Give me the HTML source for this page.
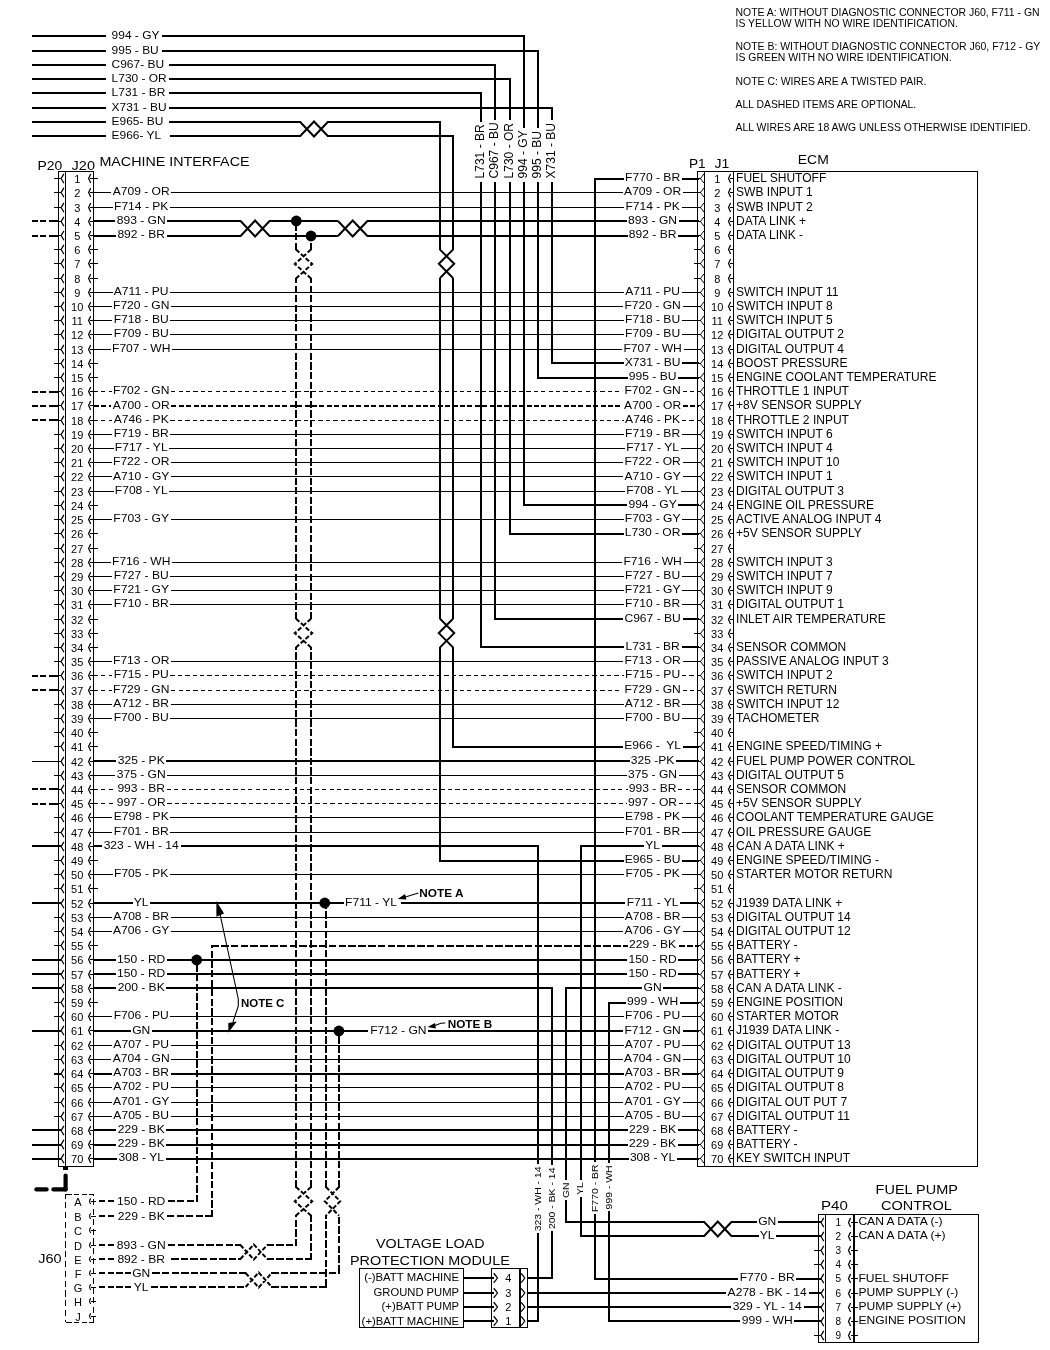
<!DOCTYPE html>
<html><head><meta charset="utf-8"><title>ECM wiring</title>
<style>
html,body{margin:0;padding:0;background:#fff;}
body{width:1050px;height:1350px;overflow:hidden;font-family:"Liberation Sans",sans-serif;}
svg{display:block;}
svg text{font-family:"Liberation Sans",sans-serif;fill:#000;}
</style></head><body>
<svg width="1050" height="1350" viewBox="0 0 1050 1350">
<rect x="0" y="0" width="1050" height="1350" fill="#fff"/>
<g fill="#000" shape-rendering="crispEdges">
<rect x="58" y="171" width="36" height="1"/>
<rect x="58" y="1166" width="36" height="1"/>
<rect x="58" y="171" width="1" height="996"/>
<rect x="93" y="171" width="1" height="996"/>
<rect x="65" y="172" width="1" height="994"/>
<rect x="54" y="178" width="7" height="1"/>
<rect x="90" y="178" width="8" height="1"/>
<rect x="54" y="192" width="7" height="1"/>
<rect x="90" y="192" width="4" height="1"/>
<rect x="54" y="207" width="7" height="1"/>
<rect x="90" y="207" width="4" height="1"/>
<rect x="32" y="220" width="6" height="2"/>
<rect x="40" y="220" width="6" height="2"/>
<rect x="49" y="220" width="9" height="2"/>
<rect x="54" y="221" width="7" height="1"/>
<rect x="90" y="221" width="4" height="1"/>
<rect x="32" y="235" width="6" height="2"/>
<rect x="40" y="235" width="6" height="2"/>
<rect x="49" y="235" width="9" height="2"/>
<rect x="54" y="235" width="7" height="1"/>
<rect x="90" y="235" width="4" height="1"/>
<rect x="54" y="249" width="7" height="1"/>
<rect x="90" y="249" width="8" height="1"/>
<rect x="54" y="263" width="7" height="1"/>
<rect x="90" y="263" width="8" height="1"/>
<rect x="54" y="278" width="7" height="1"/>
<rect x="90" y="278" width="8" height="1"/>
<rect x="54" y="292" width="7" height="1"/>
<rect x="90" y="292" width="4" height="1"/>
<rect x="54" y="306" width="7" height="1"/>
<rect x="90" y="306" width="4" height="1"/>
<rect x="54" y="320" width="7" height="1"/>
<rect x="90" y="320" width="4" height="1"/>
<rect x="54" y="334" width="7" height="1"/>
<rect x="90" y="334" width="4" height="1"/>
<rect x="54" y="349" width="7" height="1"/>
<rect x="90" y="349" width="4" height="1"/>
<rect x="54" y="363" width="7" height="1"/>
<rect x="90" y="363" width="8" height="1"/>
<rect x="54" y="377" width="7" height="1"/>
<rect x="90" y="377" width="8" height="1"/>
<rect x="32" y="391" width="6" height="2"/>
<rect x="40" y="391" width="6" height="2"/>
<rect x="49" y="391" width="9" height="2"/>
<rect x="54" y="391" width="7" height="1"/>
<rect x="90" y="391" width="4" height="1"/>
<rect x="32" y="405" width="6" height="2"/>
<rect x="40" y="405" width="6" height="2"/>
<rect x="49" y="405" width="9" height="2"/>
<rect x="54" y="405" width="7" height="1"/>
<rect x="90" y="405" width="4" height="1"/>
<rect x="32" y="419" width="6" height="2"/>
<rect x="40" y="419" width="6" height="2"/>
<rect x="49" y="419" width="9" height="2"/>
<rect x="54" y="420" width="7" height="1"/>
<rect x="90" y="420" width="4" height="1"/>
<rect x="54" y="434" width="7" height="1"/>
<rect x="90" y="434" width="4" height="1"/>
<rect x="54" y="448" width="7" height="1"/>
<rect x="90" y="448" width="4" height="1"/>
<rect x="54" y="462" width="7" height="1"/>
<rect x="90" y="462" width="4" height="1"/>
<rect x="54" y="476" width="7" height="1"/>
<rect x="90" y="476" width="4" height="1"/>
<rect x="54" y="491" width="7" height="1"/>
<rect x="90" y="491" width="4" height="1"/>
<rect x="54" y="505" width="7" height="1"/>
<rect x="90" y="505" width="8" height="1"/>
<rect x="54" y="519" width="7" height="1"/>
<rect x="90" y="519" width="4" height="1"/>
<rect x="54" y="533" width="7" height="1"/>
<rect x="90" y="533" width="8" height="1"/>
<rect x="54" y="548" width="7" height="1"/>
<rect x="90" y="548" width="8" height="1"/>
<rect x="54" y="562" width="7" height="1"/>
<rect x="90" y="562" width="4" height="1"/>
<rect x="54" y="576" width="7" height="1"/>
<rect x="90" y="576" width="4" height="1"/>
<rect x="54" y="590" width="7" height="1"/>
<rect x="90" y="590" width="4" height="1"/>
<rect x="54" y="604" width="7" height="1"/>
<rect x="90" y="604" width="4" height="1"/>
<rect x="54" y="619" width="7" height="1"/>
<rect x="90" y="619" width="8" height="1"/>
<rect x="54" y="633" width="7" height="1"/>
<rect x="90" y="633" width="8" height="1"/>
<rect x="54" y="647" width="7" height="1"/>
<rect x="90" y="647" width="8" height="1"/>
<rect x="54" y="661" width="7" height="1"/>
<rect x="90" y="661" width="4" height="1"/>
<rect x="32" y="675" width="6" height="2"/>
<rect x="40" y="675" width="6" height="2"/>
<rect x="49" y="675" width="9" height="2"/>
<rect x="54" y="675" width="7" height="1"/>
<rect x="90" y="675" width="4" height="1"/>
<rect x="32" y="689" width="6" height="2"/>
<rect x="40" y="689" width="6" height="2"/>
<rect x="49" y="689" width="9" height="2"/>
<rect x="54" y="690" width="7" height="1"/>
<rect x="90" y="690" width="4" height="1"/>
<rect x="54" y="704" width="7" height="1"/>
<rect x="90" y="704" width="4" height="1"/>
<rect x="54" y="718" width="7" height="1"/>
<rect x="90" y="718" width="4" height="1"/>
<rect x="54" y="732" width="7" height="1"/>
<rect x="90" y="732" width="8" height="1"/>
<rect x="54" y="746" width="7" height="1"/>
<rect x="90" y="746" width="8" height="1"/>
<rect x="32" y="761" width="29" height="1"/>
<rect x="54" y="761" width="7" height="1"/>
<rect x="90" y="761" width="4" height="1"/>
<rect x="54" y="775" width="7" height="1"/>
<rect x="90" y="775" width="4" height="1"/>
<rect x="32" y="788" width="6" height="2"/>
<rect x="40" y="788" width="6" height="2"/>
<rect x="49" y="788" width="9" height="2"/>
<rect x="54" y="789" width="7" height="1"/>
<rect x="90" y="789" width="4" height="1"/>
<rect x="32" y="803" width="6" height="2"/>
<rect x="40" y="803" width="6" height="2"/>
<rect x="49" y="803" width="9" height="2"/>
<rect x="54" y="803" width="7" height="1"/>
<rect x="90" y="803" width="4" height="1"/>
<rect x="54" y="817" width="7" height="1"/>
<rect x="90" y="817" width="4" height="1"/>
<rect x="54" y="832" width="7" height="1"/>
<rect x="90" y="832" width="4" height="1"/>
<rect x="32" y="845" width="29" height="2"/>
<rect x="54" y="846" width="7" height="1"/>
<rect x="90" y="846" width="4" height="1"/>
<rect x="54" y="860" width="7" height="1"/>
<rect x="90" y="860" width="8" height="1"/>
<rect x="54" y="874" width="7" height="1"/>
<rect x="90" y="874" width="4" height="1"/>
<rect x="54" y="888" width="7" height="1"/>
<rect x="90" y="888" width="8" height="1"/>
<rect x="32" y="902" width="29" height="2"/>
<rect x="54" y="903" width="7" height="1"/>
<rect x="90" y="903" width="4" height="1"/>
<rect x="54" y="917" width="7" height="1"/>
<rect x="90" y="917" width="4" height="1"/>
<rect x="54" y="931" width="7" height="1"/>
<rect x="90" y="931" width="4" height="1"/>
<rect x="54" y="945" width="7" height="1"/>
<rect x="90" y="945" width="8" height="1"/>
<rect x="32" y="959" width="29" height="2"/>
<rect x="54" y="959" width="7" height="1"/>
<rect x="90" y="959" width="4" height="1"/>
<rect x="32" y="973" width="29" height="2"/>
<rect x="54" y="974" width="7" height="1"/>
<rect x="90" y="974" width="4" height="1"/>
<rect x="32" y="987" width="29" height="2"/>
<rect x="54" y="988" width="7" height="1"/>
<rect x="90" y="988" width="4" height="1"/>
<rect x="54" y="1002" width="7" height="1"/>
<rect x="90" y="1002" width="8" height="1"/>
<rect x="54" y="1016" width="7" height="1"/>
<rect x="90" y="1016" width="4" height="1"/>
<rect x="32" y="1030" width="29" height="2"/>
<rect x="54" y="1030" width="7" height="1"/>
<rect x="90" y="1030" width="4" height="1"/>
<rect x="54" y="1045" width="7" height="1"/>
<rect x="90" y="1045" width="4" height="1"/>
<rect x="54" y="1059" width="7" height="1"/>
<rect x="90" y="1059" width="4" height="1"/>
<rect x="54" y="1073" width="7" height="2"/>
<rect x="54" y="1073" width="7" height="1"/>
<rect x="90" y="1073" width="4" height="1"/>
<rect x="54" y="1087" width="7" height="1"/>
<rect x="90" y="1087" width="4" height="1"/>
<rect x="54" y="1102" width="7" height="1"/>
<rect x="90" y="1102" width="4" height="1"/>
<rect x="54" y="1116" width="7" height="1"/>
<rect x="90" y="1116" width="4" height="1"/>
<rect x="32" y="1129" width="29" height="2"/>
<rect x="54" y="1130" width="7" height="1"/>
<rect x="90" y="1130" width="4" height="1"/>
<rect x="32" y="1144" width="29" height="2"/>
<rect x="54" y="1144" width="7" height="1"/>
<rect x="90" y="1144" width="4" height="1"/>
<rect x="32" y="1158" width="29" height="2"/>
<rect x="54" y="1158" width="7" height="1"/>
<rect x="90" y="1158" width="4" height="1"/>
<rect x="697" y="171" width="281" height="1"/>
<rect x="697" y="1166" width="281" height="1"/>
<rect x="697" y="171" width="1" height="996"/>
<rect x="977" y="171" width="1" height="996"/>
<rect x="704" y="172" width="1" height="994"/>
<rect x="733" y="172" width="1" height="994"/>
<rect x="698" y="178" width="3" height="1"/>
<rect x="730" y="178" width="4" height="1"/>
<rect x="698" y="192" width="3" height="1"/>
<rect x="730" y="192" width="4" height="1"/>
<rect x="698" y="207" width="3" height="1"/>
<rect x="730" y="207" width="4" height="1"/>
<rect x="698" y="221" width="3" height="1"/>
<rect x="730" y="221" width="4" height="1"/>
<rect x="698" y="235" width="3" height="1"/>
<rect x="730" y="235" width="4" height="1"/>
<rect x="694" y="249" width="7" height="1"/>
<rect x="730" y="249" width="4" height="1"/>
<rect x="694" y="263" width="7" height="1"/>
<rect x="730" y="263" width="4" height="1"/>
<rect x="694" y="278" width="7" height="1"/>
<rect x="730" y="278" width="4" height="1"/>
<rect x="698" y="292" width="3" height="1"/>
<rect x="730" y="292" width="4" height="1"/>
<rect x="698" y="306" width="3" height="1"/>
<rect x="730" y="306" width="4" height="1"/>
<rect x="698" y="320" width="3" height="1"/>
<rect x="730" y="320" width="4" height="1"/>
<rect x="698" y="334" width="3" height="1"/>
<rect x="730" y="334" width="4" height="1"/>
<rect x="698" y="349" width="3" height="1"/>
<rect x="730" y="349" width="4" height="1"/>
<rect x="698" y="363" width="3" height="1"/>
<rect x="730" y="363" width="4" height="1"/>
<rect x="698" y="377" width="3" height="1"/>
<rect x="730" y="377" width="4" height="1"/>
<rect x="698" y="391" width="3" height="1"/>
<rect x="730" y="391" width="4" height="1"/>
<rect x="698" y="405" width="3" height="1"/>
<rect x="730" y="405" width="4" height="1"/>
<rect x="698" y="420" width="3" height="1"/>
<rect x="730" y="420" width="4" height="1"/>
<rect x="698" y="434" width="3" height="1"/>
<rect x="730" y="434" width="4" height="1"/>
<rect x="698" y="448" width="3" height="1"/>
<rect x="730" y="448" width="4" height="1"/>
<rect x="698" y="462" width="3" height="1"/>
<rect x="730" y="462" width="4" height="1"/>
<rect x="698" y="476" width="3" height="1"/>
<rect x="730" y="476" width="4" height="1"/>
<rect x="698" y="491" width="3" height="1"/>
<rect x="730" y="491" width="4" height="1"/>
<rect x="698" y="505" width="3" height="1"/>
<rect x="730" y="505" width="4" height="1"/>
<rect x="698" y="519" width="3" height="1"/>
<rect x="730" y="519" width="4" height="1"/>
<rect x="698" y="533" width="3" height="1"/>
<rect x="730" y="533" width="4" height="1"/>
<rect x="694" y="548" width="7" height="1"/>
<rect x="730" y="548" width="4" height="1"/>
<rect x="698" y="562" width="3" height="1"/>
<rect x="730" y="562" width="4" height="1"/>
<rect x="698" y="576" width="3" height="1"/>
<rect x="730" y="576" width="4" height="1"/>
<rect x="698" y="590" width="3" height="1"/>
<rect x="730" y="590" width="4" height="1"/>
<rect x="698" y="604" width="3" height="1"/>
<rect x="730" y="604" width="4" height="1"/>
<rect x="698" y="619" width="3" height="1"/>
<rect x="730" y="619" width="4" height="1"/>
<rect x="694" y="633" width="7" height="1"/>
<rect x="730" y="633" width="4" height="1"/>
<rect x="698" y="647" width="3" height="1"/>
<rect x="730" y="647" width="4" height="1"/>
<rect x="698" y="661" width="3" height="1"/>
<rect x="730" y="661" width="4" height="1"/>
<rect x="698" y="675" width="3" height="1"/>
<rect x="730" y="675" width="4" height="1"/>
<rect x="698" y="690" width="3" height="1"/>
<rect x="730" y="690" width="4" height="1"/>
<rect x="698" y="704" width="3" height="1"/>
<rect x="730" y="704" width="4" height="1"/>
<rect x="698" y="718" width="3" height="1"/>
<rect x="730" y="718" width="4" height="1"/>
<rect x="694" y="732" width="7" height="1"/>
<rect x="730" y="732" width="4" height="1"/>
<rect x="698" y="746" width="3" height="1"/>
<rect x="730" y="746" width="4" height="1"/>
<rect x="698" y="761" width="3" height="1"/>
<rect x="730" y="761" width="4" height="1"/>
<rect x="698" y="775" width="3" height="1"/>
<rect x="730" y="775" width="4" height="1"/>
<rect x="698" y="789" width="3" height="1"/>
<rect x="730" y="789" width="4" height="1"/>
<rect x="698" y="803" width="3" height="1"/>
<rect x="730" y="803" width="4" height="1"/>
<rect x="698" y="817" width="3" height="1"/>
<rect x="730" y="817" width="4" height="1"/>
<rect x="698" y="832" width="3" height="1"/>
<rect x="730" y="832" width="4" height="1"/>
<rect x="698" y="846" width="3" height="1"/>
<rect x="730" y="846" width="4" height="1"/>
<rect x="698" y="860" width="3" height="1"/>
<rect x="730" y="860" width="4" height="1"/>
<rect x="698" y="874" width="3" height="1"/>
<rect x="730" y="874" width="4" height="1"/>
<rect x="694" y="888" width="7" height="1"/>
<rect x="730" y="888" width="4" height="1"/>
<rect x="698" y="903" width="3" height="1"/>
<rect x="730" y="903" width="4" height="1"/>
<rect x="698" y="917" width="3" height="1"/>
<rect x="730" y="917" width="4" height="1"/>
<rect x="698" y="931" width="3" height="1"/>
<rect x="730" y="931" width="4" height="1"/>
<rect x="698" y="945" width="3" height="1"/>
<rect x="730" y="945" width="4" height="1"/>
<rect x="698" y="959" width="3" height="1"/>
<rect x="730" y="959" width="4" height="1"/>
<rect x="698" y="974" width="3" height="1"/>
<rect x="730" y="974" width="4" height="1"/>
<rect x="698" y="988" width="3" height="1"/>
<rect x="730" y="988" width="4" height="1"/>
<rect x="698" y="1002" width="3" height="1"/>
<rect x="730" y="1002" width="4" height="1"/>
<rect x="698" y="1016" width="3" height="1"/>
<rect x="730" y="1016" width="4" height="1"/>
<rect x="698" y="1030" width="3" height="1"/>
<rect x="730" y="1030" width="4" height="1"/>
<rect x="698" y="1045" width="3" height="1"/>
<rect x="730" y="1045" width="4" height="1"/>
<rect x="698" y="1059" width="3" height="1"/>
<rect x="730" y="1059" width="4" height="1"/>
<rect x="698" y="1073" width="3" height="1"/>
<rect x="730" y="1073" width="4" height="1"/>
<rect x="698" y="1087" width="3" height="1"/>
<rect x="730" y="1087" width="4" height="1"/>
<rect x="698" y="1102" width="3" height="1"/>
<rect x="730" y="1102" width="4" height="1"/>
<rect x="698" y="1116" width="3" height="1"/>
<rect x="730" y="1116" width="4" height="1"/>
<rect x="698" y="1130" width="3" height="1"/>
<rect x="730" y="1130" width="4" height="1"/>
<rect x="698" y="1144" width="3" height="1"/>
<rect x="730" y="1144" width="4" height="1"/>
<rect x="698" y="1158" width="3" height="1"/>
<rect x="730" y="1158" width="4" height="1"/>
<rect x="594" y="178" width="30" height="2"/>
<rect x="682" y="178" width="17" height="2"/>
<rect x="551" y="362" width="73" height="2"/>
<rect x="682" y="362" width="17" height="2"/>
<rect x="537" y="377" width="91" height="2"/>
<rect x="678" y="377" width="21" height="2"/>
<rect x="523" y="504" width="104" height="2"/>
<rect x="678" y="504" width="21" height="2"/>
<rect x="509" y="533" width="115" height="2"/>
<rect x="682" y="533" width="17" height="2"/>
<rect x="494" y="618" width="129" height="2"/>
<rect x="683" y="618" width="16" height="2"/>
<rect x="480" y="646" width="144" height="2"/>
<rect x="682" y="646" width="17" height="2"/>
<rect x="452" y="746" width="171" height="2"/>
<rect x="683" y="746" width="16" height="2"/>
<rect x="94" y="845" width="8" height="2"/>
<rect x="181" y="845" width="358" height="2"/>
<rect x="580" y="845" width="64" height="2"/>
<rect x="662" y="845" width="37" height="2"/>
<rect x="439" y="860" width="185" height="2"/>
<rect x="682" y="860" width="17" height="2"/>
<rect x="94" y="987" width="22" height="2"/>
<rect x="166" y="987" width="387" height="2"/>
<rect x="565" y="987" width="77" height="2"/>
<rect x="663" y="987" width="36" height="2"/>
<rect x="608" y="1002" width="18" height="2"/>
<rect x="680" y="1002" width="19" height="2"/>
<rect x="94" y="192" width="17" height="1"/>
<rect x="171" y="192" width="452" height="1"/>
<rect x="683" y="192" width="16" height="1"/>
<rect x="94" y="207" width="19" height="1"/>
<rect x="170" y="207" width="454" height="1"/>
<rect x="682" y="207" width="17" height="1"/>
<rect x="94" y="292" width="19" height="1"/>
<rect x="170" y="292" width="454" height="1"/>
<rect x="682" y="292" width="17" height="1"/>
<rect x="94" y="306" width="18" height="1"/>
<rect x="171" y="306" width="452" height="1"/>
<rect x="683" y="306" width="16" height="1"/>
<rect x="94" y="320" width="18" height="1"/>
<rect x="170" y="320" width="454" height="1"/>
<rect x="682" y="320" width="17" height="1"/>
<rect x="94" y="334" width="18" height="1"/>
<rect x="170" y="334" width="454" height="1"/>
<rect x="682" y="334" width="17" height="1"/>
<rect x="94" y="349" width="17" height="1"/>
<rect x="172" y="349" width="450" height="1"/>
<rect x="684" y="349" width="15" height="1"/>
<rect x="94" y="391" width="4" height="1"/>
<rect x="101" y="391" width="4" height="1"/>
<rect x="109" y="391" width="3" height="1"/>
<rect x="171" y="391" width="4" height="1"/>
<rect x="179" y="391" width="4" height="1"/>
<rect x="186" y="391" width="4" height="1"/>
<rect x="193" y="391" width="5" height="1"/>
<rect x="201" y="391" width="4" height="1"/>
<rect x="208" y="391" width="4" height="1"/>
<rect x="216" y="391" width="4" height="1"/>
<rect x="223" y="391" width="4" height="1"/>
<rect x="230" y="391" width="5" height="1"/>
<rect x="238" y="391" width="4" height="1"/>
<rect x="245" y="391" width="4" height="1"/>
<rect x="253" y="391" width="4" height="1"/>
<rect x="260" y="391" width="4" height="1"/>
<rect x="267" y="391" width="5" height="1"/>
<rect x="275" y="391" width="4" height="1"/>
<rect x="282" y="391" width="4" height="1"/>
<rect x="290" y="391" width="4" height="1"/>
<rect x="297" y="391" width="4" height="1"/>
<rect x="304" y="391" width="5" height="1"/>
<rect x="312" y="391" width="4" height="1"/>
<rect x="319" y="391" width="4" height="1"/>
<rect x="327" y="391" width="4" height="1"/>
<rect x="334" y="391" width="4" height="1"/>
<rect x="341" y="391" width="5" height="1"/>
<rect x="349" y="391" width="4" height="1"/>
<rect x="356" y="391" width="4" height="1"/>
<rect x="364" y="391" width="4" height="1"/>
<rect x="371" y="391" width="4" height="1"/>
<rect x="378" y="391" width="5" height="1"/>
<rect x="386" y="391" width="4" height="1"/>
<rect x="393" y="391" width="4" height="1"/>
<rect x="401" y="391" width="4" height="1"/>
<rect x="408" y="391" width="4" height="1"/>
<rect x="415" y="391" width="5" height="1"/>
<rect x="423" y="391" width="4" height="1"/>
<rect x="430" y="391" width="4" height="1"/>
<rect x="438" y="391" width="4" height="1"/>
<rect x="445" y="391" width="4" height="1"/>
<rect x="452" y="391" width="5" height="1"/>
<rect x="460" y="391" width="4" height="1"/>
<rect x="467" y="391" width="4" height="1"/>
<rect x="475" y="391" width="4" height="1"/>
<rect x="482" y="391" width="4" height="1"/>
<rect x="489" y="391" width="5" height="1"/>
<rect x="497" y="391" width="4" height="1"/>
<rect x="504" y="391" width="4" height="1"/>
<rect x="512" y="391" width="4" height="1"/>
<rect x="519" y="391" width="4" height="1"/>
<rect x="526" y="391" width="5" height="1"/>
<rect x="534" y="391" width="4" height="1"/>
<rect x="541" y="391" width="4" height="1"/>
<rect x="549" y="391" width="4" height="1"/>
<rect x="556" y="391" width="4" height="1"/>
<rect x="563" y="391" width="5" height="1"/>
<rect x="571" y="391" width="4" height="1"/>
<rect x="578" y="391" width="4" height="1"/>
<rect x="586" y="391" width="4" height="1"/>
<rect x="593" y="391" width="4" height="1"/>
<rect x="600" y="391" width="5" height="1"/>
<rect x="608" y="391" width="4" height="1"/>
<rect x="615" y="391" width="4" height="1"/>
<rect x="623" y="391" width="0" height="1"/>
<rect x="683" y="391" width="4" height="1"/>
<rect x="690" y="391" width="4" height="1"/>
<rect x="697" y="391" width="2" height="1"/>
<rect x="94" y="405" width="5" height="2"/>
<rect x="101" y="405" width="5" height="2"/>
<rect x="109" y="405" width="2" height="2"/>
<rect x="171" y="405" width="5" height="2"/>
<rect x="179" y="405" width="5" height="2"/>
<rect x="186" y="405" width="5" height="2"/>
<rect x="194" y="405" width="5" height="2"/>
<rect x="201" y="405" width="5" height="2"/>
<rect x="208" y="405" width="5" height="2"/>
<rect x="216" y="405" width="5" height="2"/>
<rect x="223" y="405" width="5" height="2"/>
<rect x="231" y="405" width="5" height="2"/>
<rect x="238" y="405" width="5" height="2"/>
<rect x="245" y="405" width="5" height="2"/>
<rect x="253" y="405" width="5" height="2"/>
<rect x="260" y="405" width="5" height="2"/>
<rect x="268" y="405" width="5" height="2"/>
<rect x="275" y="405" width="5" height="2"/>
<rect x="282" y="405" width="5" height="2"/>
<rect x="290" y="405" width="5" height="2"/>
<rect x="297" y="405" width="5" height="2"/>
<rect x="305" y="405" width="5" height="2"/>
<rect x="312" y="405" width="5" height="2"/>
<rect x="319" y="405" width="5" height="2"/>
<rect x="327" y="405" width="5" height="2"/>
<rect x="334" y="405" width="5" height="2"/>
<rect x="342" y="405" width="5" height="2"/>
<rect x="349" y="405" width="5" height="2"/>
<rect x="356" y="405" width="5" height="2"/>
<rect x="364" y="405" width="5" height="2"/>
<rect x="371" y="405" width="5" height="2"/>
<rect x="379" y="405" width="5" height="2"/>
<rect x="386" y="405" width="5" height="2"/>
<rect x="393" y="405" width="5" height="2"/>
<rect x="401" y="405" width="5" height="2"/>
<rect x="408" y="405" width="5" height="2"/>
<rect x="416" y="405" width="5" height="2"/>
<rect x="423" y="405" width="5" height="2"/>
<rect x="430" y="405" width="5" height="2"/>
<rect x="438" y="405" width="5" height="2"/>
<rect x="445" y="405" width="5" height="2"/>
<rect x="453" y="405" width="5" height="2"/>
<rect x="460" y="405" width="5" height="2"/>
<rect x="467" y="405" width="5" height="2"/>
<rect x="475" y="405" width="5" height="2"/>
<rect x="482" y="405" width="5" height="2"/>
<rect x="490" y="405" width="5" height="2"/>
<rect x="497" y="405" width="5" height="2"/>
<rect x="504" y="405" width="5" height="2"/>
<rect x="512" y="405" width="5" height="2"/>
<rect x="519" y="405" width="5" height="2"/>
<rect x="527" y="405" width="5" height="2"/>
<rect x="534" y="405" width="5" height="2"/>
<rect x="541" y="405" width="5" height="2"/>
<rect x="549" y="405" width="5" height="2"/>
<rect x="556" y="405" width="5" height="2"/>
<rect x="564" y="405" width="5" height="2"/>
<rect x="571" y="405" width="5" height="2"/>
<rect x="578" y="405" width="5" height="2"/>
<rect x="586" y="405" width="5" height="2"/>
<rect x="593" y="405" width="5" height="2"/>
<rect x="601" y="405" width="5" height="2"/>
<rect x="608" y="405" width="5" height="2"/>
<rect x="615" y="405" width="5" height="2"/>
<rect x="683" y="405" width="5" height="2"/>
<rect x="690" y="405" width="5" height="2"/>
<rect x="698" y="405" width="1" height="2"/>
<rect x="94" y="420" width="4" height="1"/>
<rect x="101" y="420" width="4" height="1"/>
<rect x="109" y="420" width="3" height="1"/>
<rect x="170" y="420" width="5" height="1"/>
<rect x="178" y="420" width="4" height="1"/>
<rect x="185" y="420" width="5" height="1"/>
<rect x="193" y="420" width="4" height="1"/>
<rect x="200" y="420" width="4" height="1"/>
<rect x="207" y="420" width="5" height="1"/>
<rect x="215" y="420" width="4" height="1"/>
<rect x="222" y="420" width="5" height="1"/>
<rect x="230" y="420" width="4" height="1"/>
<rect x="237" y="420" width="4" height="1"/>
<rect x="244" y="420" width="5" height="1"/>
<rect x="252" y="420" width="4" height="1"/>
<rect x="259" y="420" width="5" height="1"/>
<rect x="267" y="420" width="4" height="1"/>
<rect x="274" y="420" width="4" height="1"/>
<rect x="281" y="420" width="5" height="1"/>
<rect x="289" y="420" width="4" height="1"/>
<rect x="296" y="420" width="5" height="1"/>
<rect x="304" y="420" width="4" height="1"/>
<rect x="311" y="420" width="4" height="1"/>
<rect x="318" y="420" width="5" height="1"/>
<rect x="326" y="420" width="4" height="1"/>
<rect x="333" y="420" width="5" height="1"/>
<rect x="341" y="420" width="4" height="1"/>
<rect x="348" y="420" width="4" height="1"/>
<rect x="355" y="420" width="5" height="1"/>
<rect x="363" y="420" width="4" height="1"/>
<rect x="370" y="420" width="5" height="1"/>
<rect x="378" y="420" width="4" height="1"/>
<rect x="385" y="420" width="4" height="1"/>
<rect x="392" y="420" width="5" height="1"/>
<rect x="400" y="420" width="4" height="1"/>
<rect x="407" y="420" width="5" height="1"/>
<rect x="415" y="420" width="4" height="1"/>
<rect x="422" y="420" width="4" height="1"/>
<rect x="429" y="420" width="5" height="1"/>
<rect x="437" y="420" width="4" height="1"/>
<rect x="444" y="420" width="5" height="1"/>
<rect x="452" y="420" width="4" height="1"/>
<rect x="459" y="420" width="4" height="1"/>
<rect x="466" y="420" width="5" height="1"/>
<rect x="474" y="420" width="4" height="1"/>
<rect x="481" y="420" width="5" height="1"/>
<rect x="489" y="420" width="4" height="1"/>
<rect x="496" y="420" width="4" height="1"/>
<rect x="503" y="420" width="5" height="1"/>
<rect x="511" y="420" width="4" height="1"/>
<rect x="518" y="420" width="5" height="1"/>
<rect x="526" y="420" width="4" height="1"/>
<rect x="533" y="420" width="4" height="1"/>
<rect x="540" y="420" width="5" height="1"/>
<rect x="548" y="420" width="4" height="1"/>
<rect x="555" y="420" width="5" height="1"/>
<rect x="563" y="420" width="4" height="1"/>
<rect x="570" y="420" width="4" height="1"/>
<rect x="577" y="420" width="5" height="1"/>
<rect x="585" y="420" width="4" height="1"/>
<rect x="592" y="420" width="5" height="1"/>
<rect x="600" y="420" width="4" height="1"/>
<rect x="607" y="420" width="4" height="1"/>
<rect x="614" y="420" width="5" height="1"/>
<rect x="622" y="420" width="2" height="1"/>
<rect x="682" y="420" width="4" height="1"/>
<rect x="689" y="420" width="5" height="1"/>
<rect x="697" y="420" width="2" height="1"/>
<rect x="94" y="434" width="18" height="1"/>
<rect x="170" y="434" width="454" height="1"/>
<rect x="682" y="434" width="17" height="1"/>
<rect x="94" y="448" width="20" height="1"/>
<rect x="169" y="448" width="456" height="1"/>
<rect x="681" y="448" width="18" height="1"/>
<rect x="94" y="462" width="18" height="1"/>
<rect x="171" y="462" width="452" height="1"/>
<rect x="683" y="462" width="16" height="1"/>
<rect x="94" y="476" width="18" height="1"/>
<rect x="171" y="476" width="452" height="1"/>
<rect x="683" y="476" width="16" height="1"/>
<rect x="94" y="491" width="20" height="1"/>
<rect x="169" y="491" width="456" height="1"/>
<rect x="681" y="491" width="18" height="1"/>
<rect x="94" y="519" width="18" height="1"/>
<rect x="171" y="519" width="453" height="1"/>
<rect x="682" y="519" width="17" height="1"/>
<rect x="94" y="562" width="17" height="1"/>
<rect x="172" y="562" width="450" height="1"/>
<rect x="684" y="562" width="15" height="1"/>
<rect x="94" y="576" width="18" height="1"/>
<rect x="170" y="576" width="454" height="1"/>
<rect x="682" y="576" width="17" height="1"/>
<rect x="94" y="590" width="18" height="1"/>
<rect x="171" y="590" width="453" height="1"/>
<rect x="682" y="590" width="17" height="1"/>
<rect x="94" y="604" width="18" height="1"/>
<rect x="170" y="604" width="454" height="1"/>
<rect x="682" y="604" width="17" height="1"/>
<rect x="94" y="661" width="18" height="1"/>
<rect x="171" y="661" width="452" height="1"/>
<rect x="683" y="661" width="16" height="1"/>
<rect x="94" y="675" width="4" height="1"/>
<rect x="101" y="675" width="4" height="1"/>
<rect x="109" y="675" width="3" height="1"/>
<rect x="170" y="675" width="5" height="1"/>
<rect x="178" y="675" width="4" height="1"/>
<rect x="185" y="675" width="5" height="1"/>
<rect x="193" y="675" width="4" height="1"/>
<rect x="200" y="675" width="4" height="1"/>
<rect x="207" y="675" width="5" height="1"/>
<rect x="215" y="675" width="4" height="1"/>
<rect x="222" y="675" width="5" height="1"/>
<rect x="230" y="675" width="4" height="1"/>
<rect x="237" y="675" width="4" height="1"/>
<rect x="244" y="675" width="5" height="1"/>
<rect x="252" y="675" width="4" height="1"/>
<rect x="259" y="675" width="5" height="1"/>
<rect x="267" y="675" width="4" height="1"/>
<rect x="274" y="675" width="4" height="1"/>
<rect x="281" y="675" width="5" height="1"/>
<rect x="289" y="675" width="4" height="1"/>
<rect x="296" y="675" width="5" height="1"/>
<rect x="304" y="675" width="4" height="1"/>
<rect x="311" y="675" width="4" height="1"/>
<rect x="318" y="675" width="5" height="1"/>
<rect x="326" y="675" width="4" height="1"/>
<rect x="333" y="675" width="5" height="1"/>
<rect x="341" y="675" width="4" height="1"/>
<rect x="348" y="675" width="4" height="1"/>
<rect x="355" y="675" width="5" height="1"/>
<rect x="363" y="675" width="4" height="1"/>
<rect x="370" y="675" width="5" height="1"/>
<rect x="378" y="675" width="4" height="1"/>
<rect x="385" y="675" width="4" height="1"/>
<rect x="392" y="675" width="5" height="1"/>
<rect x="400" y="675" width="4" height="1"/>
<rect x="407" y="675" width="5" height="1"/>
<rect x="415" y="675" width="4" height="1"/>
<rect x="422" y="675" width="4" height="1"/>
<rect x="429" y="675" width="5" height="1"/>
<rect x="437" y="675" width="4" height="1"/>
<rect x="444" y="675" width="5" height="1"/>
<rect x="452" y="675" width="4" height="1"/>
<rect x="459" y="675" width="4" height="1"/>
<rect x="466" y="675" width="5" height="1"/>
<rect x="474" y="675" width="4" height="1"/>
<rect x="481" y="675" width="5" height="1"/>
<rect x="489" y="675" width="4" height="1"/>
<rect x="496" y="675" width="4" height="1"/>
<rect x="503" y="675" width="5" height="1"/>
<rect x="511" y="675" width="4" height="1"/>
<rect x="518" y="675" width="5" height="1"/>
<rect x="526" y="675" width="4" height="1"/>
<rect x="533" y="675" width="4" height="1"/>
<rect x="540" y="675" width="5" height="1"/>
<rect x="548" y="675" width="4" height="1"/>
<rect x="555" y="675" width="5" height="1"/>
<rect x="563" y="675" width="4" height="1"/>
<rect x="570" y="675" width="4" height="1"/>
<rect x="577" y="675" width="5" height="1"/>
<rect x="585" y="675" width="4" height="1"/>
<rect x="592" y="675" width="5" height="1"/>
<rect x="600" y="675" width="4" height="1"/>
<rect x="607" y="675" width="4" height="1"/>
<rect x="614" y="675" width="5" height="1"/>
<rect x="622" y="675" width="2" height="1"/>
<rect x="682" y="675" width="4" height="1"/>
<rect x="689" y="675" width="5" height="1"/>
<rect x="697" y="675" width="2" height="1"/>
<rect x="94" y="690" width="4" height="1"/>
<rect x="101" y="690" width="4" height="1"/>
<rect x="109" y="690" width="3" height="1"/>
<rect x="171" y="690" width="4" height="1"/>
<rect x="179" y="690" width="4" height="1"/>
<rect x="186" y="690" width="4" height="1"/>
<rect x="193" y="690" width="5" height="1"/>
<rect x="201" y="690" width="4" height="1"/>
<rect x="208" y="690" width="4" height="1"/>
<rect x="216" y="690" width="4" height="1"/>
<rect x="223" y="690" width="4" height="1"/>
<rect x="230" y="690" width="5" height="1"/>
<rect x="238" y="690" width="4" height="1"/>
<rect x="245" y="690" width="4" height="1"/>
<rect x="253" y="690" width="4" height="1"/>
<rect x="260" y="690" width="4" height="1"/>
<rect x="267" y="690" width="5" height="1"/>
<rect x="275" y="690" width="4" height="1"/>
<rect x="282" y="690" width="4" height="1"/>
<rect x="290" y="690" width="4" height="1"/>
<rect x="297" y="690" width="4" height="1"/>
<rect x="304" y="690" width="5" height="1"/>
<rect x="312" y="690" width="4" height="1"/>
<rect x="319" y="690" width="4" height="1"/>
<rect x="327" y="690" width="4" height="1"/>
<rect x="334" y="690" width="4" height="1"/>
<rect x="341" y="690" width="5" height="1"/>
<rect x="349" y="690" width="4" height="1"/>
<rect x="356" y="690" width="4" height="1"/>
<rect x="364" y="690" width="4" height="1"/>
<rect x="371" y="690" width="4" height="1"/>
<rect x="378" y="690" width="5" height="1"/>
<rect x="386" y="690" width="4" height="1"/>
<rect x="393" y="690" width="4" height="1"/>
<rect x="401" y="690" width="4" height="1"/>
<rect x="408" y="690" width="4" height="1"/>
<rect x="415" y="690" width="5" height="1"/>
<rect x="423" y="690" width="4" height="1"/>
<rect x="430" y="690" width="4" height="1"/>
<rect x="438" y="690" width="4" height="1"/>
<rect x="445" y="690" width="4" height="1"/>
<rect x="452" y="690" width="5" height="1"/>
<rect x="460" y="690" width="4" height="1"/>
<rect x="467" y="690" width="4" height="1"/>
<rect x="475" y="690" width="4" height="1"/>
<rect x="482" y="690" width="4" height="1"/>
<rect x="489" y="690" width="5" height="1"/>
<rect x="497" y="690" width="4" height="1"/>
<rect x="504" y="690" width="4" height="1"/>
<rect x="512" y="690" width="4" height="1"/>
<rect x="519" y="690" width="4" height="1"/>
<rect x="526" y="690" width="5" height="1"/>
<rect x="534" y="690" width="4" height="1"/>
<rect x="541" y="690" width="4" height="1"/>
<rect x="549" y="690" width="4" height="1"/>
<rect x="556" y="690" width="4" height="1"/>
<rect x="563" y="690" width="5" height="1"/>
<rect x="571" y="690" width="4" height="1"/>
<rect x="578" y="690" width="4" height="1"/>
<rect x="586" y="690" width="4" height="1"/>
<rect x="593" y="690" width="4" height="1"/>
<rect x="600" y="690" width="5" height="1"/>
<rect x="608" y="690" width="4" height="1"/>
<rect x="615" y="690" width="4" height="1"/>
<rect x="623" y="690" width="0" height="1"/>
<rect x="683" y="690" width="4" height="1"/>
<rect x="690" y="690" width="4" height="1"/>
<rect x="697" y="690" width="2" height="1"/>
<rect x="94" y="704" width="18" height="1"/>
<rect x="171" y="704" width="453" height="1"/>
<rect x="682" y="704" width="17" height="1"/>
<rect x="94" y="718" width="18" height="1"/>
<rect x="170" y="718" width="454" height="1"/>
<rect x="682" y="718" width="17" height="1"/>
<rect x="94" y="760" width="22" height="2"/>
<rect x="166" y="760" width="464" height="2"/>
<rect x="676" y="760" width="23" height="2"/>
<rect x="94" y="775" width="21" height="1"/>
<rect x="167" y="775" width="460" height="1"/>
<rect x="679" y="775" width="20" height="1"/>
<rect x="94" y="789" width="4" height="1"/>
<rect x="101" y="789" width="4" height="1"/>
<rect x="109" y="789" width="4" height="1"/>
<rect x="116" y="789" width="0" height="1"/>
<rect x="167" y="789" width="4" height="1"/>
<rect x="174" y="789" width="4" height="1"/>
<rect x="182" y="789" width="4" height="1"/>
<rect x="189" y="789" width="4" height="1"/>
<rect x="196" y="789" width="5" height="1"/>
<rect x="204" y="789" width="4" height="1"/>
<rect x="211" y="789" width="4" height="1"/>
<rect x="219" y="789" width="4" height="1"/>
<rect x="226" y="789" width="4" height="1"/>
<rect x="233" y="789" width="5" height="1"/>
<rect x="241" y="789" width="4" height="1"/>
<rect x="248" y="789" width="4" height="1"/>
<rect x="256" y="789" width="4" height="1"/>
<rect x="263" y="789" width="4" height="1"/>
<rect x="270" y="789" width="5" height="1"/>
<rect x="278" y="789" width="4" height="1"/>
<rect x="285" y="789" width="4" height="1"/>
<rect x="293" y="789" width="4" height="1"/>
<rect x="300" y="789" width="4" height="1"/>
<rect x="307" y="789" width="5" height="1"/>
<rect x="315" y="789" width="4" height="1"/>
<rect x="322" y="789" width="4" height="1"/>
<rect x="330" y="789" width="4" height="1"/>
<rect x="337" y="789" width="4" height="1"/>
<rect x="344" y="789" width="5" height="1"/>
<rect x="352" y="789" width="4" height="1"/>
<rect x="359" y="789" width="4" height="1"/>
<rect x="367" y="789" width="4" height="1"/>
<rect x="374" y="789" width="4" height="1"/>
<rect x="381" y="789" width="5" height="1"/>
<rect x="389" y="789" width="4" height="1"/>
<rect x="396" y="789" width="4" height="1"/>
<rect x="404" y="789" width="4" height="1"/>
<rect x="411" y="789" width="4" height="1"/>
<rect x="418" y="789" width="5" height="1"/>
<rect x="426" y="789" width="4" height="1"/>
<rect x="433" y="789" width="4" height="1"/>
<rect x="441" y="789" width="4" height="1"/>
<rect x="448" y="789" width="4" height="1"/>
<rect x="455" y="789" width="5" height="1"/>
<rect x="463" y="789" width="4" height="1"/>
<rect x="470" y="789" width="4" height="1"/>
<rect x="478" y="789" width="4" height="1"/>
<rect x="485" y="789" width="4" height="1"/>
<rect x="492" y="789" width="5" height="1"/>
<rect x="500" y="789" width="4" height="1"/>
<rect x="507" y="789" width="4" height="1"/>
<rect x="515" y="789" width="4" height="1"/>
<rect x="522" y="789" width="4" height="1"/>
<rect x="529" y="789" width="5" height="1"/>
<rect x="537" y="789" width="4" height="1"/>
<rect x="544" y="789" width="4" height="1"/>
<rect x="552" y="789" width="4" height="1"/>
<rect x="559" y="789" width="4" height="1"/>
<rect x="566" y="789" width="5" height="1"/>
<rect x="574" y="789" width="4" height="1"/>
<rect x="581" y="789" width="4" height="1"/>
<rect x="589" y="789" width="4" height="1"/>
<rect x="596" y="789" width="4" height="1"/>
<rect x="603" y="789" width="5" height="1"/>
<rect x="611" y="789" width="4" height="1"/>
<rect x="618" y="789" width="4" height="1"/>
<rect x="626" y="789" width="2" height="1"/>
<rect x="678" y="789" width="4" height="1"/>
<rect x="686" y="789" width="4" height="1"/>
<rect x="693" y="789" width="4" height="1"/>
<rect x="94" y="803" width="4" height="1"/>
<rect x="101" y="803" width="4" height="1"/>
<rect x="109" y="803" width="4" height="1"/>
<rect x="167" y="803" width="5" height="1"/>
<rect x="175" y="803" width="4" height="1"/>
<rect x="182" y="803" width="5" height="1"/>
<rect x="190" y="803" width="4" height="1"/>
<rect x="197" y="803" width="4" height="1"/>
<rect x="204" y="803" width="5" height="1"/>
<rect x="212" y="803" width="4" height="1"/>
<rect x="219" y="803" width="5" height="1"/>
<rect x="227" y="803" width="4" height="1"/>
<rect x="234" y="803" width="4" height="1"/>
<rect x="241" y="803" width="5" height="1"/>
<rect x="249" y="803" width="4" height="1"/>
<rect x="256" y="803" width="5" height="1"/>
<rect x="264" y="803" width="4" height="1"/>
<rect x="271" y="803" width="4" height="1"/>
<rect x="278" y="803" width="5" height="1"/>
<rect x="286" y="803" width="4" height="1"/>
<rect x="293" y="803" width="5" height="1"/>
<rect x="301" y="803" width="4" height="1"/>
<rect x="308" y="803" width="4" height="1"/>
<rect x="315" y="803" width="5" height="1"/>
<rect x="323" y="803" width="4" height="1"/>
<rect x="330" y="803" width="5" height="1"/>
<rect x="338" y="803" width="4" height="1"/>
<rect x="345" y="803" width="4" height="1"/>
<rect x="352" y="803" width="5" height="1"/>
<rect x="360" y="803" width="4" height="1"/>
<rect x="367" y="803" width="5" height="1"/>
<rect x="375" y="803" width="4" height="1"/>
<rect x="382" y="803" width="4" height="1"/>
<rect x="389" y="803" width="5" height="1"/>
<rect x="397" y="803" width="4" height="1"/>
<rect x="404" y="803" width="5" height="1"/>
<rect x="412" y="803" width="4" height="1"/>
<rect x="419" y="803" width="4" height="1"/>
<rect x="426" y="803" width="5" height="1"/>
<rect x="434" y="803" width="4" height="1"/>
<rect x="441" y="803" width="5" height="1"/>
<rect x="449" y="803" width="4" height="1"/>
<rect x="456" y="803" width="4" height="1"/>
<rect x="463" y="803" width="5" height="1"/>
<rect x="471" y="803" width="4" height="1"/>
<rect x="478" y="803" width="5" height="1"/>
<rect x="486" y="803" width="4" height="1"/>
<rect x="493" y="803" width="4" height="1"/>
<rect x="500" y="803" width="5" height="1"/>
<rect x="508" y="803" width="4" height="1"/>
<rect x="515" y="803" width="5" height="1"/>
<rect x="523" y="803" width="4" height="1"/>
<rect x="530" y="803" width="4" height="1"/>
<rect x="537" y="803" width="5" height="1"/>
<rect x="545" y="803" width="4" height="1"/>
<rect x="552" y="803" width="5" height="1"/>
<rect x="560" y="803" width="4" height="1"/>
<rect x="567" y="803" width="4" height="1"/>
<rect x="574" y="803" width="5" height="1"/>
<rect x="582" y="803" width="4" height="1"/>
<rect x="589" y="803" width="5" height="1"/>
<rect x="597" y="803" width="4" height="1"/>
<rect x="604" y="803" width="4" height="1"/>
<rect x="611" y="803" width="5" height="1"/>
<rect x="619" y="803" width="4" height="1"/>
<rect x="626" y="803" width="1" height="1"/>
<rect x="679" y="803" width="4" height="1"/>
<rect x="686" y="803" width="5" height="1"/>
<rect x="694" y="803" width="4" height="1"/>
<rect x="94" y="817" width="18" height="1"/>
<rect x="170" y="817" width="454" height="1"/>
<rect x="682" y="817" width="17" height="1"/>
<rect x="94" y="832" width="18" height="1"/>
<rect x="170" y="832" width="454" height="1"/>
<rect x="682" y="832" width="17" height="1"/>
<rect x="94" y="874" width="19" height="1"/>
<rect x="170" y="874" width="454" height="1"/>
<rect x="682" y="874" width="17" height="1"/>
<rect x="94" y="917" width="18" height="1"/>
<rect x="171" y="917" width="453" height="1"/>
<rect x="682" y="917" width="17" height="1"/>
<rect x="94" y="931" width="18" height="1"/>
<rect x="171" y="931" width="452" height="1"/>
<rect x="683" y="931" width="16" height="1"/>
<rect x="94" y="959" width="22" height="2"/>
<rect x="167" y="959" width="460" height="2"/>
<rect x="678" y="959" width="21" height="2"/>
<rect x="94" y="973" width="22" height="2"/>
<rect x="167" y="973" width="460" height="2"/>
<rect x="678" y="973" width="21" height="2"/>
<rect x="94" y="1016" width="18" height="1"/>
<rect x="170" y="1016" width="454" height="1"/>
<rect x="682" y="1016" width="17" height="1"/>
<rect x="94" y="1045" width="18" height="1"/>
<rect x="171" y="1045" width="453" height="1"/>
<rect x="682" y="1045" width="17" height="1"/>
<rect x="94" y="1059" width="17" height="1"/>
<rect x="171" y="1059" width="452" height="1"/>
<rect x="683" y="1059" width="16" height="1"/>
<rect x="94" y="1073" width="18" height="2"/>
<rect x="171" y="1073" width="453" height="2"/>
<rect x="682" y="1073" width="17" height="2"/>
<rect x="94" y="1087" width="18" height="1"/>
<rect x="171" y="1087" width="453" height="1"/>
<rect x="682" y="1087" width="17" height="1"/>
<rect x="94" y="1102" width="18" height="1"/>
<rect x="171" y="1102" width="452" height="1"/>
<rect x="683" y="1102" width="16" height="1"/>
<rect x="94" y="1116" width="18" height="1"/>
<rect x="171" y="1116" width="453" height="1"/>
<rect x="682" y="1116" width="17" height="1"/>
<rect x="94" y="1129" width="22" height="2"/>
<rect x="166" y="1129" width="462" height="2"/>
<rect x="678" y="1129" width="21" height="2"/>
<rect x="94" y="1144" width="22" height="2"/>
<rect x="166" y="1144" width="462" height="2"/>
<rect x="678" y="1144" width="21" height="2"/>
<rect x="94" y="1158" width="23" height="2"/>
<rect x="166" y="1158" width="463" height="2"/>
<rect x="677" y="1158" width="22" height="2"/>
<rect x="94" y="220" width="21" height="2"/>
<rect x="167" y="220" width="74" height="2"/>
<rect x="269" y="220" width="69" height="2"/>
<rect x="367" y="220" width="260" height="2"/>
<rect x="679" y="220" width="20" height="2"/>
<rect x="94" y="235" width="22" height="2"/>
<rect x="167" y="235" width="74" height="2"/>
<rect x="269" y="235" width="69" height="2"/>
<rect x="367" y="235" width="261" height="2"/>
<rect x="678" y="235" width="21" height="2"/>
<rect x="94" y="902" width="39" height="2"/>
<rect x="150" y="902" width="194" height="2"/>
<rect x="401" y="902" width="224" height="2"/>
<rect x="680" y="902" width="19" height="2"/>
<rect x="94" y="1030" width="37" height="2"/>
<rect x="152" y="1030" width="216" height="2"/>
<rect x="428" y="1030" width="195" height="2"/>
<rect x="683" y="1030" width="16" height="2"/>
<rect x="32" y="35" width="74" height="2"/>
<rect x="162" y="35" width="363" height="2"/>
<rect x="32" y="50" width="74" height="2"/>
<rect x="162" y="50" width="377" height="2"/>
<rect x="32" y="64" width="74" height="2"/>
<rect x="169" y="64" width="327" height="2"/>
<rect x="32" y="78" width="74" height="2"/>
<rect x="169" y="78" width="342" height="2"/>
<rect x="32" y="92" width="74" height="2"/>
<rect x="169" y="92" width="313" height="2"/>
<rect x="32" y="107" width="74" height="2"/>
<rect x="169" y="107" width="384" height="2"/>
<rect x="32" y="121" width="74" height="2"/>
<rect x="169" y="121" width="132" height="2"/>
<rect x="327" y="121" width="114" height="2"/>
<rect x="32" y="135" width="74" height="2"/>
<rect x="170" y="135" width="131" height="2"/>
<rect x="327" y="135" width="127" height="2"/>
<rect x="480" y="92" width="2" height="30"/>
<rect x="480" y="182" width="2" height="466"/>
<rect x="494" y="64" width="2" height="56"/>
<rect x="494" y="182" width="2" height="438"/>
<rect x="509" y="78" width="2" height="42"/>
<rect x="509" y="182" width="2" height="353"/>
<rect x="523" y="35" width="2" height="93"/>
<rect x="523" y="182" width="2" height="324"/>
<rect x="537" y="50" width="2" height="78"/>
<rect x="537" y="182" width="2" height="197"/>
<rect x="551" y="107" width="2" height="13"/>
<rect x="551" y="182" width="2" height="182"/>
<rect x="439" y="121" width="2" height="129"/>
<rect x="452" y="135" width="2" height="115"/>
<rect x="439" y="278" width="2" height="341"/>
<rect x="452" y="278" width="2" height="341"/>
<rect x="439" y="647" width="2" height="215"/>
<rect x="452" y="647" width="2" height="101"/>
<rect x="537" y="845" width="2" height="319"/>
<rect x="537" y="1233" width="2" height="89"/>
<rect x="551" y="987" width="2" height="178"/>
<rect x="551" y="1231" width="2" height="48"/>
<rect x="565" y="987" width="2" height="193"/>
<rect x="565" y="1200" width="2" height="23"/>
<rect x="580" y="845" width="2" height="335"/>
<rect x="580" y="1197" width="2" height="40"/>
<rect x="594" y="178" width="2" height="984"/>
<rect x="594" y="1214" width="2" height="66"/>
<rect x="608" y="1002" width="2" height="161"/>
<rect x="608" y="1211" width="2" height="111"/>
<rect x="818" y="1214" width="161" height="1"/>
<rect x="818" y="1342" width="161" height="1"/>
<rect x="818" y="1214" width="1" height="129"/>
<rect x="978" y="1214" width="1" height="129"/>
<rect x="825" y="1214" width="1" height="128"/>
<rect x="853" y="1214" width="2" height="128"/>
<rect x="814" y="1222" width="7" height="1"/>
<rect x="851" y="1222" width="7" height="1"/>
<rect x="731" y="1221" width="26" height="2"/>
<rect x="778" y="1221" width="43" height="2"/>
<rect x="814" y="1236" width="7" height="1"/>
<rect x="851" y="1236" width="7" height="1"/>
<rect x="731" y="1235" width="28" height="2"/>
<rect x="776" y="1235" width="45" height="2"/>
<rect x="814" y="1250" width="7" height="1"/>
<rect x="851" y="1250" width="7" height="1"/>
<rect x="814" y="1264" width="7" height="1"/>
<rect x="851" y="1264" width="7" height="1"/>
<rect x="814" y="1278" width="7" height="1"/>
<rect x="851" y="1278" width="7" height="1"/>
<rect x="594" y="1278" width="144" height="2"/>
<rect x="796" y="1278" width="25" height="2"/>
<rect x="814" y="1293" width="7" height="1"/>
<rect x="851" y="1293" width="7" height="1"/>
<rect x="528" y="1292" width="198" height="2"/>
<rect x="809" y="1292" width="12" height="2"/>
<rect x="814" y="1307" width="7" height="1"/>
<rect x="851" y="1307" width="7" height="1"/>
<rect x="528" y="1306" width="203" height="2"/>
<rect x="804" y="1306" width="17" height="2"/>
<rect x="814" y="1321" width="7" height="1"/>
<rect x="851" y="1321" width="7" height="1"/>
<rect x="608" y="1320" width="132" height="2"/>
<rect x="794" y="1320" width="27" height="2"/>
<rect x="814" y="1335" width="7" height="1"/>
<rect x="851" y="1335" width="7" height="1"/>
<rect x="565" y="1221" width="140" height="2"/>
<rect x="580" y="1235" width="125" height="2"/>
<rect x="359" y="1268" width="105" height="1"/>
<rect x="359" y="1327" width="105" height="1"/>
<rect x="359" y="1268" width="1" height="60"/>
<rect x="463" y="1268" width="1" height="60"/>
<rect x="491" y="1268" width="37" height="1"/>
<rect x="491" y="1327" width="37" height="1"/>
<rect x="491" y="1268" width="1" height="60"/>
<rect x="527" y="1268" width="1" height="60"/>
<rect x="519" y="1269" width="2" height="58"/>
<rect x="464" y="1277" width="30" height="2"/>
<rect x="464" y="1292" width="30" height="2"/>
<rect x="464" y="1306" width="30" height="2"/>
<rect x="464" y="1320" width="30" height="2"/>
<rect x="527" y="1277" width="26" height="2"/>
<rect x="527" y="1320" width="12" height="2"/>
<rect x="65" y="1194" width="1" height="5"/>
<rect x="65" y="1202" width="1" height="6"/>
<rect x="65" y="1212" width="1" height="6"/>
<rect x="65" y="1222" width="1" height="6"/>
<rect x="65" y="1232" width="1" height="6"/>
<rect x="65" y="1241" width="1" height="7"/>
<rect x="65" y="1251" width="1" height="6"/>
<rect x="65" y="1261" width="1" height="6"/>
<rect x="65" y="1271" width="1" height="6"/>
<rect x="65" y="1281" width="1" height="6"/>
<rect x="65" y="1290" width="1" height="7"/>
<rect x="65" y="1300" width="1" height="6"/>
<rect x="65" y="1310" width="1" height="6"/>
<rect x="65" y="1320" width="1" height="2"/>
<rect x="93" y="1194" width="1" height="2"/>
<rect x="93" y="1199" width="1" height="6"/>
<rect x="93" y="1209" width="1" height="6"/>
<rect x="93" y="1219" width="1" height="6"/>
<rect x="93" y="1229" width="1" height="6"/>
<rect x="93" y="1238" width="1" height="7"/>
<rect x="93" y="1248" width="1" height="6"/>
<rect x="93" y="1258" width="1" height="6"/>
<rect x="93" y="1268" width="1" height="6"/>
<rect x="93" y="1278" width="1" height="6"/>
<rect x="93" y="1287" width="1" height="7"/>
<rect x="93" y="1297" width="1" height="6"/>
<rect x="93" y="1307" width="1" height="6"/>
<rect x="93" y="1317" width="1" height="5"/>
<rect x="66" y="1194" width="6" height="1"/>
<rect x="74" y="1194" width="5" height="1"/>
<rect x="82" y="1194" width="5" height="1"/>
<rect x="89" y="1194" width="5" height="1"/>
<rect x="66" y="1322" width="6" height="1"/>
<rect x="74" y="1322" width="5" height="1"/>
<rect x="82" y="1322" width="5" height="1"/>
<rect x="89" y="1322" width="5" height="1"/>
<rect x="91" y="1201" width="5" height="1"/>
<rect x="91" y="1216" width="5" height="1"/>
<rect x="91" y="1230" width="5" height="1"/>
<rect x="91" y="1245" width="5" height="1"/>
<rect x="91" y="1259" width="5" height="1"/>
<rect x="91" y="1273" width="5" height="1"/>
<rect x="91" y="1287" width="5" height="1"/>
<rect x="91" y="1301" width="5" height="1"/>
<rect x="91" y="1316" width="5" height="1"/>
<rect x="99" y="1200" width="6" height="2"/>
<rect x="108" y="1200" width="6" height="2"/>
<rect x="99" y="1215" width="6" height="2"/>
<rect x="108" y="1215" width="6" height="2"/>
<rect x="116" y="1215" width="0" height="2"/>
<rect x="99" y="1244" width="6" height="2"/>
<rect x="108" y="1244" width="6" height="2"/>
<rect x="99" y="1258" width="6" height="2"/>
<rect x="108" y="1258" width="6" height="2"/>
<rect x="99" y="1272" width="6" height="2"/>
<rect x="108" y="1272" width="6" height="2"/>
<rect x="116" y="1272" width="7" height="2"/>
<rect x="125" y="1272" width="6" height="2"/>
<rect x="99" y="1286" width="6" height="2"/>
<rect x="108" y="1286" width="6" height="2"/>
<rect x="116" y="1286" width="7" height="2"/>
<rect x="125" y="1286" width="6" height="2"/>
<rect x="168" y="1200" width="7" height="2"/>
<rect x="177" y="1200" width="7" height="2"/>
<rect x="187" y="1200" width="7" height="2"/>
<rect x="196" y="1200" width="2" height="2"/>
<rect x="196" y="1195" width="2" height="7"/>
<rect x="196" y="1185" width="2" height="8"/>
<rect x="196" y="1176" width="2" height="7"/>
<rect x="196" y="1166" width="2" height="7"/>
<rect x="196" y="1156" width="2" height="8"/>
<rect x="196" y="1147" width="2" height="7"/>
<rect x="196" y="1137" width="2" height="8"/>
<rect x="196" y="1128" width="2" height="7"/>
<rect x="196" y="1118" width="2" height="7"/>
<rect x="196" y="1108" width="2" height="8"/>
<rect x="196" y="1099" width="2" height="7"/>
<rect x="196" y="1089" width="2" height="8"/>
<rect x="196" y="1080" width="2" height="7"/>
<rect x="196" y="1070" width="2" height="7"/>
<rect x="196" y="1060" width="2" height="8"/>
<rect x="196" y="1051" width="2" height="7"/>
<rect x="196" y="1041" width="2" height="8"/>
<rect x="196" y="1032" width="2" height="7"/>
<rect x="196" y="1022" width="2" height="7"/>
<rect x="196" y="1012" width="2" height="8"/>
<rect x="196" y="1003" width="2" height="7"/>
<rect x="196" y="993" width="2" height="8"/>
<rect x="196" y="984" width="2" height="7"/>
<rect x="196" y="974" width="2" height="7"/>
<rect x="196" y="964" width="2" height="8"/>
<rect x="196" y="960" width="2" height="2"/>
<rect x="167" y="1215" width="7" height="2"/>
<rect x="177" y="1215" width="7" height="2"/>
<rect x="186" y="1215" width="7" height="2"/>
<rect x="196" y="1215" width="7" height="2"/>
<rect x="205" y="1215" width="8" height="2"/>
<rect x="211" y="1210" width="2" height="7"/>
<rect x="211" y="1200" width="2" height="8"/>
<rect x="211" y="1191" width="2" height="7"/>
<rect x="211" y="1181" width="2" height="7"/>
<rect x="211" y="1172" width="2" height="7"/>
<rect x="211" y="1162" width="2" height="7"/>
<rect x="211" y="1152" width="2" height="8"/>
<rect x="211" y="1143" width="2" height="7"/>
<rect x="211" y="1133" width="2" height="7"/>
<rect x="211" y="1124" width="2" height="7"/>
<rect x="211" y="1114" width="2" height="7"/>
<rect x="211" y="1104" width="2" height="8"/>
<rect x="211" y="1095" width="2" height="7"/>
<rect x="211" y="1085" width="2" height="7"/>
<rect x="211" y="1076" width="2" height="7"/>
<rect x="211" y="1066" width="2" height="7"/>
<rect x="211" y="1056" width="2" height="8"/>
<rect x="211" y="1047" width="2" height="7"/>
<rect x="211" y="1037" width="2" height="7"/>
<rect x="211" y="1028" width="2" height="7"/>
<rect x="211" y="1018" width="2" height="7"/>
<rect x="211" y="1008" width="2" height="8"/>
<rect x="211" y="999" width="2" height="7"/>
<rect x="211" y="989" width="2" height="7"/>
<rect x="211" y="980" width="2" height="7"/>
<rect x="211" y="970" width="2" height="7"/>
<rect x="211" y="960" width="2" height="8"/>
<rect x="211" y="951" width="2" height="7"/>
<rect x="211" y="945" width="2" height="3"/>
<rect x="211" y="945" width="8" height="2"/>
<rect x="221" y="945" width="8" height="2"/>
<rect x="231" y="945" width="7" height="2"/>
<rect x="241" y="945" width="7" height="2"/>
<rect x="250" y="945" width="8" height="2"/>
<rect x="260" y="945" width="8" height="2"/>
<rect x="270" y="945" width="8" height="2"/>
<rect x="280" y="945" width="7" height="2"/>
<rect x="290" y="945" width="7" height="2"/>
<rect x="299" y="945" width="8" height="2"/>
<rect x="309" y="945" width="8" height="2"/>
<rect x="319" y="945" width="8" height="2"/>
<rect x="329" y="945" width="7" height="2"/>
<rect x="339" y="945" width="7" height="2"/>
<rect x="348" y="945" width="8" height="2"/>
<rect x="358" y="945" width="8" height="2"/>
<rect x="368" y="945" width="8" height="2"/>
<rect x="378" y="945" width="7" height="2"/>
<rect x="388" y="945" width="7" height="2"/>
<rect x="397" y="945" width="8" height="2"/>
<rect x="407" y="945" width="8" height="2"/>
<rect x="417" y="945" width="8" height="2"/>
<rect x="427" y="945" width="7" height="2"/>
<rect x="437" y="945" width="7" height="2"/>
<rect x="446" y="945" width="8" height="2"/>
<rect x="456" y="945" width="8" height="2"/>
<rect x="466" y="945" width="8" height="2"/>
<rect x="476" y="945" width="7" height="2"/>
<rect x="486" y="945" width="7" height="2"/>
<rect x="495" y="945" width="8" height="2"/>
<rect x="505" y="945" width="8" height="2"/>
<rect x="515" y="945" width="8" height="2"/>
<rect x="525" y="945" width="7" height="2"/>
<rect x="535" y="945" width="7" height="2"/>
<rect x="544" y="945" width="8" height="2"/>
<rect x="554" y="945" width="8" height="2"/>
<rect x="564" y="945" width="8" height="2"/>
<rect x="574" y="945" width="7" height="2"/>
<rect x="584" y="945" width="7" height="2"/>
<rect x="593" y="945" width="8" height="2"/>
<rect x="603" y="945" width="8" height="2"/>
<rect x="613" y="945" width="8" height="2"/>
<rect x="623" y="945" width="5" height="2"/>
<rect x="679" y="945" width="6" height="2"/>
<rect x="687" y="945" width="6" height="2"/>
<rect x="695" y="945" width="4" height="2"/>
<rect x="168" y="1244" width="7" height="2"/>
<rect x="178" y="1244" width="7" height="2"/>
<rect x="187" y="1244" width="7" height="2"/>
<rect x="197" y="1244" width="7" height="2"/>
<rect x="206" y="1244" width="8" height="2"/>
<rect x="216" y="1244" width="7" height="2"/>
<rect x="226" y="1244" width="7" height="2"/>
<rect x="235" y="1244" width="6" height="2"/>
<rect x="171" y="1258" width="8" height="2"/>
<rect x="181" y="1258" width="7" height="2"/>
<rect x="190" y="1258" width="8" height="2"/>
<rect x="200" y="1258" width="7" height="2"/>
<rect x="210" y="1258" width="7" height="2"/>
<rect x="219" y="1258" width="8" height="2"/>
<rect x="229" y="1258" width="7" height="2"/>
<rect x="238" y="1258" width="3" height="2"/>
<rect x="267" y="1244" width="7" height="2"/>
<rect x="276" y="1244" width="8" height="2"/>
<rect x="286" y="1244" width="7" height="2"/>
<rect x="296" y="1244" width="1" height="2"/>
<rect x="295" y="1239" width="2" height="7"/>
<rect x="295" y="1229" width="2" height="8"/>
<rect x="295" y="1220" width="2" height="7"/>
<rect x="295" y="1215" width="2" height="2"/>
<rect x="267" y="1258" width="7" height="2"/>
<rect x="276" y="1258" width="8" height="2"/>
<rect x="286" y="1258" width="7" height="2"/>
<rect x="296" y="1258" width="7" height="2"/>
<rect x="305" y="1258" width="7" height="2"/>
<rect x="310" y="1253" width="2" height="7"/>
<rect x="310" y="1243" width="2" height="8"/>
<rect x="310" y="1234" width="2" height="7"/>
<rect x="310" y="1224" width="2" height="7"/>
<rect x="310" y="1215" width="2" height="7"/>
<rect x="152" y="1272" width="8" height="2"/>
<rect x="162" y="1272" width="7" height="2"/>
<rect x="172" y="1272" width="7" height="2"/>
<rect x="181" y="1272" width="8" height="2"/>
<rect x="191" y="1272" width="7" height="2"/>
<rect x="200" y="1272" width="8" height="2"/>
<rect x="210" y="1272" width="7" height="2"/>
<rect x="220" y="1272" width="7" height="2"/>
<rect x="229" y="1272" width="8" height="2"/>
<rect x="239" y="1272" width="7" height="2"/>
<rect x="151" y="1286" width="7" height="2"/>
<rect x="160" y="1286" width="8" height="2"/>
<rect x="170" y="1286" width="7" height="2"/>
<rect x="180" y="1286" width="7" height="2"/>
<rect x="189" y="1286" width="7" height="2"/>
<rect x="199" y="1286" width="7" height="2"/>
<rect x="208" y="1286" width="8" height="2"/>
<rect x="218" y="1286" width="7" height="2"/>
<rect x="228" y="1286" width="7" height="2"/>
<rect x="237" y="1286" width="7" height="2"/>
<rect x="271" y="1272" width="8" height="2"/>
<rect x="281" y="1272" width="7" height="2"/>
<rect x="290" y="1272" width="8" height="2"/>
<rect x="300" y="1272" width="7" height="2"/>
<rect x="310" y="1272" width="7" height="2"/>
<rect x="319" y="1272" width="8" height="2"/>
<rect x="329" y="1272" width="7" height="2"/>
<rect x="338" y="1272" width="2" height="2"/>
<rect x="338" y="1265" width="2" height="7"/>
<rect x="338" y="1255" width="2" height="8"/>
<rect x="338" y="1246" width="2" height="7"/>
<rect x="338" y="1236" width="2" height="7"/>
<rect x="338" y="1226" width="2" height="8"/>
<rect x="338" y="1217" width="2" height="7"/>
<rect x="271" y="1286" width="8" height="2"/>
<rect x="281" y="1286" width="7" height="2"/>
<rect x="290" y="1286" width="8" height="2"/>
<rect x="300" y="1286" width="7" height="2"/>
<rect x="310" y="1286" width="7" height="2"/>
<rect x="319" y="1286" width="8" height="2"/>
<rect x="325" y="1279" width="2" height="7"/>
<rect x="325" y="1269" width="2" height="8"/>
<rect x="325" y="1260" width="2" height="7"/>
<rect x="325" y="1250" width="2" height="7"/>
<rect x="325" y="1240" width="2" height="8"/>
<rect x="325" y="1231" width="2" height="7"/>
<rect x="325" y="1221" width="2" height="8"/>
<rect x="325" y="1215" width="2" height="4"/>
<rect x="325" y="1180" width="2" height="8"/>
<rect x="325" y="1171" width="2" height="7"/>
<rect x="325" y="1161" width="2" height="7"/>
<rect x="325" y="1151" width="2" height="8"/>
<rect x="325" y="1142" width="2" height="7"/>
<rect x="325" y="1132" width="2" height="8"/>
<rect x="325" y="1123" width="2" height="7"/>
<rect x="325" y="1113" width="2" height="7"/>
<rect x="325" y="1103" width="2" height="8"/>
<rect x="325" y="1094" width="2" height="7"/>
<rect x="325" y="1084" width="2" height="8"/>
<rect x="325" y="1075" width="2" height="7"/>
<rect x="325" y="1065" width="2" height="7"/>
<rect x="325" y="1055" width="2" height="8"/>
<rect x="325" y="1046" width="2" height="7"/>
<rect x="325" y="1036" width="2" height="8"/>
<rect x="325" y="1027" width="2" height="7"/>
<rect x="325" y="1017" width="2" height="7"/>
<rect x="325" y="1007" width="2" height="8"/>
<rect x="325" y="998" width="2" height="7"/>
<rect x="325" y="988" width="2" height="8"/>
<rect x="325" y="979" width="2" height="7"/>
<rect x="325" y="969" width="2" height="7"/>
<rect x="325" y="959" width="2" height="8"/>
<rect x="325" y="950" width="2" height="7"/>
<rect x="325" y="940" width="2" height="8"/>
<rect x="325" y="931" width="2" height="7"/>
<rect x="325" y="921" width="2" height="7"/>
<rect x="325" y="911" width="2" height="8"/>
<rect x="325" y="903" width="2" height="6"/>
<rect x="338" y="1180" width="2" height="8"/>
<rect x="338" y="1171" width="2" height="7"/>
<rect x="338" y="1161" width="2" height="7"/>
<rect x="338" y="1151" width="2" height="8"/>
<rect x="338" y="1142" width="2" height="7"/>
<rect x="338" y="1132" width="2" height="8"/>
<rect x="338" y="1123" width="2" height="7"/>
<rect x="338" y="1113" width="2" height="7"/>
<rect x="338" y="1103" width="2" height="8"/>
<rect x="338" y="1094" width="2" height="7"/>
<rect x="338" y="1084" width="2" height="8"/>
<rect x="338" y="1075" width="2" height="7"/>
<rect x="338" y="1065" width="2" height="7"/>
<rect x="338" y="1055" width="2" height="8"/>
<rect x="338" y="1046" width="2" height="7"/>
<rect x="338" y="1036" width="2" height="8"/>
<rect x="338" y="1031" width="2" height="3"/>
<rect x="295" y="1180" width="2" height="8"/>
<rect x="295" y="1171" width="2" height="7"/>
<rect x="295" y="1161" width="2" height="7"/>
<rect x="295" y="1151" width="2" height="8"/>
<rect x="295" y="1142" width="2" height="7"/>
<rect x="295" y="1132" width="2" height="8"/>
<rect x="295" y="1123" width="2" height="7"/>
<rect x="295" y="1113" width="2" height="7"/>
<rect x="295" y="1103" width="2" height="8"/>
<rect x="295" y="1094" width="2" height="7"/>
<rect x="295" y="1084" width="2" height="8"/>
<rect x="295" y="1075" width="2" height="7"/>
<rect x="295" y="1065" width="2" height="7"/>
<rect x="295" y="1055" width="2" height="8"/>
<rect x="295" y="1046" width="2" height="7"/>
<rect x="295" y="1036" width="2" height="8"/>
<rect x="295" y="1027" width="2" height="7"/>
<rect x="295" y="1017" width="2" height="7"/>
<rect x="295" y="1007" width="2" height="8"/>
<rect x="295" y="998" width="2" height="7"/>
<rect x="295" y="988" width="2" height="8"/>
<rect x="295" y="979" width="2" height="7"/>
<rect x="295" y="969" width="2" height="7"/>
<rect x="295" y="959" width="2" height="8"/>
<rect x="295" y="950" width="2" height="7"/>
<rect x="295" y="940" width="2" height="8"/>
<rect x="295" y="931" width="2" height="7"/>
<rect x="295" y="921" width="2" height="7"/>
<rect x="295" y="911" width="2" height="8"/>
<rect x="295" y="902" width="2" height="7"/>
<rect x="295" y="892" width="2" height="8"/>
<rect x="295" y="883" width="2" height="7"/>
<rect x="295" y="873" width="2" height="7"/>
<rect x="295" y="863" width="2" height="8"/>
<rect x="295" y="854" width="2" height="7"/>
<rect x="295" y="844" width="2" height="8"/>
<rect x="295" y="835" width="2" height="7"/>
<rect x="295" y="825" width="2" height="7"/>
<rect x="295" y="815" width="2" height="8"/>
<rect x="295" y="806" width="2" height="7"/>
<rect x="295" y="796" width="2" height="8"/>
<rect x="295" y="787" width="2" height="7"/>
<rect x="295" y="777" width="2" height="7"/>
<rect x="295" y="767" width="2" height="8"/>
<rect x="295" y="758" width="2" height="7"/>
<rect x="295" y="748" width="2" height="8"/>
<rect x="295" y="739" width="2" height="7"/>
<rect x="295" y="729" width="2" height="7"/>
<rect x="295" y="719" width="2" height="8"/>
<rect x="295" y="710" width="2" height="7"/>
<rect x="295" y="700" width="2" height="8"/>
<rect x="295" y="691" width="2" height="7"/>
<rect x="295" y="681" width="2" height="7"/>
<rect x="295" y="671" width="2" height="8"/>
<rect x="295" y="662" width="2" height="7"/>
<rect x="295" y="652" width="2" height="8"/>
<rect x="295" y="647" width="2" height="3"/>
<rect x="310" y="1180" width="2" height="8"/>
<rect x="310" y="1171" width="2" height="7"/>
<rect x="310" y="1161" width="2" height="7"/>
<rect x="310" y="1151" width="2" height="8"/>
<rect x="310" y="1142" width="2" height="7"/>
<rect x="310" y="1132" width="2" height="8"/>
<rect x="310" y="1123" width="2" height="7"/>
<rect x="310" y="1113" width="2" height="7"/>
<rect x="310" y="1103" width="2" height="8"/>
<rect x="310" y="1094" width="2" height="7"/>
<rect x="310" y="1084" width="2" height="8"/>
<rect x="310" y="1075" width="2" height="7"/>
<rect x="310" y="1065" width="2" height="7"/>
<rect x="310" y="1055" width="2" height="8"/>
<rect x="310" y="1046" width="2" height="7"/>
<rect x="310" y="1036" width="2" height="8"/>
<rect x="310" y="1027" width="2" height="7"/>
<rect x="310" y="1017" width="2" height="7"/>
<rect x="310" y="1007" width="2" height="8"/>
<rect x="310" y="998" width="2" height="7"/>
<rect x="310" y="988" width="2" height="8"/>
<rect x="310" y="979" width="2" height="7"/>
<rect x="310" y="969" width="2" height="7"/>
<rect x="310" y="959" width="2" height="8"/>
<rect x="310" y="950" width="2" height="7"/>
<rect x="310" y="940" width="2" height="8"/>
<rect x="310" y="931" width="2" height="7"/>
<rect x="310" y="921" width="2" height="7"/>
<rect x="310" y="911" width="2" height="8"/>
<rect x="310" y="902" width="2" height="7"/>
<rect x="310" y="892" width="2" height="8"/>
<rect x="310" y="883" width="2" height="7"/>
<rect x="310" y="873" width="2" height="7"/>
<rect x="310" y="863" width="2" height="8"/>
<rect x="310" y="854" width="2" height="7"/>
<rect x="310" y="844" width="2" height="8"/>
<rect x="310" y="835" width="2" height="7"/>
<rect x="310" y="825" width="2" height="7"/>
<rect x="310" y="815" width="2" height="8"/>
<rect x="310" y="806" width="2" height="7"/>
<rect x="310" y="796" width="2" height="8"/>
<rect x="310" y="787" width="2" height="7"/>
<rect x="310" y="777" width="2" height="7"/>
<rect x="310" y="767" width="2" height="8"/>
<rect x="310" y="758" width="2" height="7"/>
<rect x="310" y="748" width="2" height="8"/>
<rect x="310" y="739" width="2" height="7"/>
<rect x="310" y="729" width="2" height="7"/>
<rect x="310" y="719" width="2" height="8"/>
<rect x="310" y="710" width="2" height="7"/>
<rect x="310" y="700" width="2" height="8"/>
<rect x="310" y="691" width="2" height="7"/>
<rect x="310" y="681" width="2" height="7"/>
<rect x="310" y="671" width="2" height="8"/>
<rect x="310" y="662" width="2" height="7"/>
<rect x="310" y="652" width="2" height="8"/>
<rect x="310" y="647" width="2" height="3"/>
<rect x="295" y="612" width="2" height="7"/>
<rect x="295" y="602" width="2" height="8"/>
<rect x="295" y="593" width="2" height="7"/>
<rect x="295" y="583" width="2" height="7"/>
<rect x="295" y="574" width="2" height="7"/>
<rect x="295" y="564" width="2" height="7"/>
<rect x="295" y="554" width="2" height="8"/>
<rect x="295" y="545" width="2" height="7"/>
<rect x="295" y="535" width="2" height="7"/>
<rect x="295" y="526" width="2" height="7"/>
<rect x="295" y="516" width="2" height="7"/>
<rect x="295" y="506" width="2" height="8"/>
<rect x="295" y="497" width="2" height="7"/>
<rect x="295" y="487" width="2" height="7"/>
<rect x="295" y="478" width="2" height="7"/>
<rect x="295" y="468" width="2" height="7"/>
<rect x="295" y="458" width="2" height="8"/>
<rect x="295" y="449" width="2" height="7"/>
<rect x="295" y="439" width="2" height="7"/>
<rect x="295" y="430" width="2" height="7"/>
<rect x="295" y="420" width="2" height="7"/>
<rect x="295" y="410" width="2" height="8"/>
<rect x="295" y="401" width="2" height="7"/>
<rect x="295" y="391" width="2" height="7"/>
<rect x="295" y="382" width="2" height="7"/>
<rect x="295" y="372" width="2" height="7"/>
<rect x="295" y="362" width="2" height="8"/>
<rect x="295" y="353" width="2" height="7"/>
<rect x="295" y="343" width="2" height="7"/>
<rect x="295" y="334" width="2" height="7"/>
<rect x="295" y="324" width="2" height="7"/>
<rect x="295" y="314" width="2" height="8"/>
<rect x="295" y="305" width="2" height="7"/>
<rect x="295" y="295" width="2" height="7"/>
<rect x="295" y="286" width="2" height="7"/>
<rect x="295" y="278" width="2" height="5"/>
<rect x="310" y="612" width="2" height="7"/>
<rect x="310" y="602" width="2" height="8"/>
<rect x="310" y="593" width="2" height="7"/>
<rect x="310" y="583" width="2" height="7"/>
<rect x="310" y="574" width="2" height="7"/>
<rect x="310" y="564" width="2" height="7"/>
<rect x="310" y="554" width="2" height="8"/>
<rect x="310" y="545" width="2" height="7"/>
<rect x="310" y="535" width="2" height="7"/>
<rect x="310" y="526" width="2" height="7"/>
<rect x="310" y="516" width="2" height="7"/>
<rect x="310" y="506" width="2" height="8"/>
<rect x="310" y="497" width="2" height="7"/>
<rect x="310" y="487" width="2" height="7"/>
<rect x="310" y="478" width="2" height="7"/>
<rect x="310" y="468" width="2" height="7"/>
<rect x="310" y="458" width="2" height="8"/>
<rect x="310" y="449" width="2" height="7"/>
<rect x="310" y="439" width="2" height="7"/>
<rect x="310" y="430" width="2" height="7"/>
<rect x="310" y="420" width="2" height="7"/>
<rect x="310" y="410" width="2" height="8"/>
<rect x="310" y="401" width="2" height="7"/>
<rect x="310" y="391" width="2" height="7"/>
<rect x="310" y="382" width="2" height="7"/>
<rect x="310" y="372" width="2" height="7"/>
<rect x="310" y="362" width="2" height="8"/>
<rect x="310" y="353" width="2" height="7"/>
<rect x="310" y="343" width="2" height="7"/>
<rect x="310" y="334" width="2" height="7"/>
<rect x="310" y="324" width="2" height="7"/>
<rect x="310" y="314" width="2" height="8"/>
<rect x="310" y="305" width="2" height="7"/>
<rect x="310" y="295" width="2" height="7"/>
<rect x="310" y="286" width="2" height="7"/>
<rect x="310" y="278" width="2" height="5"/>
<rect x="295" y="243" width="2" height="7"/>
<rect x="295" y="233" width="2" height="7"/>
<rect x="295" y="224" width="2" height="7"/>
<rect x="295" y="221" width="2" height="0"/>
<rect x="310" y="243" width="2" height="7"/>
<rect x="310" y="236" width="2" height="4"/>
<rect x="63" y="1166" width="5" height="4"/>
</g>
<g>
<path d="M63.9,173.9 Q62.2,176.9 61.1,178.5 Q62.2,180.1 63.9,183.1" fill="none" stroke="#000" stroke-width="1.25" stroke-linecap="butt" stroke-linejoin="miter"/>
<path d="M90.7,174.0 Q89.5,176.7 88.6,178.5 Q89.5,180.3 90.7,183.0" fill="none" stroke="#000" stroke-width="1.25" stroke-linecap="butt" stroke-linejoin="miter"/>
<path d="M63.9,187.9 Q62.2,190.9 61.1,192.5 Q62.2,194.1 63.9,197.1" fill="none" stroke="#000" stroke-width="1.25" stroke-linecap="butt" stroke-linejoin="miter"/>
<path d="M90.7,188.0 Q89.5,190.7 88.6,192.5 Q89.5,194.3 90.7,197.0" fill="none" stroke="#000" stroke-width="1.25" stroke-linecap="butt" stroke-linejoin="miter"/>
<path d="M63.9,202.9 Q62.2,205.9 61.1,207.5 Q62.2,209.1 63.9,212.1" fill="none" stroke="#000" stroke-width="1.25" stroke-linecap="butt" stroke-linejoin="miter"/>
<path d="M90.7,203.0 Q89.5,205.7 88.6,207.5 Q89.5,209.3 90.7,212.0" fill="none" stroke="#000" stroke-width="1.25" stroke-linecap="butt" stroke-linejoin="miter"/>
<path d="M63.9,216.9 Q62.2,219.9 61.1,221.5 Q62.2,223.1 63.9,226.1" fill="none" stroke="#000" stroke-width="1.25" stroke-linecap="butt" stroke-linejoin="miter"/>
<path d="M90.7,217.0 Q89.5,219.7 88.6,221.5 Q89.5,223.3 90.7,226.0" fill="none" stroke="#000" stroke-width="1.25" stroke-linecap="butt" stroke-linejoin="miter"/>
<path d="M63.9,230.9 Q62.2,233.9 61.1,235.5 Q62.2,237.1 63.9,240.1" fill="none" stroke="#000" stroke-width="1.25" stroke-linecap="butt" stroke-linejoin="miter"/>
<path d="M90.7,231.0 Q89.5,233.7 88.6,235.5 Q89.5,237.3 90.7,240.0" fill="none" stroke="#000" stroke-width="1.25" stroke-linecap="butt" stroke-linejoin="miter"/>
<path d="M63.9,244.9 Q62.2,247.9 61.1,249.5 Q62.2,251.1 63.9,254.1" fill="none" stroke="#000" stroke-width="1.25" stroke-linecap="butt" stroke-linejoin="miter"/>
<path d="M90.7,245.0 Q89.5,247.7 88.6,249.5 Q89.5,251.3 90.7,254.0" fill="none" stroke="#000" stroke-width="1.25" stroke-linecap="butt" stroke-linejoin="miter"/>
<path d="M63.9,258.9 Q62.2,261.9 61.1,263.5 Q62.2,265.1 63.9,268.1" fill="none" stroke="#000" stroke-width="1.25" stroke-linecap="butt" stroke-linejoin="miter"/>
<path d="M90.7,259.0 Q89.5,261.7 88.6,263.5 Q89.5,265.3 90.7,268.0" fill="none" stroke="#000" stroke-width="1.25" stroke-linecap="butt" stroke-linejoin="miter"/>
<path d="M63.9,273.9 Q62.2,276.9 61.1,278.5 Q62.2,280.1 63.9,283.1" fill="none" stroke="#000" stroke-width="1.25" stroke-linecap="butt" stroke-linejoin="miter"/>
<path d="M90.7,274.0 Q89.5,276.7 88.6,278.5 Q89.5,280.3 90.7,283.0" fill="none" stroke="#000" stroke-width="1.25" stroke-linecap="butt" stroke-linejoin="miter"/>
<path d="M63.9,287.9 Q62.2,290.9 61.1,292.5 Q62.2,294.1 63.9,297.1" fill="none" stroke="#000" stroke-width="1.25" stroke-linecap="butt" stroke-linejoin="miter"/>
<path d="M90.7,288.0 Q89.5,290.7 88.6,292.5 Q89.5,294.3 90.7,297.0" fill="none" stroke="#000" stroke-width="1.25" stroke-linecap="butt" stroke-linejoin="miter"/>
<path d="M63.9,301.9 Q62.2,304.9 61.1,306.5 Q62.2,308.1 63.9,311.1" fill="none" stroke="#000" stroke-width="1.25" stroke-linecap="butt" stroke-linejoin="miter"/>
<path d="M90.7,302.0 Q89.5,304.7 88.6,306.5 Q89.5,308.3 90.7,311.0" fill="none" stroke="#000" stroke-width="1.25" stroke-linecap="butt" stroke-linejoin="miter"/>
<path d="M63.9,315.9 Q62.2,318.9 61.1,320.5 Q62.2,322.1 63.9,325.1" fill="none" stroke="#000" stroke-width="1.25" stroke-linecap="butt" stroke-linejoin="miter"/>
<path d="M90.7,316.0 Q89.5,318.7 88.6,320.5 Q89.5,322.3 90.7,325.0" fill="none" stroke="#000" stroke-width="1.25" stroke-linecap="butt" stroke-linejoin="miter"/>
<path d="M63.9,329.9 Q62.2,332.9 61.1,334.5 Q62.2,336.1 63.9,339.1" fill="none" stroke="#000" stroke-width="1.25" stroke-linecap="butt" stroke-linejoin="miter"/>
<path d="M90.7,330.0 Q89.5,332.7 88.6,334.5 Q89.5,336.3 90.7,339.0" fill="none" stroke="#000" stroke-width="1.25" stroke-linecap="butt" stroke-linejoin="miter"/>
<path d="M63.9,344.9 Q62.2,347.9 61.1,349.5 Q62.2,351.1 63.9,354.1" fill="none" stroke="#000" stroke-width="1.25" stroke-linecap="butt" stroke-linejoin="miter"/>
<path d="M90.7,345.0 Q89.5,347.7 88.6,349.5 Q89.5,351.3 90.7,354.0" fill="none" stroke="#000" stroke-width="1.25" stroke-linecap="butt" stroke-linejoin="miter"/>
<path d="M63.9,358.9 Q62.2,361.9 61.1,363.5 Q62.2,365.1 63.9,368.1" fill="none" stroke="#000" stroke-width="1.25" stroke-linecap="butt" stroke-linejoin="miter"/>
<path d="M90.7,359.0 Q89.5,361.7 88.6,363.5 Q89.5,365.3 90.7,368.0" fill="none" stroke="#000" stroke-width="1.25" stroke-linecap="butt" stroke-linejoin="miter"/>
<path d="M63.9,372.9 Q62.2,375.9 61.1,377.5 Q62.2,379.1 63.9,382.1" fill="none" stroke="#000" stroke-width="1.25" stroke-linecap="butt" stroke-linejoin="miter"/>
<path d="M90.7,373.0 Q89.5,375.7 88.6,377.5 Q89.5,379.3 90.7,382.0" fill="none" stroke="#000" stroke-width="1.25" stroke-linecap="butt" stroke-linejoin="miter"/>
<path d="M63.9,386.9 Q62.2,389.9 61.1,391.5 Q62.2,393.1 63.9,396.1" fill="none" stroke="#000" stroke-width="1.25" stroke-linecap="butt" stroke-linejoin="miter"/>
<path d="M90.7,387.0 Q89.5,389.7 88.6,391.5 Q89.5,393.3 90.7,396.0" fill="none" stroke="#000" stroke-width="1.25" stroke-linecap="butt" stroke-linejoin="miter"/>
<path d="M63.9,400.9 Q62.2,403.9 61.1,405.5 Q62.2,407.1 63.9,410.1" fill="none" stroke="#000" stroke-width="1.25" stroke-linecap="butt" stroke-linejoin="miter"/>
<path d="M90.7,401.0 Q89.5,403.7 88.6,405.5 Q89.5,407.3 90.7,410.0" fill="none" stroke="#000" stroke-width="1.25" stroke-linecap="butt" stroke-linejoin="miter"/>
<path d="M63.9,415.9 Q62.2,418.9 61.1,420.5 Q62.2,422.1 63.9,425.1" fill="none" stroke="#000" stroke-width="1.25" stroke-linecap="butt" stroke-linejoin="miter"/>
<path d="M90.7,416.0 Q89.5,418.7 88.6,420.5 Q89.5,422.3 90.7,425.0" fill="none" stroke="#000" stroke-width="1.25" stroke-linecap="butt" stroke-linejoin="miter"/>
<path d="M63.9,429.9 Q62.2,432.9 61.1,434.5 Q62.2,436.1 63.9,439.1" fill="none" stroke="#000" stroke-width="1.25" stroke-linecap="butt" stroke-linejoin="miter"/>
<path d="M90.7,430.0 Q89.5,432.7 88.6,434.5 Q89.5,436.3 90.7,439.0" fill="none" stroke="#000" stroke-width="1.25" stroke-linecap="butt" stroke-linejoin="miter"/>
<path d="M63.9,443.9 Q62.2,446.9 61.1,448.5 Q62.2,450.1 63.9,453.1" fill="none" stroke="#000" stroke-width="1.25" stroke-linecap="butt" stroke-linejoin="miter"/>
<path d="M90.7,444.0 Q89.5,446.7 88.6,448.5 Q89.5,450.3 90.7,453.0" fill="none" stroke="#000" stroke-width="1.25" stroke-linecap="butt" stroke-linejoin="miter"/>
<path d="M63.9,457.9 Q62.2,460.9 61.1,462.5 Q62.2,464.1 63.9,467.1" fill="none" stroke="#000" stroke-width="1.25" stroke-linecap="butt" stroke-linejoin="miter"/>
<path d="M90.7,458.0 Q89.5,460.7 88.6,462.5 Q89.5,464.3 90.7,467.0" fill="none" stroke="#000" stroke-width="1.25" stroke-linecap="butt" stroke-linejoin="miter"/>
<path d="M63.9,471.9 Q62.2,474.9 61.1,476.5 Q62.2,478.1 63.9,481.1" fill="none" stroke="#000" stroke-width="1.25" stroke-linecap="butt" stroke-linejoin="miter"/>
<path d="M90.7,472.0 Q89.5,474.7 88.6,476.5 Q89.5,478.3 90.7,481.0" fill="none" stroke="#000" stroke-width="1.25" stroke-linecap="butt" stroke-linejoin="miter"/>
<path d="M63.9,486.9 Q62.2,489.9 61.1,491.5 Q62.2,493.1 63.9,496.1" fill="none" stroke="#000" stroke-width="1.25" stroke-linecap="butt" stroke-linejoin="miter"/>
<path d="M90.7,487.0 Q89.5,489.7 88.6,491.5 Q89.5,493.3 90.7,496.0" fill="none" stroke="#000" stroke-width="1.25" stroke-linecap="butt" stroke-linejoin="miter"/>
<path d="M63.9,500.9 Q62.2,503.9 61.1,505.5 Q62.2,507.1 63.9,510.1" fill="none" stroke="#000" stroke-width="1.25" stroke-linecap="butt" stroke-linejoin="miter"/>
<path d="M90.7,501.0 Q89.5,503.7 88.6,505.5 Q89.5,507.3 90.7,510.0" fill="none" stroke="#000" stroke-width="1.25" stroke-linecap="butt" stroke-linejoin="miter"/>
<path d="M63.9,514.9 Q62.2,517.9 61.1,519.5 Q62.2,521.1 63.9,524.1" fill="none" stroke="#000" stroke-width="1.25" stroke-linecap="butt" stroke-linejoin="miter"/>
<path d="M90.7,515.0 Q89.5,517.7 88.6,519.5 Q89.5,521.3 90.7,524.0" fill="none" stroke="#000" stroke-width="1.25" stroke-linecap="butt" stroke-linejoin="miter"/>
<path d="M63.9,528.9 Q62.2,531.9 61.1,533.5 Q62.2,535.1 63.9,538.1" fill="none" stroke="#000" stroke-width="1.25" stroke-linecap="butt" stroke-linejoin="miter"/>
<path d="M90.7,529.0 Q89.5,531.7 88.6,533.5 Q89.5,535.3 90.7,538.0" fill="none" stroke="#000" stroke-width="1.25" stroke-linecap="butt" stroke-linejoin="miter"/>
<path d="M63.9,543.9 Q62.2,546.9 61.1,548.5 Q62.2,550.1 63.9,553.1" fill="none" stroke="#000" stroke-width="1.25" stroke-linecap="butt" stroke-linejoin="miter"/>
<path d="M90.7,544.0 Q89.5,546.7 88.6,548.5 Q89.5,550.3 90.7,553.0" fill="none" stroke="#000" stroke-width="1.25" stroke-linecap="butt" stroke-linejoin="miter"/>
<path d="M63.9,557.9 Q62.2,560.9 61.1,562.5 Q62.2,564.1 63.9,567.1" fill="none" stroke="#000" stroke-width="1.25" stroke-linecap="butt" stroke-linejoin="miter"/>
<path d="M90.7,558.0 Q89.5,560.7 88.6,562.5 Q89.5,564.3 90.7,567.0" fill="none" stroke="#000" stroke-width="1.25" stroke-linecap="butt" stroke-linejoin="miter"/>
<path d="M63.9,571.9 Q62.2,574.9 61.1,576.5 Q62.2,578.1 63.9,581.1" fill="none" stroke="#000" stroke-width="1.25" stroke-linecap="butt" stroke-linejoin="miter"/>
<path d="M90.7,572.0 Q89.5,574.7 88.6,576.5 Q89.5,578.3 90.7,581.0" fill="none" stroke="#000" stroke-width="1.25" stroke-linecap="butt" stroke-linejoin="miter"/>
<path d="M63.9,585.9 Q62.2,588.9 61.1,590.5 Q62.2,592.1 63.9,595.1" fill="none" stroke="#000" stroke-width="1.25" stroke-linecap="butt" stroke-linejoin="miter"/>
<path d="M90.7,586.0 Q89.5,588.7 88.6,590.5 Q89.5,592.3 90.7,595.0" fill="none" stroke="#000" stroke-width="1.25" stroke-linecap="butt" stroke-linejoin="miter"/>
<path d="M63.9,599.9 Q62.2,602.9 61.1,604.5 Q62.2,606.1 63.9,609.1" fill="none" stroke="#000" stroke-width="1.25" stroke-linecap="butt" stroke-linejoin="miter"/>
<path d="M90.7,600.0 Q89.5,602.7 88.6,604.5 Q89.5,606.3 90.7,609.0" fill="none" stroke="#000" stroke-width="1.25" stroke-linecap="butt" stroke-linejoin="miter"/>
<path d="M63.9,614.9 Q62.2,617.9 61.1,619.5 Q62.2,621.1 63.9,624.1" fill="none" stroke="#000" stroke-width="1.25" stroke-linecap="butt" stroke-linejoin="miter"/>
<path d="M90.7,615.0 Q89.5,617.7 88.6,619.5 Q89.5,621.3 90.7,624.0" fill="none" stroke="#000" stroke-width="1.25" stroke-linecap="butt" stroke-linejoin="miter"/>
<path d="M63.9,628.9 Q62.2,631.9 61.1,633.5 Q62.2,635.1 63.9,638.1" fill="none" stroke="#000" stroke-width="1.25" stroke-linecap="butt" stroke-linejoin="miter"/>
<path d="M90.7,629.0 Q89.5,631.7 88.6,633.5 Q89.5,635.3 90.7,638.0" fill="none" stroke="#000" stroke-width="1.25" stroke-linecap="butt" stroke-linejoin="miter"/>
<path d="M63.9,642.9 Q62.2,645.9 61.1,647.5 Q62.2,649.1 63.9,652.1" fill="none" stroke="#000" stroke-width="1.25" stroke-linecap="butt" stroke-linejoin="miter"/>
<path d="M90.7,643.0 Q89.5,645.7 88.6,647.5 Q89.5,649.3 90.7,652.0" fill="none" stroke="#000" stroke-width="1.25" stroke-linecap="butt" stroke-linejoin="miter"/>
<path d="M63.9,656.9 Q62.2,659.9 61.1,661.5 Q62.2,663.1 63.9,666.1" fill="none" stroke="#000" stroke-width="1.25" stroke-linecap="butt" stroke-linejoin="miter"/>
<path d="M90.7,657.0 Q89.5,659.7 88.6,661.5 Q89.5,663.3 90.7,666.0" fill="none" stroke="#000" stroke-width="1.25" stroke-linecap="butt" stroke-linejoin="miter"/>
<path d="M63.9,670.9 Q62.2,673.9 61.1,675.5 Q62.2,677.1 63.9,680.1" fill="none" stroke="#000" stroke-width="1.25" stroke-linecap="butt" stroke-linejoin="miter"/>
<path d="M90.7,671.0 Q89.5,673.7 88.6,675.5 Q89.5,677.3 90.7,680.0" fill="none" stroke="#000" stroke-width="1.25" stroke-linecap="butt" stroke-linejoin="miter"/>
<path d="M63.9,685.9 Q62.2,688.9 61.1,690.5 Q62.2,692.1 63.9,695.1" fill="none" stroke="#000" stroke-width="1.25" stroke-linecap="butt" stroke-linejoin="miter"/>
<path d="M90.7,686.0 Q89.5,688.7 88.6,690.5 Q89.5,692.3 90.7,695.0" fill="none" stroke="#000" stroke-width="1.25" stroke-linecap="butt" stroke-linejoin="miter"/>
<path d="M63.9,699.9 Q62.2,702.9 61.1,704.5 Q62.2,706.1 63.9,709.1" fill="none" stroke="#000" stroke-width="1.25" stroke-linecap="butt" stroke-linejoin="miter"/>
<path d="M90.7,700.0 Q89.5,702.7 88.6,704.5 Q89.5,706.3 90.7,709.0" fill="none" stroke="#000" stroke-width="1.25" stroke-linecap="butt" stroke-linejoin="miter"/>
<path d="M63.9,713.9 Q62.2,716.9 61.1,718.5 Q62.2,720.1 63.9,723.1" fill="none" stroke="#000" stroke-width="1.25" stroke-linecap="butt" stroke-linejoin="miter"/>
<path d="M90.7,714.0 Q89.5,716.7 88.6,718.5 Q89.5,720.3 90.7,723.0" fill="none" stroke="#000" stroke-width="1.25" stroke-linecap="butt" stroke-linejoin="miter"/>
<path d="M63.9,727.9 Q62.2,730.9 61.1,732.5 Q62.2,734.1 63.9,737.1" fill="none" stroke="#000" stroke-width="1.25" stroke-linecap="butt" stroke-linejoin="miter"/>
<path d="M90.7,728.0 Q89.5,730.7 88.6,732.5 Q89.5,734.3 90.7,737.0" fill="none" stroke="#000" stroke-width="1.25" stroke-linecap="butt" stroke-linejoin="miter"/>
<path d="M63.9,741.9 Q62.2,744.9 61.1,746.5 Q62.2,748.1 63.9,751.1" fill="none" stroke="#000" stroke-width="1.25" stroke-linecap="butt" stroke-linejoin="miter"/>
<path d="M90.7,742.0 Q89.5,744.7 88.6,746.5 Q89.5,748.3 90.7,751.0" fill="none" stroke="#000" stroke-width="1.25" stroke-linecap="butt" stroke-linejoin="miter"/>
<path d="M63.9,756.9 Q62.2,759.9 61.1,761.5 Q62.2,763.1 63.9,766.1" fill="none" stroke="#000" stroke-width="1.25" stroke-linecap="butt" stroke-linejoin="miter"/>
<path d="M90.7,757.0 Q89.5,759.7 88.6,761.5 Q89.5,763.3 90.7,766.0" fill="none" stroke="#000" stroke-width="1.25" stroke-linecap="butt" stroke-linejoin="miter"/>
<path d="M63.9,770.9 Q62.2,773.9 61.1,775.5 Q62.2,777.1 63.9,780.1" fill="none" stroke="#000" stroke-width="1.25" stroke-linecap="butt" stroke-linejoin="miter"/>
<path d="M90.7,771.0 Q89.5,773.7 88.6,775.5 Q89.5,777.3 90.7,780.0" fill="none" stroke="#000" stroke-width="1.25" stroke-linecap="butt" stroke-linejoin="miter"/>
<path d="M63.9,784.9 Q62.2,787.9 61.1,789.5 Q62.2,791.1 63.9,794.1" fill="none" stroke="#000" stroke-width="1.25" stroke-linecap="butt" stroke-linejoin="miter"/>
<path d="M90.7,785.0 Q89.5,787.7 88.6,789.5 Q89.5,791.3 90.7,794.0" fill="none" stroke="#000" stroke-width="1.25" stroke-linecap="butt" stroke-linejoin="miter"/>
<path d="M63.9,798.9 Q62.2,801.9 61.1,803.5 Q62.2,805.1 63.9,808.1" fill="none" stroke="#000" stroke-width="1.25" stroke-linecap="butt" stroke-linejoin="miter"/>
<path d="M90.7,799.0 Q89.5,801.7 88.6,803.5 Q89.5,805.3 90.7,808.0" fill="none" stroke="#000" stroke-width="1.25" stroke-linecap="butt" stroke-linejoin="miter"/>
<path d="M63.9,812.9 Q62.2,815.9 61.1,817.5 Q62.2,819.1 63.9,822.1" fill="none" stroke="#000" stroke-width="1.25" stroke-linecap="butt" stroke-linejoin="miter"/>
<path d="M90.7,813.0 Q89.5,815.7 88.6,817.5 Q89.5,819.3 90.7,822.0" fill="none" stroke="#000" stroke-width="1.25" stroke-linecap="butt" stroke-linejoin="miter"/>
<path d="M63.9,827.9 Q62.2,830.9 61.1,832.5 Q62.2,834.1 63.9,837.1" fill="none" stroke="#000" stroke-width="1.25" stroke-linecap="butt" stroke-linejoin="miter"/>
<path d="M90.7,828.0 Q89.5,830.7 88.6,832.5 Q89.5,834.3 90.7,837.0" fill="none" stroke="#000" stroke-width="1.25" stroke-linecap="butt" stroke-linejoin="miter"/>
<path d="M63.9,841.9 Q62.2,844.9 61.1,846.5 Q62.2,848.1 63.9,851.1" fill="none" stroke="#000" stroke-width="1.25" stroke-linecap="butt" stroke-linejoin="miter"/>
<path d="M90.7,842.0 Q89.5,844.7 88.6,846.5 Q89.5,848.3 90.7,851.0" fill="none" stroke="#000" stroke-width="1.25" stroke-linecap="butt" stroke-linejoin="miter"/>
<path d="M63.9,855.9 Q62.2,858.9 61.1,860.5 Q62.2,862.1 63.9,865.1" fill="none" stroke="#000" stroke-width="1.25" stroke-linecap="butt" stroke-linejoin="miter"/>
<path d="M90.7,856.0 Q89.5,858.7 88.6,860.5 Q89.5,862.3 90.7,865.0" fill="none" stroke="#000" stroke-width="1.25" stroke-linecap="butt" stroke-linejoin="miter"/>
<path d="M63.9,869.9 Q62.2,872.9 61.1,874.5 Q62.2,876.1 63.9,879.1" fill="none" stroke="#000" stroke-width="1.25" stroke-linecap="butt" stroke-linejoin="miter"/>
<path d="M90.7,870.0 Q89.5,872.7 88.6,874.5 Q89.5,876.3 90.7,879.0" fill="none" stroke="#000" stroke-width="1.25" stroke-linecap="butt" stroke-linejoin="miter"/>
<path d="M63.9,883.9 Q62.2,886.9 61.1,888.5 Q62.2,890.1 63.9,893.1" fill="none" stroke="#000" stroke-width="1.25" stroke-linecap="butt" stroke-linejoin="miter"/>
<path d="M90.7,884.0 Q89.5,886.7 88.6,888.5 Q89.5,890.3 90.7,893.0" fill="none" stroke="#000" stroke-width="1.25" stroke-linecap="butt" stroke-linejoin="miter"/>
<path d="M63.9,898.9 Q62.2,901.9 61.1,903.5 Q62.2,905.1 63.9,908.1" fill="none" stroke="#000" stroke-width="1.25" stroke-linecap="butt" stroke-linejoin="miter"/>
<path d="M90.7,899.0 Q89.5,901.7 88.6,903.5 Q89.5,905.3 90.7,908.0" fill="none" stroke="#000" stroke-width="1.25" stroke-linecap="butt" stroke-linejoin="miter"/>
<path d="M63.9,912.9 Q62.2,915.9 61.1,917.5 Q62.2,919.1 63.9,922.1" fill="none" stroke="#000" stroke-width="1.25" stroke-linecap="butt" stroke-linejoin="miter"/>
<path d="M90.7,913.0 Q89.5,915.7 88.6,917.5 Q89.5,919.3 90.7,922.0" fill="none" stroke="#000" stroke-width="1.25" stroke-linecap="butt" stroke-linejoin="miter"/>
<path d="M63.9,926.9 Q62.2,929.9 61.1,931.5 Q62.2,933.1 63.9,936.1" fill="none" stroke="#000" stroke-width="1.25" stroke-linecap="butt" stroke-linejoin="miter"/>
<path d="M90.7,927.0 Q89.5,929.7 88.6,931.5 Q89.5,933.3 90.7,936.0" fill="none" stroke="#000" stroke-width="1.25" stroke-linecap="butt" stroke-linejoin="miter"/>
<path d="M63.9,940.9 Q62.2,943.9 61.1,945.5 Q62.2,947.1 63.9,950.1" fill="none" stroke="#000" stroke-width="1.25" stroke-linecap="butt" stroke-linejoin="miter"/>
<path d="M90.7,941.0 Q89.5,943.7 88.6,945.5 Q89.5,947.3 90.7,950.0" fill="none" stroke="#000" stroke-width="1.25" stroke-linecap="butt" stroke-linejoin="miter"/>
<path d="M63.9,954.9 Q62.2,957.9 61.1,959.5 Q62.2,961.1 63.9,964.1" fill="none" stroke="#000" stroke-width="1.25" stroke-linecap="butt" stroke-linejoin="miter"/>
<path d="M90.7,955.0 Q89.5,957.7 88.6,959.5 Q89.5,961.3 90.7,964.0" fill="none" stroke="#000" stroke-width="1.25" stroke-linecap="butt" stroke-linejoin="miter"/>
<path d="M63.9,969.9 Q62.2,972.9 61.1,974.5 Q62.2,976.1 63.9,979.1" fill="none" stroke="#000" stroke-width="1.25" stroke-linecap="butt" stroke-linejoin="miter"/>
<path d="M90.7,970.0 Q89.5,972.7 88.6,974.5 Q89.5,976.3 90.7,979.0" fill="none" stroke="#000" stroke-width="1.25" stroke-linecap="butt" stroke-linejoin="miter"/>
<path d="M63.9,983.9 Q62.2,986.9 61.1,988.5 Q62.2,990.1 63.9,993.1" fill="none" stroke="#000" stroke-width="1.25" stroke-linecap="butt" stroke-linejoin="miter"/>
<path d="M90.7,984.0 Q89.5,986.7 88.6,988.5 Q89.5,990.3 90.7,993.0" fill="none" stroke="#000" stroke-width="1.25" stroke-linecap="butt" stroke-linejoin="miter"/>
<path d="M63.9,997.9 Q62.2,1000.9 61.1,1002.5 Q62.2,1004.1 63.9,1007.1" fill="none" stroke="#000" stroke-width="1.25" stroke-linecap="butt" stroke-linejoin="miter"/>
<path d="M90.7,998.0 Q89.5,1000.7 88.6,1002.5 Q89.5,1004.3 90.7,1007.0" fill="none" stroke="#000" stroke-width="1.25" stroke-linecap="butt" stroke-linejoin="miter"/>
<path d="M63.9,1011.9 Q62.2,1014.9 61.1,1016.5 Q62.2,1018.1 63.9,1021.1" fill="none" stroke="#000" stroke-width="1.25" stroke-linecap="butt" stroke-linejoin="miter"/>
<path d="M90.7,1012.0 Q89.5,1014.7 88.6,1016.5 Q89.5,1018.3 90.7,1021.0" fill="none" stroke="#000" stroke-width="1.25" stroke-linecap="butt" stroke-linejoin="miter"/>
<path d="M63.9,1025.9 Q62.2,1028.9 61.1,1030.5 Q62.2,1032.1 63.9,1035.1" fill="none" stroke="#000" stroke-width="1.25" stroke-linecap="butt" stroke-linejoin="miter"/>
<path d="M90.7,1026.0 Q89.5,1028.7 88.6,1030.5 Q89.5,1032.3 90.7,1035.0" fill="none" stroke="#000" stroke-width="1.25" stroke-linecap="butt" stroke-linejoin="miter"/>
<path d="M63.9,1040.9 Q62.2,1043.9 61.1,1045.5 Q62.2,1047.1 63.9,1050.1" fill="none" stroke="#000" stroke-width="1.25" stroke-linecap="butt" stroke-linejoin="miter"/>
<path d="M90.7,1041.0 Q89.5,1043.7 88.6,1045.5 Q89.5,1047.3 90.7,1050.0" fill="none" stroke="#000" stroke-width="1.25" stroke-linecap="butt" stroke-linejoin="miter"/>
<path d="M63.9,1054.9 Q62.2,1057.9 61.1,1059.5 Q62.2,1061.1 63.9,1064.1" fill="none" stroke="#000" stroke-width="1.25" stroke-linecap="butt" stroke-linejoin="miter"/>
<path d="M90.7,1055.0 Q89.5,1057.7 88.6,1059.5 Q89.5,1061.3 90.7,1064.0" fill="none" stroke="#000" stroke-width="1.25" stroke-linecap="butt" stroke-linejoin="miter"/>
<path d="M63.9,1068.9 Q62.2,1071.9 61.1,1073.5 Q62.2,1075.1 63.9,1078.1" fill="none" stroke="#000" stroke-width="1.25" stroke-linecap="butt" stroke-linejoin="miter"/>
<path d="M90.7,1069.0 Q89.5,1071.7 88.6,1073.5 Q89.5,1075.3 90.7,1078.0" fill="none" stroke="#000" stroke-width="1.25" stroke-linecap="butt" stroke-linejoin="miter"/>
<path d="M63.9,1082.9 Q62.2,1085.9 61.1,1087.5 Q62.2,1089.1 63.9,1092.1" fill="none" stroke="#000" stroke-width="1.25" stroke-linecap="butt" stroke-linejoin="miter"/>
<path d="M90.7,1083.0 Q89.5,1085.7 88.6,1087.5 Q89.5,1089.3 90.7,1092.0" fill="none" stroke="#000" stroke-width="1.25" stroke-linecap="butt" stroke-linejoin="miter"/>
<path d="M63.9,1097.9 Q62.2,1100.9 61.1,1102.5 Q62.2,1104.1 63.9,1107.1" fill="none" stroke="#000" stroke-width="1.25" stroke-linecap="butt" stroke-linejoin="miter"/>
<path d="M90.7,1098.0 Q89.5,1100.7 88.6,1102.5 Q89.5,1104.3 90.7,1107.0" fill="none" stroke="#000" stroke-width="1.25" stroke-linecap="butt" stroke-linejoin="miter"/>
<path d="M63.9,1111.9 Q62.2,1114.9 61.1,1116.5 Q62.2,1118.1 63.9,1121.1" fill="none" stroke="#000" stroke-width="1.25" stroke-linecap="butt" stroke-linejoin="miter"/>
<path d="M90.7,1112.0 Q89.5,1114.7 88.6,1116.5 Q89.5,1118.3 90.7,1121.0" fill="none" stroke="#000" stroke-width="1.25" stroke-linecap="butt" stroke-linejoin="miter"/>
<path d="M63.9,1125.9 Q62.2,1128.9 61.1,1130.5 Q62.2,1132.1 63.9,1135.1" fill="none" stroke="#000" stroke-width="1.25" stroke-linecap="butt" stroke-linejoin="miter"/>
<path d="M90.7,1126.0 Q89.5,1128.7 88.6,1130.5 Q89.5,1132.3 90.7,1135.0" fill="none" stroke="#000" stroke-width="1.25" stroke-linecap="butt" stroke-linejoin="miter"/>
<path d="M63.9,1139.9 Q62.2,1142.9 61.1,1144.5 Q62.2,1146.1 63.9,1149.1" fill="none" stroke="#000" stroke-width="1.25" stroke-linecap="butt" stroke-linejoin="miter"/>
<path d="M90.7,1140.0 Q89.5,1142.7 88.6,1144.5 Q89.5,1146.3 90.7,1149.0" fill="none" stroke="#000" stroke-width="1.25" stroke-linecap="butt" stroke-linejoin="miter"/>
<path d="M63.9,1153.9 Q62.2,1156.9 61.1,1158.5 Q62.2,1160.1 63.9,1163.1" fill="none" stroke="#000" stroke-width="1.25" stroke-linecap="butt" stroke-linejoin="miter"/>
<path d="M90.7,1154.0 Q89.5,1156.7 88.6,1158.5 Q89.5,1160.3 90.7,1163.0" fill="none" stroke="#000" stroke-width="1.25" stroke-linecap="butt" stroke-linejoin="miter"/>
<path d="M703.9,173.9 Q701.8,176.9 700.4,178.5 Q701.8,180.1 703.9,183.1" fill="none" stroke="#000" stroke-width="1.0" stroke-linecap="butt" stroke-linejoin="miter"/>
<path d="M730.6,174.0 Q729.4,176.7 728.5,178.5 Q729.4,180.3 730.6,183.0" fill="none" stroke="#000" stroke-width="1.25" stroke-linecap="butt" stroke-linejoin="miter"/>
<path d="M703.9,187.9 Q701.8,190.9 700.4,192.5 Q701.8,194.1 703.9,197.1" fill="none" stroke="#000" stroke-width="1.0" stroke-linecap="butt" stroke-linejoin="miter"/>
<path d="M730.6,188.0 Q729.4,190.7 728.5,192.5 Q729.4,194.3 730.6,197.0" fill="none" stroke="#000" stroke-width="1.25" stroke-linecap="butt" stroke-linejoin="miter"/>
<path d="M703.9,202.9 Q701.8,205.9 700.4,207.5 Q701.8,209.1 703.9,212.1" fill="none" stroke="#000" stroke-width="1.0" stroke-linecap="butt" stroke-linejoin="miter"/>
<path d="M730.6,203.0 Q729.4,205.7 728.5,207.5 Q729.4,209.3 730.6,212.0" fill="none" stroke="#000" stroke-width="1.25" stroke-linecap="butt" stroke-linejoin="miter"/>
<path d="M703.9,216.9 Q701.8,219.9 700.4,221.5 Q701.8,223.1 703.9,226.1" fill="none" stroke="#000" stroke-width="1.0" stroke-linecap="butt" stroke-linejoin="miter"/>
<path d="M730.6,217.0 Q729.4,219.7 728.5,221.5 Q729.4,223.3 730.6,226.0" fill="none" stroke="#000" stroke-width="1.25" stroke-linecap="butt" stroke-linejoin="miter"/>
<path d="M703.9,230.9 Q701.8,233.9 700.4,235.5 Q701.8,237.1 703.9,240.1" fill="none" stroke="#000" stroke-width="1.0" stroke-linecap="butt" stroke-linejoin="miter"/>
<path d="M730.6,231.0 Q729.4,233.7 728.5,235.5 Q729.4,237.3 730.6,240.0" fill="none" stroke="#000" stroke-width="1.25" stroke-linecap="butt" stroke-linejoin="miter"/>
<path d="M703.9,244.9 Q701.8,247.9 700.4,249.5 Q701.8,251.1 703.9,254.1" fill="none" stroke="#000" stroke-width="1.0" stroke-linecap="butt" stroke-linejoin="miter"/>
<path d="M730.6,245.0 Q729.4,247.7 728.5,249.5 Q729.4,251.3 730.6,254.0" fill="none" stroke="#000" stroke-width="1.25" stroke-linecap="butt" stroke-linejoin="miter"/>
<path d="M703.9,258.9 Q701.8,261.9 700.4,263.5 Q701.8,265.1 703.9,268.1" fill="none" stroke="#000" stroke-width="1.0" stroke-linecap="butt" stroke-linejoin="miter"/>
<path d="M730.6,259.0 Q729.4,261.7 728.5,263.5 Q729.4,265.3 730.6,268.0" fill="none" stroke="#000" stroke-width="1.25" stroke-linecap="butt" stroke-linejoin="miter"/>
<path d="M703.9,273.9 Q701.8,276.9 700.4,278.5 Q701.8,280.1 703.9,283.1" fill="none" stroke="#000" stroke-width="1.0" stroke-linecap="butt" stroke-linejoin="miter"/>
<path d="M730.6,274.0 Q729.4,276.7 728.5,278.5 Q729.4,280.3 730.6,283.0" fill="none" stroke="#000" stroke-width="1.25" stroke-linecap="butt" stroke-linejoin="miter"/>
<path d="M703.9,287.9 Q701.8,290.9 700.4,292.5 Q701.8,294.1 703.9,297.1" fill="none" stroke="#000" stroke-width="1.0" stroke-linecap="butt" stroke-linejoin="miter"/>
<path d="M730.6,288.0 Q729.4,290.7 728.5,292.5 Q729.4,294.3 730.6,297.0" fill="none" stroke="#000" stroke-width="1.25" stroke-linecap="butt" stroke-linejoin="miter"/>
<path d="M703.9,301.9 Q701.8,304.9 700.4,306.5 Q701.8,308.1 703.9,311.1" fill="none" stroke="#000" stroke-width="1.0" stroke-linecap="butt" stroke-linejoin="miter"/>
<path d="M730.6,302.0 Q729.4,304.7 728.5,306.5 Q729.4,308.3 730.6,311.0" fill="none" stroke="#000" stroke-width="1.25" stroke-linecap="butt" stroke-linejoin="miter"/>
<path d="M703.9,315.9 Q701.8,318.9 700.4,320.5 Q701.8,322.1 703.9,325.1" fill="none" stroke="#000" stroke-width="1.0" stroke-linecap="butt" stroke-linejoin="miter"/>
<path d="M730.6,316.0 Q729.4,318.7 728.5,320.5 Q729.4,322.3 730.6,325.0" fill="none" stroke="#000" stroke-width="1.25" stroke-linecap="butt" stroke-linejoin="miter"/>
<path d="M703.9,329.9 Q701.8,332.9 700.4,334.5 Q701.8,336.1 703.9,339.1" fill="none" stroke="#000" stroke-width="1.0" stroke-linecap="butt" stroke-linejoin="miter"/>
<path d="M730.6,330.0 Q729.4,332.7 728.5,334.5 Q729.4,336.3 730.6,339.0" fill="none" stroke="#000" stroke-width="1.25" stroke-linecap="butt" stroke-linejoin="miter"/>
<path d="M703.9,344.9 Q701.8,347.9 700.4,349.5 Q701.8,351.1 703.9,354.1" fill="none" stroke="#000" stroke-width="1.0" stroke-linecap="butt" stroke-linejoin="miter"/>
<path d="M730.6,345.0 Q729.4,347.7 728.5,349.5 Q729.4,351.3 730.6,354.0" fill="none" stroke="#000" stroke-width="1.25" stroke-linecap="butt" stroke-linejoin="miter"/>
<path d="M703.9,358.9 Q701.8,361.9 700.4,363.5 Q701.8,365.1 703.9,368.1" fill="none" stroke="#000" stroke-width="1.0" stroke-linecap="butt" stroke-linejoin="miter"/>
<path d="M730.6,359.0 Q729.4,361.7 728.5,363.5 Q729.4,365.3 730.6,368.0" fill="none" stroke="#000" stroke-width="1.25" stroke-linecap="butt" stroke-linejoin="miter"/>
<path d="M703.9,372.9 Q701.8,375.9 700.4,377.5 Q701.8,379.1 703.9,382.1" fill="none" stroke="#000" stroke-width="1.0" stroke-linecap="butt" stroke-linejoin="miter"/>
<path d="M730.6,373.0 Q729.4,375.7 728.5,377.5 Q729.4,379.3 730.6,382.0" fill="none" stroke="#000" stroke-width="1.25" stroke-linecap="butt" stroke-linejoin="miter"/>
<path d="M703.9,386.9 Q701.8,389.9 700.4,391.5 Q701.8,393.1 703.9,396.1" fill="none" stroke="#000" stroke-width="1.0" stroke-linecap="butt" stroke-linejoin="miter"/>
<path d="M730.6,387.0 Q729.4,389.7 728.5,391.5 Q729.4,393.3 730.6,396.0" fill="none" stroke="#000" stroke-width="1.25" stroke-linecap="butt" stroke-linejoin="miter"/>
<path d="M703.9,400.9 Q701.8,403.9 700.4,405.5 Q701.8,407.1 703.9,410.1" fill="none" stroke="#000" stroke-width="1.0" stroke-linecap="butt" stroke-linejoin="miter"/>
<path d="M730.6,401.0 Q729.4,403.7 728.5,405.5 Q729.4,407.3 730.6,410.0" fill="none" stroke="#000" stroke-width="1.25" stroke-linecap="butt" stroke-linejoin="miter"/>
<path d="M703.9,415.9 Q701.8,418.9 700.4,420.5 Q701.8,422.1 703.9,425.1" fill="none" stroke="#000" stroke-width="1.0" stroke-linecap="butt" stroke-linejoin="miter"/>
<path d="M730.6,416.0 Q729.4,418.7 728.5,420.5 Q729.4,422.3 730.6,425.0" fill="none" stroke="#000" stroke-width="1.25" stroke-linecap="butt" stroke-linejoin="miter"/>
<path d="M703.9,429.9 Q701.8,432.9 700.4,434.5 Q701.8,436.1 703.9,439.1" fill="none" stroke="#000" stroke-width="1.0" stroke-linecap="butt" stroke-linejoin="miter"/>
<path d="M730.6,430.0 Q729.4,432.7 728.5,434.5 Q729.4,436.3 730.6,439.0" fill="none" stroke="#000" stroke-width="1.25" stroke-linecap="butt" stroke-linejoin="miter"/>
<path d="M703.9,443.9 Q701.8,446.9 700.4,448.5 Q701.8,450.1 703.9,453.1" fill="none" stroke="#000" stroke-width="1.0" stroke-linecap="butt" stroke-linejoin="miter"/>
<path d="M730.6,444.0 Q729.4,446.7 728.5,448.5 Q729.4,450.3 730.6,453.0" fill="none" stroke="#000" stroke-width="1.25" stroke-linecap="butt" stroke-linejoin="miter"/>
<path d="M703.9,457.9 Q701.8,460.9 700.4,462.5 Q701.8,464.1 703.9,467.1" fill="none" stroke="#000" stroke-width="1.0" stroke-linecap="butt" stroke-linejoin="miter"/>
<path d="M730.6,458.0 Q729.4,460.7 728.5,462.5 Q729.4,464.3 730.6,467.0" fill="none" stroke="#000" stroke-width="1.25" stroke-linecap="butt" stroke-linejoin="miter"/>
<path d="M703.9,471.9 Q701.8,474.9 700.4,476.5 Q701.8,478.1 703.9,481.1" fill="none" stroke="#000" stroke-width="1.0" stroke-linecap="butt" stroke-linejoin="miter"/>
<path d="M730.6,472.0 Q729.4,474.7 728.5,476.5 Q729.4,478.3 730.6,481.0" fill="none" stroke="#000" stroke-width="1.25" stroke-linecap="butt" stroke-linejoin="miter"/>
<path d="M703.9,486.9 Q701.8,489.9 700.4,491.5 Q701.8,493.1 703.9,496.1" fill="none" stroke="#000" stroke-width="1.0" stroke-linecap="butt" stroke-linejoin="miter"/>
<path d="M730.6,487.0 Q729.4,489.7 728.5,491.5 Q729.4,493.3 730.6,496.0" fill="none" stroke="#000" stroke-width="1.25" stroke-linecap="butt" stroke-linejoin="miter"/>
<path d="M703.9,500.9 Q701.8,503.9 700.4,505.5 Q701.8,507.1 703.9,510.1" fill="none" stroke="#000" stroke-width="1.0" stroke-linecap="butt" stroke-linejoin="miter"/>
<path d="M730.6,501.0 Q729.4,503.7 728.5,505.5 Q729.4,507.3 730.6,510.0" fill="none" stroke="#000" stroke-width="1.25" stroke-linecap="butt" stroke-linejoin="miter"/>
<path d="M703.9,514.9 Q701.8,517.9 700.4,519.5 Q701.8,521.1 703.9,524.1" fill="none" stroke="#000" stroke-width="1.0" stroke-linecap="butt" stroke-linejoin="miter"/>
<path d="M730.6,515.0 Q729.4,517.7 728.5,519.5 Q729.4,521.3 730.6,524.0" fill="none" stroke="#000" stroke-width="1.25" stroke-linecap="butt" stroke-linejoin="miter"/>
<path d="M703.9,528.9 Q701.8,531.9 700.4,533.5 Q701.8,535.1 703.9,538.1" fill="none" stroke="#000" stroke-width="1.0" stroke-linecap="butt" stroke-linejoin="miter"/>
<path d="M730.6,529.0 Q729.4,531.7 728.5,533.5 Q729.4,535.3 730.6,538.0" fill="none" stroke="#000" stroke-width="1.25" stroke-linecap="butt" stroke-linejoin="miter"/>
<path d="M703.9,543.9 Q701.8,546.9 700.4,548.5 Q701.8,550.1 703.9,553.1" fill="none" stroke="#000" stroke-width="1.0" stroke-linecap="butt" stroke-linejoin="miter"/>
<path d="M730.6,544.0 Q729.4,546.7 728.5,548.5 Q729.4,550.3 730.6,553.0" fill="none" stroke="#000" stroke-width="1.25" stroke-linecap="butt" stroke-linejoin="miter"/>
<path d="M703.9,557.9 Q701.8,560.9 700.4,562.5 Q701.8,564.1 703.9,567.1" fill="none" stroke="#000" stroke-width="1.0" stroke-linecap="butt" stroke-linejoin="miter"/>
<path d="M730.6,558.0 Q729.4,560.7 728.5,562.5 Q729.4,564.3 730.6,567.0" fill="none" stroke="#000" stroke-width="1.25" stroke-linecap="butt" stroke-linejoin="miter"/>
<path d="M703.9,571.9 Q701.8,574.9 700.4,576.5 Q701.8,578.1 703.9,581.1" fill="none" stroke="#000" stroke-width="1.0" stroke-linecap="butt" stroke-linejoin="miter"/>
<path d="M730.6,572.0 Q729.4,574.7 728.5,576.5 Q729.4,578.3 730.6,581.0" fill="none" stroke="#000" stroke-width="1.25" stroke-linecap="butt" stroke-linejoin="miter"/>
<path d="M703.9,585.9 Q701.8,588.9 700.4,590.5 Q701.8,592.1 703.9,595.1" fill="none" stroke="#000" stroke-width="1.0" stroke-linecap="butt" stroke-linejoin="miter"/>
<path d="M730.6,586.0 Q729.4,588.7 728.5,590.5 Q729.4,592.3 730.6,595.0" fill="none" stroke="#000" stroke-width="1.25" stroke-linecap="butt" stroke-linejoin="miter"/>
<path d="M703.9,599.9 Q701.8,602.9 700.4,604.5 Q701.8,606.1 703.9,609.1" fill="none" stroke="#000" stroke-width="1.0" stroke-linecap="butt" stroke-linejoin="miter"/>
<path d="M730.6,600.0 Q729.4,602.7 728.5,604.5 Q729.4,606.3 730.6,609.0" fill="none" stroke="#000" stroke-width="1.25" stroke-linecap="butt" stroke-linejoin="miter"/>
<path d="M703.9,614.9 Q701.8,617.9 700.4,619.5 Q701.8,621.1 703.9,624.1" fill="none" stroke="#000" stroke-width="1.0" stroke-linecap="butt" stroke-linejoin="miter"/>
<path d="M730.6,615.0 Q729.4,617.7 728.5,619.5 Q729.4,621.3 730.6,624.0" fill="none" stroke="#000" stroke-width="1.25" stroke-linecap="butt" stroke-linejoin="miter"/>
<path d="M703.9,628.9 Q701.8,631.9 700.4,633.5 Q701.8,635.1 703.9,638.1" fill="none" stroke="#000" stroke-width="1.0" stroke-linecap="butt" stroke-linejoin="miter"/>
<path d="M730.6,629.0 Q729.4,631.7 728.5,633.5 Q729.4,635.3 730.6,638.0" fill="none" stroke="#000" stroke-width="1.25" stroke-linecap="butt" stroke-linejoin="miter"/>
<path d="M703.9,642.9 Q701.8,645.9 700.4,647.5 Q701.8,649.1 703.9,652.1" fill="none" stroke="#000" stroke-width="1.0" stroke-linecap="butt" stroke-linejoin="miter"/>
<path d="M730.6,643.0 Q729.4,645.7 728.5,647.5 Q729.4,649.3 730.6,652.0" fill="none" stroke="#000" stroke-width="1.25" stroke-linecap="butt" stroke-linejoin="miter"/>
<path d="M703.9,656.9 Q701.8,659.9 700.4,661.5 Q701.8,663.1 703.9,666.1" fill="none" stroke="#000" stroke-width="1.0" stroke-linecap="butt" stroke-linejoin="miter"/>
<path d="M730.6,657.0 Q729.4,659.7 728.5,661.5 Q729.4,663.3 730.6,666.0" fill="none" stroke="#000" stroke-width="1.25" stroke-linecap="butt" stroke-linejoin="miter"/>
<path d="M703.9,670.9 Q701.8,673.9 700.4,675.5 Q701.8,677.1 703.9,680.1" fill="none" stroke="#000" stroke-width="1.0" stroke-linecap="butt" stroke-linejoin="miter"/>
<path d="M730.6,671.0 Q729.4,673.7 728.5,675.5 Q729.4,677.3 730.6,680.0" fill="none" stroke="#000" stroke-width="1.25" stroke-linecap="butt" stroke-linejoin="miter"/>
<path d="M703.9,685.9 Q701.8,688.9 700.4,690.5 Q701.8,692.1 703.9,695.1" fill="none" stroke="#000" stroke-width="1.0" stroke-linecap="butt" stroke-linejoin="miter"/>
<path d="M730.6,686.0 Q729.4,688.7 728.5,690.5 Q729.4,692.3 730.6,695.0" fill="none" stroke="#000" stroke-width="1.25" stroke-linecap="butt" stroke-linejoin="miter"/>
<path d="M703.9,699.9 Q701.8,702.9 700.4,704.5 Q701.8,706.1 703.9,709.1" fill="none" stroke="#000" stroke-width="1.0" stroke-linecap="butt" stroke-linejoin="miter"/>
<path d="M730.6,700.0 Q729.4,702.7 728.5,704.5 Q729.4,706.3 730.6,709.0" fill="none" stroke="#000" stroke-width="1.25" stroke-linecap="butt" stroke-linejoin="miter"/>
<path d="M703.9,713.9 Q701.8,716.9 700.4,718.5 Q701.8,720.1 703.9,723.1" fill="none" stroke="#000" stroke-width="1.0" stroke-linecap="butt" stroke-linejoin="miter"/>
<path d="M730.6,714.0 Q729.4,716.7 728.5,718.5 Q729.4,720.3 730.6,723.0" fill="none" stroke="#000" stroke-width="1.25" stroke-linecap="butt" stroke-linejoin="miter"/>
<path d="M703.9,727.9 Q701.8,730.9 700.4,732.5 Q701.8,734.1 703.9,737.1" fill="none" stroke="#000" stroke-width="1.0" stroke-linecap="butt" stroke-linejoin="miter"/>
<path d="M730.6,728.0 Q729.4,730.7 728.5,732.5 Q729.4,734.3 730.6,737.0" fill="none" stroke="#000" stroke-width="1.25" stroke-linecap="butt" stroke-linejoin="miter"/>
<path d="M703.9,741.9 Q701.8,744.9 700.4,746.5 Q701.8,748.1 703.9,751.1" fill="none" stroke="#000" stroke-width="1.0" stroke-linecap="butt" stroke-linejoin="miter"/>
<path d="M730.6,742.0 Q729.4,744.7 728.5,746.5 Q729.4,748.3 730.6,751.0" fill="none" stroke="#000" stroke-width="1.25" stroke-linecap="butt" stroke-linejoin="miter"/>
<path d="M703.9,756.9 Q701.8,759.9 700.4,761.5 Q701.8,763.1 703.9,766.1" fill="none" stroke="#000" stroke-width="1.0" stroke-linecap="butt" stroke-linejoin="miter"/>
<path d="M730.6,757.0 Q729.4,759.7 728.5,761.5 Q729.4,763.3 730.6,766.0" fill="none" stroke="#000" stroke-width="1.25" stroke-linecap="butt" stroke-linejoin="miter"/>
<path d="M703.9,770.9 Q701.8,773.9 700.4,775.5 Q701.8,777.1 703.9,780.1" fill="none" stroke="#000" stroke-width="1.0" stroke-linecap="butt" stroke-linejoin="miter"/>
<path d="M730.6,771.0 Q729.4,773.7 728.5,775.5 Q729.4,777.3 730.6,780.0" fill="none" stroke="#000" stroke-width="1.25" stroke-linecap="butt" stroke-linejoin="miter"/>
<path d="M703.9,784.9 Q701.8,787.9 700.4,789.5 Q701.8,791.1 703.9,794.1" fill="none" stroke="#000" stroke-width="1.0" stroke-linecap="butt" stroke-linejoin="miter"/>
<path d="M730.6,785.0 Q729.4,787.7 728.5,789.5 Q729.4,791.3 730.6,794.0" fill="none" stroke="#000" stroke-width="1.25" stroke-linecap="butt" stroke-linejoin="miter"/>
<path d="M703.9,798.9 Q701.8,801.9 700.4,803.5 Q701.8,805.1 703.9,808.1" fill="none" stroke="#000" stroke-width="1.0" stroke-linecap="butt" stroke-linejoin="miter"/>
<path d="M730.6,799.0 Q729.4,801.7 728.5,803.5 Q729.4,805.3 730.6,808.0" fill="none" stroke="#000" stroke-width="1.25" stroke-linecap="butt" stroke-linejoin="miter"/>
<path d="M703.9,812.9 Q701.8,815.9 700.4,817.5 Q701.8,819.1 703.9,822.1" fill="none" stroke="#000" stroke-width="1.0" stroke-linecap="butt" stroke-linejoin="miter"/>
<path d="M730.6,813.0 Q729.4,815.7 728.5,817.5 Q729.4,819.3 730.6,822.0" fill="none" stroke="#000" stroke-width="1.25" stroke-linecap="butt" stroke-linejoin="miter"/>
<path d="M703.9,827.9 Q701.8,830.9 700.4,832.5 Q701.8,834.1 703.9,837.1" fill="none" stroke="#000" stroke-width="1.0" stroke-linecap="butt" stroke-linejoin="miter"/>
<path d="M730.6,828.0 Q729.4,830.7 728.5,832.5 Q729.4,834.3 730.6,837.0" fill="none" stroke="#000" stroke-width="1.25" stroke-linecap="butt" stroke-linejoin="miter"/>
<path d="M703.9,841.9 Q701.8,844.9 700.4,846.5 Q701.8,848.1 703.9,851.1" fill="none" stroke="#000" stroke-width="1.0" stroke-linecap="butt" stroke-linejoin="miter"/>
<path d="M730.6,842.0 Q729.4,844.7 728.5,846.5 Q729.4,848.3 730.6,851.0" fill="none" stroke="#000" stroke-width="1.25" stroke-linecap="butt" stroke-linejoin="miter"/>
<path d="M703.9,855.9 Q701.8,858.9 700.4,860.5 Q701.8,862.1 703.9,865.1" fill="none" stroke="#000" stroke-width="1.0" stroke-linecap="butt" stroke-linejoin="miter"/>
<path d="M730.6,856.0 Q729.4,858.7 728.5,860.5 Q729.4,862.3 730.6,865.0" fill="none" stroke="#000" stroke-width="1.25" stroke-linecap="butt" stroke-linejoin="miter"/>
<path d="M703.9,869.9 Q701.8,872.9 700.4,874.5 Q701.8,876.1 703.9,879.1" fill="none" stroke="#000" stroke-width="1.0" stroke-linecap="butt" stroke-linejoin="miter"/>
<path d="M730.6,870.0 Q729.4,872.7 728.5,874.5 Q729.4,876.3 730.6,879.0" fill="none" stroke="#000" stroke-width="1.25" stroke-linecap="butt" stroke-linejoin="miter"/>
<path d="M703.9,883.9 Q701.8,886.9 700.4,888.5 Q701.8,890.1 703.9,893.1" fill="none" stroke="#000" stroke-width="1.0" stroke-linecap="butt" stroke-linejoin="miter"/>
<path d="M730.6,884.0 Q729.4,886.7 728.5,888.5 Q729.4,890.3 730.6,893.0" fill="none" stroke="#000" stroke-width="1.25" stroke-linecap="butt" stroke-linejoin="miter"/>
<path d="M703.9,898.9 Q701.8,901.9 700.4,903.5 Q701.8,905.1 703.9,908.1" fill="none" stroke="#000" stroke-width="1.0" stroke-linecap="butt" stroke-linejoin="miter"/>
<path d="M730.6,899.0 Q729.4,901.7 728.5,903.5 Q729.4,905.3 730.6,908.0" fill="none" stroke="#000" stroke-width="1.25" stroke-linecap="butt" stroke-linejoin="miter"/>
<path d="M703.9,912.9 Q701.8,915.9 700.4,917.5 Q701.8,919.1 703.9,922.1" fill="none" stroke="#000" stroke-width="1.0" stroke-linecap="butt" stroke-linejoin="miter"/>
<path d="M730.6,913.0 Q729.4,915.7 728.5,917.5 Q729.4,919.3 730.6,922.0" fill="none" stroke="#000" stroke-width="1.25" stroke-linecap="butt" stroke-linejoin="miter"/>
<path d="M703.9,926.9 Q701.8,929.9 700.4,931.5 Q701.8,933.1 703.9,936.1" fill="none" stroke="#000" stroke-width="1.0" stroke-linecap="butt" stroke-linejoin="miter"/>
<path d="M730.6,927.0 Q729.4,929.7 728.5,931.5 Q729.4,933.3 730.6,936.0" fill="none" stroke="#000" stroke-width="1.25" stroke-linecap="butt" stroke-linejoin="miter"/>
<path d="M703.9,940.9 Q701.8,943.9 700.4,945.5 Q701.8,947.1 703.9,950.1" fill="none" stroke="#000" stroke-width="1.0" stroke-linecap="butt" stroke-linejoin="miter"/>
<path d="M730.6,941.0 Q729.4,943.7 728.5,945.5 Q729.4,947.3 730.6,950.0" fill="none" stroke="#000" stroke-width="1.25" stroke-linecap="butt" stroke-linejoin="miter"/>
<path d="M703.9,954.9 Q701.8,957.9 700.4,959.5 Q701.8,961.1 703.9,964.1" fill="none" stroke="#000" stroke-width="1.0" stroke-linecap="butt" stroke-linejoin="miter"/>
<path d="M730.6,955.0 Q729.4,957.7 728.5,959.5 Q729.4,961.3 730.6,964.0" fill="none" stroke="#000" stroke-width="1.25" stroke-linecap="butt" stroke-linejoin="miter"/>
<path d="M703.9,969.9 Q701.8,972.9 700.4,974.5 Q701.8,976.1 703.9,979.1" fill="none" stroke="#000" stroke-width="1.0" stroke-linecap="butt" stroke-linejoin="miter"/>
<path d="M730.6,970.0 Q729.4,972.7 728.5,974.5 Q729.4,976.3 730.6,979.0" fill="none" stroke="#000" stroke-width="1.25" stroke-linecap="butt" stroke-linejoin="miter"/>
<path d="M703.9,983.9 Q701.8,986.9 700.4,988.5 Q701.8,990.1 703.9,993.1" fill="none" stroke="#000" stroke-width="1.0" stroke-linecap="butt" stroke-linejoin="miter"/>
<path d="M730.6,984.0 Q729.4,986.7 728.5,988.5 Q729.4,990.3 730.6,993.0" fill="none" stroke="#000" stroke-width="1.25" stroke-linecap="butt" stroke-linejoin="miter"/>
<path d="M703.9,997.9 Q701.8,1000.9 700.4,1002.5 Q701.8,1004.1 703.9,1007.1" fill="none" stroke="#000" stroke-width="1.0" stroke-linecap="butt" stroke-linejoin="miter"/>
<path d="M730.6,998.0 Q729.4,1000.7 728.5,1002.5 Q729.4,1004.3 730.6,1007.0" fill="none" stroke="#000" stroke-width="1.25" stroke-linecap="butt" stroke-linejoin="miter"/>
<path d="M703.9,1011.9 Q701.8,1014.9 700.4,1016.5 Q701.8,1018.1 703.9,1021.1" fill="none" stroke="#000" stroke-width="1.0" stroke-linecap="butt" stroke-linejoin="miter"/>
<path d="M730.6,1012.0 Q729.4,1014.7 728.5,1016.5 Q729.4,1018.3 730.6,1021.0" fill="none" stroke="#000" stroke-width="1.25" stroke-linecap="butt" stroke-linejoin="miter"/>
<path d="M703.9,1025.9 Q701.8,1028.9 700.4,1030.5 Q701.8,1032.1 703.9,1035.1" fill="none" stroke="#000" stroke-width="1.0" stroke-linecap="butt" stroke-linejoin="miter"/>
<path d="M730.6,1026.0 Q729.4,1028.7 728.5,1030.5 Q729.4,1032.3 730.6,1035.0" fill="none" stroke="#000" stroke-width="1.25" stroke-linecap="butt" stroke-linejoin="miter"/>
<path d="M703.9,1040.9 Q701.8,1043.9 700.4,1045.5 Q701.8,1047.1 703.9,1050.1" fill="none" stroke="#000" stroke-width="1.0" stroke-linecap="butt" stroke-linejoin="miter"/>
<path d="M730.6,1041.0 Q729.4,1043.7 728.5,1045.5 Q729.4,1047.3 730.6,1050.0" fill="none" stroke="#000" stroke-width="1.25" stroke-linecap="butt" stroke-linejoin="miter"/>
<path d="M703.9,1054.9 Q701.8,1057.9 700.4,1059.5 Q701.8,1061.1 703.9,1064.1" fill="none" stroke="#000" stroke-width="1.0" stroke-linecap="butt" stroke-linejoin="miter"/>
<path d="M730.6,1055.0 Q729.4,1057.7 728.5,1059.5 Q729.4,1061.3 730.6,1064.0" fill="none" stroke="#000" stroke-width="1.25" stroke-linecap="butt" stroke-linejoin="miter"/>
<path d="M703.9,1068.9 Q701.8,1071.9 700.4,1073.5 Q701.8,1075.1 703.9,1078.1" fill="none" stroke="#000" stroke-width="1.0" stroke-linecap="butt" stroke-linejoin="miter"/>
<path d="M730.6,1069.0 Q729.4,1071.7 728.5,1073.5 Q729.4,1075.3 730.6,1078.0" fill="none" stroke="#000" stroke-width="1.25" stroke-linecap="butt" stroke-linejoin="miter"/>
<path d="M703.9,1082.9 Q701.8,1085.9 700.4,1087.5 Q701.8,1089.1 703.9,1092.1" fill="none" stroke="#000" stroke-width="1.0" stroke-linecap="butt" stroke-linejoin="miter"/>
<path d="M730.6,1083.0 Q729.4,1085.7 728.5,1087.5 Q729.4,1089.3 730.6,1092.0" fill="none" stroke="#000" stroke-width="1.25" stroke-linecap="butt" stroke-linejoin="miter"/>
<path d="M703.9,1097.9 Q701.8,1100.9 700.4,1102.5 Q701.8,1104.1 703.9,1107.1" fill="none" stroke="#000" stroke-width="1.0" stroke-linecap="butt" stroke-linejoin="miter"/>
<path d="M730.6,1098.0 Q729.4,1100.7 728.5,1102.5 Q729.4,1104.3 730.6,1107.0" fill="none" stroke="#000" stroke-width="1.25" stroke-linecap="butt" stroke-linejoin="miter"/>
<path d="M703.9,1111.9 Q701.8,1114.9 700.4,1116.5 Q701.8,1118.1 703.9,1121.1" fill="none" stroke="#000" stroke-width="1.0" stroke-linecap="butt" stroke-linejoin="miter"/>
<path d="M730.6,1112.0 Q729.4,1114.7 728.5,1116.5 Q729.4,1118.3 730.6,1121.0" fill="none" stroke="#000" stroke-width="1.25" stroke-linecap="butt" stroke-linejoin="miter"/>
<path d="M703.9,1125.9 Q701.8,1128.9 700.4,1130.5 Q701.8,1132.1 703.9,1135.1" fill="none" stroke="#000" stroke-width="1.0" stroke-linecap="butt" stroke-linejoin="miter"/>
<path d="M730.6,1126.0 Q729.4,1128.7 728.5,1130.5 Q729.4,1132.3 730.6,1135.0" fill="none" stroke="#000" stroke-width="1.25" stroke-linecap="butt" stroke-linejoin="miter"/>
<path d="M703.9,1139.9 Q701.8,1142.9 700.4,1144.5 Q701.8,1146.1 703.9,1149.1" fill="none" stroke="#000" stroke-width="1.0" stroke-linecap="butt" stroke-linejoin="miter"/>
<path d="M730.6,1140.0 Q729.4,1142.7 728.5,1144.5 Q729.4,1146.3 730.6,1149.0" fill="none" stroke="#000" stroke-width="1.25" stroke-linecap="butt" stroke-linejoin="miter"/>
<path d="M703.9,1153.9 Q701.8,1156.9 700.4,1158.5 Q701.8,1160.1 703.9,1163.1" fill="none" stroke="#000" stroke-width="1.0" stroke-linecap="butt" stroke-linejoin="miter"/>
<path d="M730.6,1154.0 Q729.4,1156.7 728.5,1158.5 Q729.4,1160.3 730.6,1163.0" fill="none" stroke="#000" stroke-width="1.25" stroke-linecap="butt" stroke-linejoin="miter"/>
<path d="M240.6,221 L255.10000000000002,236.5 L269.6,221 M240.6,236 L255.10000000000002,220.5 L269.6,236" fill="none" stroke="#000" stroke-width="2" stroke-linecap="butt" stroke-linejoin="miter"/>
<path d="M338.0,221 L352.7,236.5 L367.4,221 M338.0,236 L352.7,220.5 L367.4,236" fill="none" stroke="#000" stroke-width="2" stroke-linecap="butt" stroke-linejoin="miter"/>
<circle cx="296.3" cy="221" r="5.4" fill="#000"/>
<circle cx="311.0" cy="236" r="5.4" fill="#000"/>
<circle cx="324.8" cy="903" r="5.4" fill="#000"/>
<circle cx="338.9" cy="1031" r="5.4" fill="#000"/>
<circle cx="196.7" cy="960" r="5.4" fill="#000"/>
<path d="M300.2,122 L314.0,136.5 L327.8,122 M300.2,136 L314.0,121.5 L327.8,136" fill="none" stroke="#000" stroke-width="2" stroke-linecap="butt" stroke-linejoin="miter"/>
<path d="M440,249.6 L454.2,263.8 L440,278.0 M453,249.6 L438.8,263.8 L453,278.0" fill="none" stroke="#000" stroke-width="2" stroke-linecap="butt" stroke-linejoin="miter"/>
<path d="M440,618.8 L454.2,633.0999999999999 L440,647.4 M453,618.8 L438.8,633.0999999999999 L453,647.4" fill="none" stroke="#000" stroke-width="2" stroke-linecap="butt" stroke-linejoin="miter"/>
<path d="M823.8,1217.9 Q822.1,1220.9 821.0,1222.5 Q822.1,1224.1 823.8,1227.1" fill="none" stroke="#000" stroke-width="1.25" stroke-linecap="butt" stroke-linejoin="miter"/>
<path d="M850.6,1218.0 Q849.4,1220.7 848.5,1222.5 Q849.4,1224.3 850.6,1227.0" fill="none" stroke="#000" stroke-width="1.25" stroke-linecap="butt" stroke-linejoin="miter"/>
<path d="M823.8,1231.9 Q822.1,1234.9 821.0,1236.5 Q822.1,1238.1 823.8,1241.1" fill="none" stroke="#000" stroke-width="1.25" stroke-linecap="butt" stroke-linejoin="miter"/>
<path d="M850.6,1232.0 Q849.4,1234.7 848.5,1236.5 Q849.4,1238.3 850.6,1241.0" fill="none" stroke="#000" stroke-width="1.25" stroke-linecap="butt" stroke-linejoin="miter"/>
<path d="M823.8,1245.9 Q822.1,1248.9 821.0,1250.5 Q822.1,1252.1 823.8,1255.1" fill="none" stroke="#000" stroke-width="1.25" stroke-linecap="butt" stroke-linejoin="miter"/>
<path d="M850.6,1246.0 Q849.4,1248.7 848.5,1250.5 Q849.4,1252.3 850.6,1255.0" fill="none" stroke="#000" stroke-width="1.25" stroke-linecap="butt" stroke-linejoin="miter"/>
<path d="M823.8,1259.9 Q822.1,1262.9 821.0,1264.5 Q822.1,1266.1 823.8,1269.1" fill="none" stroke="#000" stroke-width="1.25" stroke-linecap="butt" stroke-linejoin="miter"/>
<path d="M850.6,1260.0 Q849.4,1262.7 848.5,1264.5 Q849.4,1266.3 850.6,1269.0" fill="none" stroke="#000" stroke-width="1.25" stroke-linecap="butt" stroke-linejoin="miter"/>
<path d="M823.8,1273.9 Q822.1,1276.9 821.0,1278.5 Q822.1,1280.1 823.8,1283.1" fill="none" stroke="#000" stroke-width="1.25" stroke-linecap="butt" stroke-linejoin="miter"/>
<path d="M850.6,1274.0 Q849.4,1276.7 848.5,1278.5 Q849.4,1280.3 850.6,1283.0" fill="none" stroke="#000" stroke-width="1.25" stroke-linecap="butt" stroke-linejoin="miter"/>
<path d="M823.8,1288.9 Q822.1,1291.9 821.0,1293.5 Q822.1,1295.1 823.8,1298.1" fill="none" stroke="#000" stroke-width="1.25" stroke-linecap="butt" stroke-linejoin="miter"/>
<path d="M850.6,1289.0 Q849.4,1291.7 848.5,1293.5 Q849.4,1295.3 850.6,1298.0" fill="none" stroke="#000" stroke-width="1.25" stroke-linecap="butt" stroke-linejoin="miter"/>
<path d="M823.8,1302.9 Q822.1,1305.9 821.0,1307.5 Q822.1,1309.1 823.8,1312.1" fill="none" stroke="#000" stroke-width="1.25" stroke-linecap="butt" stroke-linejoin="miter"/>
<path d="M850.6,1303.0 Q849.4,1305.7 848.5,1307.5 Q849.4,1309.3 850.6,1312.0" fill="none" stroke="#000" stroke-width="1.25" stroke-linecap="butt" stroke-linejoin="miter"/>
<path d="M823.8,1316.9 Q822.1,1319.9 821.0,1321.5 Q822.1,1323.1 823.8,1326.1" fill="none" stroke="#000" stroke-width="1.25" stroke-linecap="butt" stroke-linejoin="miter"/>
<path d="M850.6,1317.0 Q849.4,1319.7 848.5,1321.5 Q849.4,1323.3 850.6,1326.0" fill="none" stroke="#000" stroke-width="1.25" stroke-linecap="butt" stroke-linejoin="miter"/>
<path d="M823.8,1330.9 Q822.1,1333.9 821.0,1335.5 Q822.1,1337.1 823.8,1340.1" fill="none" stroke="#000" stroke-width="1.25" stroke-linecap="butt" stroke-linejoin="miter"/>
<path d="M850.6,1331.0 Q849.4,1333.7 848.5,1335.5 Q849.4,1337.3 850.6,1340.0" fill="none" stroke="#000" stroke-width="1.25" stroke-linecap="butt" stroke-linejoin="miter"/>
<path d="M704.2,1222 L717.8,1236.5 L731.4,1222 M704.2,1236 L717.8,1221.5 L731.4,1236" fill="none" stroke="#000" stroke-width="2" stroke-linecap="butt" stroke-linejoin="miter"/>
<path d="M493.7,1273.3 Q496.1,1276.0 497.5,1278.0 Q496.1,1280.0 493.7,1282.7" fill="none" stroke="#000" stroke-width="1.3" stroke-linecap="butt" stroke-linejoin="miter"/>
<path d="M521.2,1273.3 Q523.4,1276.0 524.8,1278.0 Q523.4,1280.0 521.2,1282.7" fill="none" stroke="#000" stroke-width="1.3" stroke-linecap="butt" stroke-linejoin="miter"/>
<path d="M493.7,1288.3 Q496.1,1291.0 497.5,1293.0 Q496.1,1295.0 493.7,1297.7" fill="none" stroke="#000" stroke-width="1.3" stroke-linecap="butt" stroke-linejoin="miter"/>
<path d="M521.2,1288.3 Q523.4,1291.0 524.8,1293.0 Q523.4,1295.0 521.2,1297.7" fill="none" stroke="#000" stroke-width="1.3" stroke-linecap="butt" stroke-linejoin="miter"/>
<path d="M493.7,1302.3 Q496.1,1305.0 497.5,1307.0 Q496.1,1309.0 493.7,1311.7" fill="none" stroke="#000" stroke-width="1.3" stroke-linecap="butt" stroke-linejoin="miter"/>
<path d="M521.2,1302.3 Q523.4,1305.0 524.8,1307.0 Q523.4,1309.0 521.2,1311.7" fill="none" stroke="#000" stroke-width="1.3" stroke-linecap="butt" stroke-linejoin="miter"/>
<path d="M493.7,1316.3 Q496.1,1319.0 497.5,1321.0 Q496.1,1323.0 493.7,1325.7" fill="none" stroke="#000" stroke-width="1.3" stroke-linecap="butt" stroke-linejoin="miter"/>
<path d="M521.2,1316.3 Q523.4,1319.0 524.8,1321.0 Q523.4,1323.0 521.2,1325.7" fill="none" stroke="#000" stroke-width="1.3" stroke-linecap="butt" stroke-linejoin="miter"/>
<path d="M90.8,1198.4 Q88.4,1201.2 90.8,1204.0" fill="none" stroke="#000" stroke-width="1.1" stroke-linecap="butt" stroke-linejoin="miter"/>
<path d="M90.8,1213.4 Q88.4,1216.2 90.8,1219.0" fill="none" stroke="#000" stroke-width="1.1" stroke-linecap="butt" stroke-linejoin="miter"/>
<path d="M90.8,1227.4 Q88.4,1230.2 90.8,1233.0" fill="none" stroke="#000" stroke-width="1.1" stroke-linecap="butt" stroke-linejoin="miter"/>
<path d="M90.8,1242.4 Q88.4,1245.2 90.8,1248.0" fill="none" stroke="#000" stroke-width="1.1" stroke-linecap="butt" stroke-linejoin="miter"/>
<path d="M90.8,1256.4 Q88.4,1259.2 90.8,1262.0" fill="none" stroke="#000" stroke-width="1.1" stroke-linecap="butt" stroke-linejoin="miter"/>
<path d="M90.8,1270.4 Q88.4,1273.2 90.8,1276.0" fill="none" stroke="#000" stroke-width="1.1" stroke-linecap="butt" stroke-linejoin="miter"/>
<path d="M90.8,1284.4 Q88.4,1287.2 90.8,1290.0" fill="none" stroke="#000" stroke-width="1.1" stroke-linecap="butt" stroke-linejoin="miter"/>
<path d="M90.8,1298.4 Q88.4,1301.2 90.8,1304.0" fill="none" stroke="#000" stroke-width="1.1" stroke-linecap="butt" stroke-linejoin="miter"/>
<path d="M90.8,1313.4 Q88.4,1316.2 90.8,1319.0" fill="none" stroke="#000" stroke-width="1.1" stroke-linecap="butt" stroke-linejoin="miter"/>
<path d="M240.4,1245 L253.8,1259.5 L267.2,1245 M240.4,1259 L253.8,1244.5 L267.2,1259" fill="none" stroke="#000" stroke-width="2" stroke-linecap="butt" stroke-linejoin="miter" stroke-dasharray="4.5 2"/>
<path d="M296,1187.0 L312.2,1201.3 L296,1215.6 M311,1187.0 L294.8,1201.3 L311,1215.6" fill="none" stroke="#000" stroke-width="2" stroke-linecap="butt" stroke-linejoin="miter" stroke-dasharray="4.5 2"/>
<path d="M245.6,1273 L258.7,1287.5 L271.8,1273 M245.6,1287 L258.7,1272.5 L271.8,1287" fill="none" stroke="#000" stroke-width="2" stroke-linecap="butt" stroke-linejoin="miter" stroke-dasharray="4.5 2"/>
<path d="M326,1187.0 L340.2,1201.3 L326,1215.6 M339,1187.0 L324.8,1201.3 L339,1215.6" fill="none" stroke="#000" stroke-width="2" stroke-linecap="butt" stroke-linejoin="miter" stroke-dasharray="4.5 2"/>
<path d="M296,618.8 L312.2,633.0999999999999 L296,647.4 M311,618.8 L294.8,633.0999999999999 L311,647.4" fill="none" stroke="#000" stroke-width="2" stroke-linecap="butt" stroke-linejoin="miter" stroke-dasharray="4.5 2"/>
<path d="M296,249.6 L312.2,264.0 L296,278.4 M311,249.6 L294.8,264.0 L311,278.4" fill="none" stroke="#000" stroke-width="2" stroke-linecap="butt" stroke-linejoin="miter" stroke-dasharray="4.5 2"/>
<path d="M65.6,1175.6 L65.6,1189.4" stroke="#000" stroke-width="4.2" stroke-linecap="round" fill="none"/>
<path d="M65.6,1189.4 L53.4,1189.4" stroke="#000" stroke-width="4.2" stroke-linecap="round" fill="none"/>
<path d="M46.6,1189.4 L36.4,1189.4" stroke="#000" stroke-width="4.2" stroke-linecap="round" fill="none"/>
<path d="M418.4,893.0 L404.5,897.2" fill="none" stroke="#000" stroke-width="1.1" stroke-linecap="butt" stroke-linejoin="miter"/>
<path d="M397.6,899.0 L405.0,894.0 L406.4,899.4 Z" fill="#000"/>
<path d="M445.4,1023.0 L441,1023.2 L434.8,1025.6" fill="none" stroke="#000" stroke-width="1.1" stroke-linecap="butt" stroke-linejoin="miter"/>
<path d="M427.6,1027.0 L435.0,1023.0 L435.8,1028.6 Z" fill="#000"/>
<path d="M220.2,915.0 L238.3,999.0 L238.3,1005.8 L233.0,1022.0" fill="none" stroke="#000" stroke-width="1.1" stroke-linecap="butt" stroke-linejoin="miter"/>
<path d="M216.4,901.0 L216.4,916.8 L224.0,913.6 Z" fill="#000"/>
<path d="M228.3,1032.8 L228.3,1023.0 L236.8,1021.4 Z" fill="#000"/>
</g>
<g opacity="0.999">
<text transform="translate(77.20,182.60)" font-size="11.0" text-anchor="middle">1</text>
<text transform="translate(77.20,196.60)" font-size="11.0" text-anchor="middle">2</text>
<text transform="translate(77.20,211.60)" font-size="11.0" text-anchor="middle">3</text>
<text transform="translate(77.20,225.60)" font-size="11.0" text-anchor="middle">4</text>
<text transform="translate(77.20,239.60)" font-size="11.0" text-anchor="middle">5</text>
<text transform="translate(77.20,253.60)" font-size="11.0" text-anchor="middle">6</text>
<text transform="translate(77.20,267.60)" font-size="11.0" text-anchor="middle">7</text>
<text transform="translate(77.20,282.60)" font-size="11.0" text-anchor="middle">8</text>
<text transform="translate(77.20,296.60)" font-size="11.0" text-anchor="middle">9</text>
<text transform="translate(77.20,310.60)" font-size="11.0" text-anchor="middle">10</text>
<text transform="translate(77.20,324.60)" font-size="11.0" text-anchor="middle">11</text>
<text transform="translate(77.20,338.60)" font-size="11.0" text-anchor="middle">12</text>
<text transform="translate(77.20,353.60)" font-size="11.0" text-anchor="middle">13</text>
<text transform="translate(77.20,367.60)" font-size="11.0" text-anchor="middle">14</text>
<text transform="translate(77.20,381.60)" font-size="11.0" text-anchor="middle">15</text>
<text transform="translate(77.20,395.60)" font-size="11.0" text-anchor="middle">16</text>
<text transform="translate(77.20,409.60)" font-size="11.0" text-anchor="middle">17</text>
<text transform="translate(77.20,424.60)" font-size="11.0" text-anchor="middle">18</text>
<text transform="translate(77.20,438.60)" font-size="11.0" text-anchor="middle">19</text>
<text transform="translate(77.20,452.60)" font-size="11.0" text-anchor="middle">20</text>
<text transform="translate(77.20,466.60)" font-size="11.0" text-anchor="middle">21</text>
<text transform="translate(77.20,480.60)" font-size="11.0" text-anchor="middle">22</text>
<text transform="translate(77.20,495.60)" font-size="11.0" text-anchor="middle">23</text>
<text transform="translate(77.20,509.60)" font-size="11.0" text-anchor="middle">24</text>
<text transform="translate(77.20,523.60)" font-size="11.0" text-anchor="middle">25</text>
<text transform="translate(77.20,537.60)" font-size="11.0" text-anchor="middle">26</text>
<text transform="translate(77.20,552.60)" font-size="11.0" text-anchor="middle">27</text>
<text transform="translate(77.20,566.60)" font-size="11.0" text-anchor="middle">28</text>
<text transform="translate(77.20,580.60)" font-size="11.0" text-anchor="middle">29</text>
<text transform="translate(77.20,594.60)" font-size="11.0" text-anchor="middle">30</text>
<text transform="translate(77.20,608.60)" font-size="11.0" text-anchor="middle">31</text>
<text transform="translate(77.20,623.60)" font-size="11.0" text-anchor="middle">32</text>
<text transform="translate(77.20,637.60)" font-size="11.0" text-anchor="middle">33</text>
<text transform="translate(77.20,651.60)" font-size="11.0" text-anchor="middle">34</text>
<text transform="translate(77.20,665.60)" font-size="11.0" text-anchor="middle">35</text>
<text transform="translate(77.20,679.60)" font-size="11.0" text-anchor="middle">36</text>
<text transform="translate(77.20,694.60)" font-size="11.0" text-anchor="middle">37</text>
<text transform="translate(77.20,708.60)" font-size="11.0" text-anchor="middle">38</text>
<text transform="translate(77.20,722.60)" font-size="11.0" text-anchor="middle">39</text>
<text transform="translate(77.20,736.60)" font-size="11.0" text-anchor="middle">40</text>
<text transform="translate(77.20,750.60)" font-size="11.0" text-anchor="middle">41</text>
<text transform="translate(77.20,765.60)" font-size="11.0" text-anchor="middle">42</text>
<text transform="translate(77.20,779.60)" font-size="11.0" text-anchor="middle">43</text>
<text transform="translate(77.20,793.60)" font-size="11.0" text-anchor="middle">44</text>
<text transform="translate(77.20,807.60)" font-size="11.0" text-anchor="middle">45</text>
<text transform="translate(77.20,821.60)" font-size="11.0" text-anchor="middle">46</text>
<text transform="translate(77.20,836.60)" font-size="11.0" text-anchor="middle">47</text>
<text transform="translate(77.20,850.60)" font-size="11.0" text-anchor="middle">48</text>
<text transform="translate(77.20,864.60)" font-size="11.0" text-anchor="middle">49</text>
<text transform="translate(77.20,878.60)" font-size="11.0" text-anchor="middle">50</text>
<text transform="translate(77.20,892.60)" font-size="11.0" text-anchor="middle">51</text>
<text transform="translate(77.20,907.60)" font-size="11.0" text-anchor="middle">52</text>
<text transform="translate(77.20,921.60)" font-size="11.0" text-anchor="middle">53</text>
<text transform="translate(77.20,935.60)" font-size="11.0" text-anchor="middle">54</text>
<text transform="translate(77.20,949.60)" font-size="11.0" text-anchor="middle">55</text>
<text transform="translate(77.20,963.60)" font-size="11.0" text-anchor="middle">56</text>
<text transform="translate(77.20,978.60)" font-size="11.0" text-anchor="middle">57</text>
<text transform="translate(77.20,992.60)" font-size="11.0" text-anchor="middle">58</text>
<text transform="translate(77.20,1006.60)" font-size="11.0" text-anchor="middle">59</text>
<text transform="translate(77.20,1020.60)" font-size="11.0" text-anchor="middle">60</text>
<text transform="translate(77.20,1034.60)" font-size="11.0" text-anchor="middle">61</text>
<text transform="translate(77.20,1049.60)" font-size="11.0" text-anchor="middle">62</text>
<text transform="translate(77.20,1063.60)" font-size="11.0" text-anchor="middle">63</text>
<text transform="translate(77.20,1077.60)" font-size="11.0" text-anchor="middle">64</text>
<text transform="translate(77.20,1091.60)" font-size="11.0" text-anchor="middle">65</text>
<text transform="translate(77.20,1106.60)" font-size="11.0" text-anchor="middle">66</text>
<text transform="translate(77.20,1120.60)" font-size="11.0" text-anchor="middle">67</text>
<text transform="translate(77.20,1134.60)" font-size="11.0" text-anchor="middle">68</text>
<text transform="translate(77.20,1148.60)" font-size="11.0" text-anchor="middle">69</text>
<text transform="translate(77.20,1162.60)" font-size="11.0" text-anchor="middle">70</text>
<text transform="translate(717.20,182.60)" font-size="11.0" text-anchor="middle">1</text>
<text transform="translate(736.10,181.50) scale(1.003,1)" font-size="12.0" text-anchor="start">FUEL SHUTOFF</text>
<text transform="translate(717.20,196.60)" font-size="11.0" text-anchor="middle">2</text>
<text transform="translate(736.10,195.50) scale(1.003,1)" font-size="12.0" text-anchor="start">SWB INPUT 1</text>
<text transform="translate(717.20,211.60)" font-size="11.0" text-anchor="middle">3</text>
<text transform="translate(736.10,210.50) scale(1.003,1)" font-size="12.0" text-anchor="start">SWB INPUT 2</text>
<text transform="translate(717.20,225.60)" font-size="11.0" text-anchor="middle">4</text>
<text transform="translate(736.10,224.50) scale(1.003,1)" font-size="12.0" text-anchor="start">DATA LINK +</text>
<text transform="translate(717.20,239.60)" font-size="11.0" text-anchor="middle">5</text>
<text transform="translate(736.10,238.50) scale(1.003,1)" font-size="12.0" text-anchor="start">DATA LINK -</text>
<text transform="translate(717.20,253.60)" font-size="11.0" text-anchor="middle">6</text>
<text transform="translate(717.20,267.60)" font-size="11.0" text-anchor="middle">7</text>
<text transform="translate(717.20,282.60)" font-size="11.0" text-anchor="middle">8</text>
<text transform="translate(717.20,296.60)" font-size="11.0" text-anchor="middle">9</text>
<text transform="translate(736.10,295.50) scale(1.003,1)" font-size="12.0" text-anchor="start">SWITCH INPUT 11</text>
<text transform="translate(717.20,310.60)" font-size="11.0" text-anchor="middle">10</text>
<text transform="translate(736.10,309.50) scale(1.003,1)" font-size="12.0" text-anchor="start">SWITCH INPUT 8</text>
<text transform="translate(717.20,324.60)" font-size="11.0" text-anchor="middle">11</text>
<text transform="translate(736.10,323.50) scale(1.003,1)" font-size="12.0" text-anchor="start">SWITCH INPUT 5</text>
<text transform="translate(717.20,338.60)" font-size="11.0" text-anchor="middle">12</text>
<text transform="translate(736.10,337.50) scale(1.003,1)" font-size="12.0" text-anchor="start">DIGITAL OUTPUT 2</text>
<text transform="translate(717.20,353.60)" font-size="11.0" text-anchor="middle">13</text>
<text transform="translate(736.10,352.50) scale(1.003,1)" font-size="12.0" text-anchor="start">DIGITAL OUTPUT 4</text>
<text transform="translate(717.20,367.60)" font-size="11.0" text-anchor="middle">14</text>
<text transform="translate(736.10,366.50) scale(1.003,1)" font-size="12.0" text-anchor="start">BOOST PRESSURE</text>
<text transform="translate(717.20,381.60)" font-size="11.0" text-anchor="middle">15</text>
<text transform="translate(736.10,380.50) scale(1.003,1)" font-size="12.0" text-anchor="start">ENGINE COOLANT TEMPERATURE</text>
<text transform="translate(717.20,395.60)" font-size="11.0" text-anchor="middle">16</text>
<text transform="translate(736.10,394.50) scale(1.003,1)" font-size="12.0" text-anchor="start">THROTTLE 1 INPUT</text>
<text transform="translate(717.20,409.60)" font-size="11.0" text-anchor="middle">17</text>
<text transform="translate(736.10,408.50) scale(1.003,1)" font-size="12.0" text-anchor="start">+8V SENSOR SUPPLY</text>
<text transform="translate(717.20,424.60)" font-size="11.0" text-anchor="middle">18</text>
<text transform="translate(736.10,423.50) scale(1.003,1)" font-size="12.0" text-anchor="start">THROTTLE 2 INPUT</text>
<text transform="translate(717.20,438.60)" font-size="11.0" text-anchor="middle">19</text>
<text transform="translate(736.10,437.50) scale(1.003,1)" font-size="12.0" text-anchor="start">SWITCH INPUT 6</text>
<text transform="translate(717.20,452.60)" font-size="11.0" text-anchor="middle">20</text>
<text transform="translate(736.10,451.50) scale(1.003,1)" font-size="12.0" text-anchor="start">SWITCH INPUT 4</text>
<text transform="translate(717.20,466.60)" font-size="11.0" text-anchor="middle">21</text>
<text transform="translate(736.10,465.50) scale(1.003,1)" font-size="12.0" text-anchor="start">SWITCH INPUT 10</text>
<text transform="translate(717.20,480.60)" font-size="11.0" text-anchor="middle">22</text>
<text transform="translate(736.10,479.50) scale(1.003,1)" font-size="12.0" text-anchor="start">SWITCH INPUT 1</text>
<text transform="translate(717.20,495.60)" font-size="11.0" text-anchor="middle">23</text>
<text transform="translate(736.10,494.50) scale(1.003,1)" font-size="12.0" text-anchor="start">DIGITAL OUTPUT 3</text>
<text transform="translate(717.20,509.60)" font-size="11.0" text-anchor="middle">24</text>
<text transform="translate(736.10,508.50) scale(1.003,1)" font-size="12.0" text-anchor="start">ENGINE OIL PRESSURE</text>
<text transform="translate(717.20,523.60)" font-size="11.0" text-anchor="middle">25</text>
<text transform="translate(736.10,522.50) scale(1.003,1)" font-size="12.0" text-anchor="start">ACTIVE ANALOG INPUT 4</text>
<text transform="translate(717.20,537.60)" font-size="11.0" text-anchor="middle">26</text>
<text transform="translate(736.10,536.50) scale(1.003,1)" font-size="12.0" text-anchor="start">+5V SENSOR SUPPLY</text>
<text transform="translate(717.20,552.60)" font-size="11.0" text-anchor="middle">27</text>
<text transform="translate(717.20,566.60)" font-size="11.0" text-anchor="middle">28</text>
<text transform="translate(736.10,565.50) scale(1.003,1)" font-size="12.0" text-anchor="start">SWITCH INPUT 3</text>
<text transform="translate(717.20,580.60)" font-size="11.0" text-anchor="middle">29</text>
<text transform="translate(736.10,579.50) scale(1.003,1)" font-size="12.0" text-anchor="start">SWITCH INPUT 7</text>
<text transform="translate(717.20,594.60)" font-size="11.0" text-anchor="middle">30</text>
<text transform="translate(736.10,593.50) scale(1.003,1)" font-size="12.0" text-anchor="start">SWITCH INPUT 9</text>
<text transform="translate(717.20,608.60)" font-size="11.0" text-anchor="middle">31</text>
<text transform="translate(736.10,607.50) scale(1.003,1)" font-size="12.0" text-anchor="start">DIGITAL OUTPUT 1</text>
<text transform="translate(717.20,623.60)" font-size="11.0" text-anchor="middle">32</text>
<text transform="translate(736.10,622.50) scale(1.003,1)" font-size="12.0" text-anchor="start">INLET AIR TEMPERATURE</text>
<text transform="translate(717.20,637.60)" font-size="11.0" text-anchor="middle">33</text>
<text transform="translate(717.20,651.60)" font-size="11.0" text-anchor="middle">34</text>
<text transform="translate(736.10,650.50) scale(1.003,1)" font-size="12.0" text-anchor="start">SENSOR COMMON</text>
<text transform="translate(717.20,665.60)" font-size="11.0" text-anchor="middle">35</text>
<text transform="translate(736.10,664.50) scale(1.003,1)" font-size="12.0" text-anchor="start">PASSIVE ANALOG INPUT 3</text>
<text transform="translate(717.20,679.60)" font-size="11.0" text-anchor="middle">36</text>
<text transform="translate(736.10,678.50) scale(1.003,1)" font-size="12.0" text-anchor="start">SWITCH INPUT 2</text>
<text transform="translate(717.20,694.60)" font-size="11.0" text-anchor="middle">37</text>
<text transform="translate(736.10,693.50) scale(1.003,1)" font-size="12.0" text-anchor="start">SWITCH RETURN</text>
<text transform="translate(717.20,708.60)" font-size="11.0" text-anchor="middle">38</text>
<text transform="translate(736.10,707.50) scale(1.003,1)" font-size="12.0" text-anchor="start">SWITCH INPUT 12</text>
<text transform="translate(717.20,722.60)" font-size="11.0" text-anchor="middle">39</text>
<text transform="translate(736.10,721.50) scale(1.003,1)" font-size="12.0" text-anchor="start">TACHOMETER</text>
<text transform="translate(717.20,736.60)" font-size="11.0" text-anchor="middle">40</text>
<text transform="translate(717.20,750.60)" font-size="11.0" text-anchor="middle">41</text>
<text transform="translate(736.10,749.50) scale(1.003,1)" font-size="12.0" text-anchor="start">ENGINE SPEED/TIMING +</text>
<text transform="translate(717.20,765.60)" font-size="11.0" text-anchor="middle">42</text>
<text transform="translate(736.10,764.50) scale(1.003,1)" font-size="12.0" text-anchor="start">FUEL PUMP POWER CONTROL</text>
<text transform="translate(717.20,779.60)" font-size="11.0" text-anchor="middle">43</text>
<text transform="translate(736.10,778.50) scale(1.003,1)" font-size="12.0" text-anchor="start">DIGITAL OUTPUT 5</text>
<text transform="translate(717.20,793.60)" font-size="11.0" text-anchor="middle">44</text>
<text transform="translate(736.10,792.50) scale(1.003,1)" font-size="12.0" text-anchor="start">SENSOR COMMON</text>
<text transform="translate(717.20,807.60)" font-size="11.0" text-anchor="middle">45</text>
<text transform="translate(736.10,806.50) scale(1.003,1)" font-size="12.0" text-anchor="start">+5V SENSOR SUPPLY</text>
<text transform="translate(717.20,821.60)" font-size="11.0" text-anchor="middle">46</text>
<text transform="translate(736.10,820.50) scale(1.003,1)" font-size="12.0" text-anchor="start">COOLANT TEMPERATURE GAUGE</text>
<text transform="translate(717.20,836.60)" font-size="11.0" text-anchor="middle">47</text>
<text transform="translate(736.10,835.50) scale(1.003,1)" font-size="12.0" text-anchor="start">OIL PRESSURE GAUGE</text>
<text transform="translate(717.20,850.60)" font-size="11.0" text-anchor="middle">48</text>
<text transform="translate(736.10,849.50) scale(1.003,1)" font-size="12.0" text-anchor="start">CAN A DATA LINK +</text>
<text transform="translate(717.20,864.60)" font-size="11.0" text-anchor="middle">49</text>
<text transform="translate(736.10,863.50) scale(1.003,1)" font-size="12.0" text-anchor="start">ENGINE SPEED/TIMING -</text>
<text transform="translate(717.20,878.60)" font-size="11.0" text-anchor="middle">50</text>
<text transform="translate(736.10,877.50) scale(1.003,1)" font-size="12.0" text-anchor="start">STARTER MOTOR RETURN</text>
<text transform="translate(717.20,892.60)" font-size="11.0" text-anchor="middle">51</text>
<text transform="translate(717.20,907.60)" font-size="11.0" text-anchor="middle">52</text>
<text transform="translate(736.10,906.50) scale(1.003,1)" font-size="12.0" text-anchor="start">J1939 DATA LINK +</text>
<text transform="translate(717.20,921.60)" font-size="11.0" text-anchor="middle">53</text>
<text transform="translate(736.10,920.50) scale(1.003,1)" font-size="12.0" text-anchor="start">DIGITAL OUTPUT 14</text>
<text transform="translate(717.20,935.60)" font-size="11.0" text-anchor="middle">54</text>
<text transform="translate(736.10,934.50) scale(1.003,1)" font-size="12.0" text-anchor="start">DIGITAL OUTPUT 12</text>
<text transform="translate(717.20,949.60)" font-size="11.0" text-anchor="middle">55</text>
<text transform="translate(736.10,948.50) scale(1.003,1)" font-size="12.0" text-anchor="start">BATTERY -</text>
<text transform="translate(717.20,963.60)" font-size="11.0" text-anchor="middle">56</text>
<text transform="translate(736.10,962.50) scale(1.003,1)" font-size="12.0" text-anchor="start">BATTERY +</text>
<text transform="translate(717.20,978.60)" font-size="11.0" text-anchor="middle">57</text>
<text transform="translate(736.10,977.50) scale(1.003,1)" font-size="12.0" text-anchor="start">BATTERY +</text>
<text transform="translate(717.20,992.60)" font-size="11.0" text-anchor="middle">58</text>
<text transform="translate(736.10,991.50) scale(1.003,1)" font-size="12.0" text-anchor="start">CAN A DATA LINK -</text>
<text transform="translate(717.20,1006.60)" font-size="11.0" text-anchor="middle">59</text>
<text transform="translate(736.10,1005.50) scale(1.003,1)" font-size="12.0" text-anchor="start">ENGINE POSITION</text>
<text transform="translate(717.20,1020.60)" font-size="11.0" text-anchor="middle">60</text>
<text transform="translate(736.10,1019.50) scale(1.003,1)" font-size="12.0" text-anchor="start">STARTER MOTOR</text>
<text transform="translate(717.20,1034.60)" font-size="11.0" text-anchor="middle">61</text>
<text transform="translate(736.10,1033.50) scale(1.003,1)" font-size="12.0" text-anchor="start">J1939 DATA LINK -</text>
<text transform="translate(717.20,1049.60)" font-size="11.0" text-anchor="middle">62</text>
<text transform="translate(736.10,1048.50) scale(1.003,1)" font-size="12.0" text-anchor="start">DIGITAL OUTPUT 13</text>
<text transform="translate(717.20,1063.60)" font-size="11.0" text-anchor="middle">63</text>
<text transform="translate(736.10,1062.50) scale(1.003,1)" font-size="12.0" text-anchor="start">DIGITAL OUTPUT 10</text>
<text transform="translate(717.20,1077.60)" font-size="11.0" text-anchor="middle">64</text>
<text transform="translate(736.10,1076.50) scale(1.003,1)" font-size="12.0" text-anchor="start">DIGITAL OUTPUT 9</text>
<text transform="translate(717.20,1091.60)" font-size="11.0" text-anchor="middle">65</text>
<text transform="translate(736.10,1090.50) scale(1.003,1)" font-size="12.0" text-anchor="start">DIGITAL OUTPUT 8</text>
<text transform="translate(717.20,1106.60)" font-size="11.0" text-anchor="middle">66</text>
<text transform="translate(736.10,1105.50) scale(1.003,1)" font-size="12.0" text-anchor="start">DIGITAL OUT PUT 7</text>
<text transform="translate(717.20,1120.60)" font-size="11.0" text-anchor="middle">67</text>
<text transform="translate(736.10,1119.50) scale(1.003,1)" font-size="12.0" text-anchor="start">DIGITAL OUTPUT 11</text>
<text transform="translate(717.20,1134.60)" font-size="11.0" text-anchor="middle">68</text>
<text transform="translate(736.10,1133.50) scale(1.003,1)" font-size="12.0" text-anchor="start">BATTERY -</text>
<text transform="translate(717.20,1148.60)" font-size="11.0" text-anchor="middle">69</text>
<text transform="translate(736.10,1147.50) scale(1.003,1)" font-size="12.0" text-anchor="start">BATTERY -</text>
<text transform="translate(717.20,1162.60)" font-size="11.0" text-anchor="middle">70</text>
<text transform="translate(736.10,1161.50) scale(1.003,1)" font-size="12.0" text-anchor="start">KEY SWITCH INPUT</text>
<text transform="translate(652.60,181.23) scale(1.042,1)" font-size="11.6" text-anchor="middle">F770 - BR</text>
<text transform="translate(652.60,365.90) scale(1.042,1)" font-size="11.6" text-anchor="middle">X731 - BU</text>
<text transform="translate(652.60,380.10) scale(1.042,1)" font-size="11.6" text-anchor="middle">995 - BU</text>
<text transform="translate(652.60,507.94) scale(1.042,1)" font-size="11.6" text-anchor="middle">994 - GY</text>
<text transform="translate(652.60,536.36) scale(1.042,1)" font-size="11.6" text-anchor="middle">L730 - OR</text>
<text transform="translate(652.60,621.59) scale(1.042,1)" font-size="11.6" text-anchor="middle">C967 - BU</text>
<text transform="translate(652.60,649.99) scale(1.042,1)" font-size="11.6" text-anchor="middle">L731 - BR</text>
<text transform="translate(652.60,749.43) scale(1.042,1)" font-size="11.6" text-anchor="middle">E966 -  YL</text>
<text transform="translate(141.20,848.87) scale(1.042,1)" font-size="11.6" text-anchor="middle">323 - WH - 14</text>
<text transform="translate(652.60,848.87) scale(1.042,1)" font-size="11.6" text-anchor="middle">YL</text>
<text transform="translate(652.60,863.07) scale(1.042,1)" font-size="11.6" text-anchor="middle">E965 - BU</text>
<text transform="translate(141.20,990.91) scale(1.042,1)" font-size="11.6" text-anchor="middle">200 - BK</text>
<text transform="translate(652.60,990.91) scale(1.042,1)" font-size="11.6" text-anchor="middle">GN</text>
<text transform="translate(652.60,1005.12) scale(1.042,1)" font-size="11.6" text-anchor="middle">999 - WH</text>
<text transform="translate(141.20,195.44) scale(1.042,1)" font-size="11.6" text-anchor="middle">A709 - OR</text>
<text transform="translate(652.60,195.44) scale(1.042,1)" font-size="11.6" text-anchor="middle">A709 - OR</text>
<text transform="translate(141.20,209.64) scale(1.042,1)" font-size="11.6" text-anchor="middle">F714 - PK</text>
<text transform="translate(652.60,209.64) scale(1.042,1)" font-size="11.6" text-anchor="middle">F714 - PK</text>
<text transform="translate(141.20,294.87) scale(1.042,1)" font-size="11.6" text-anchor="middle">A711 - PU</text>
<text transform="translate(652.60,294.87) scale(1.042,1)" font-size="11.6" text-anchor="middle">A711 - PU</text>
<text transform="translate(141.20,309.07) scale(1.042,1)" font-size="11.6" text-anchor="middle">F720 - GN</text>
<text transform="translate(652.60,309.07) scale(1.042,1)" font-size="11.6" text-anchor="middle">F720 - GN</text>
<text transform="translate(141.20,323.28) scale(1.042,1)" font-size="11.6" text-anchor="middle">F718 - BU</text>
<text transform="translate(652.60,323.28) scale(1.042,1)" font-size="11.6" text-anchor="middle">F718 - BU</text>
<text transform="translate(141.20,337.49) scale(1.042,1)" font-size="11.6" text-anchor="middle">F709 - BU</text>
<text transform="translate(652.60,337.49) scale(1.042,1)" font-size="11.6" text-anchor="middle">F709 - BU</text>
<text transform="translate(141.20,351.69) scale(1.042,1)" font-size="11.6" text-anchor="middle">F707 - WH</text>
<text transform="translate(652.60,351.69) scale(1.042,1)" font-size="11.6" text-anchor="middle">F707 - WH</text>
<text transform="translate(141.20,394.31) scale(1.042,1)" font-size="11.6" text-anchor="middle">F702 - GN</text>
<text transform="translate(652.60,394.31) scale(1.042,1)" font-size="11.6" text-anchor="middle">F702 - GN</text>
<text transform="translate(141.20,408.51) scale(1.042,1)" font-size="11.6" text-anchor="middle">A700 - OR</text>
<text transform="translate(652.60,408.51) scale(1.042,1)" font-size="11.6" text-anchor="middle">A700 - OR</text>
<text transform="translate(141.20,422.72) scale(1.042,1)" font-size="11.6" text-anchor="middle">A746 - PK</text>
<text transform="translate(652.60,422.72) scale(1.042,1)" font-size="11.6" text-anchor="middle">A746 - PK</text>
<text transform="translate(141.20,436.92) scale(1.042,1)" font-size="11.6" text-anchor="middle">F719 - BR</text>
<text transform="translate(652.60,436.92) scale(1.042,1)" font-size="11.6" text-anchor="middle">F719 - BR</text>
<text transform="translate(141.20,451.12) scale(1.042,1)" font-size="11.6" text-anchor="middle">F717 - YL</text>
<text transform="translate(652.60,451.12) scale(1.042,1)" font-size="11.6" text-anchor="middle">F717 - YL</text>
<text transform="translate(141.20,465.33) scale(1.042,1)" font-size="11.6" text-anchor="middle">F722 - OR</text>
<text transform="translate(652.60,465.33) scale(1.042,1)" font-size="11.6" text-anchor="middle">F722 - OR</text>
<text transform="translate(141.20,479.54) scale(1.042,1)" font-size="11.6" text-anchor="middle">A710 - GY</text>
<text transform="translate(652.60,479.54) scale(1.042,1)" font-size="11.6" text-anchor="middle">A710 - GY</text>
<text transform="translate(141.20,493.74) scale(1.042,1)" font-size="11.6" text-anchor="middle">F708 - YL</text>
<text transform="translate(652.60,493.74) scale(1.042,1)" font-size="11.6" text-anchor="middle">F708 - YL</text>
<text transform="translate(141.20,522.15) scale(1.042,1)" font-size="11.6" text-anchor="middle">F703 - GY</text>
<text transform="translate(652.60,522.15) scale(1.042,1)" font-size="11.6" text-anchor="middle">F703 - GY</text>
<text transform="translate(141.20,564.76) scale(1.042,1)" font-size="11.6" text-anchor="middle">F716 - WH</text>
<text transform="translate(652.60,564.76) scale(1.042,1)" font-size="11.6" text-anchor="middle">F716 - WH</text>
<text transform="translate(141.20,578.97) scale(1.042,1)" font-size="11.6" text-anchor="middle">F727 - BU</text>
<text transform="translate(652.60,578.97) scale(1.042,1)" font-size="11.6" text-anchor="middle">F727 - BU</text>
<text transform="translate(141.20,593.17) scale(1.042,1)" font-size="11.6" text-anchor="middle">F721 - GY</text>
<text transform="translate(652.60,593.17) scale(1.042,1)" font-size="11.6" text-anchor="middle">F721 - GY</text>
<text transform="translate(141.20,607.38) scale(1.042,1)" font-size="11.6" text-anchor="middle">F710 - BR</text>
<text transform="translate(652.60,607.38) scale(1.042,1)" font-size="11.6" text-anchor="middle">F710 - BR</text>
<text transform="translate(141.20,664.20) scale(1.042,1)" font-size="11.6" text-anchor="middle">F713 - OR</text>
<text transform="translate(652.60,664.20) scale(1.042,1)" font-size="11.6" text-anchor="middle">F713 - OR</text>
<text transform="translate(141.20,678.40) scale(1.042,1)" font-size="11.6" text-anchor="middle">F715 - PU</text>
<text transform="translate(652.60,678.40) scale(1.042,1)" font-size="11.6" text-anchor="middle">F715 - PU</text>
<text transform="translate(141.20,692.61) scale(1.042,1)" font-size="11.6" text-anchor="middle">F729 - GN</text>
<text transform="translate(652.60,692.61) scale(1.042,1)" font-size="11.6" text-anchor="middle">F729 - GN</text>
<text transform="translate(141.20,706.82) scale(1.042,1)" font-size="11.6" text-anchor="middle">A712 - BR</text>
<text transform="translate(652.60,706.82) scale(1.042,1)" font-size="11.6" text-anchor="middle">A712 - BR</text>
<text transform="translate(141.20,721.02) scale(1.042,1)" font-size="11.6" text-anchor="middle">F700 - BU</text>
<text transform="translate(652.60,721.02) scale(1.042,1)" font-size="11.6" text-anchor="middle">F700 - BU</text>
<text transform="translate(141.20,763.63) scale(1.042,1)" font-size="11.6" text-anchor="middle">325 - PK</text>
<text transform="translate(652.60,763.63) scale(1.042,1)" font-size="11.6" text-anchor="middle">325 -PK</text>
<text transform="translate(141.20,777.84) scale(1.042,1)" font-size="11.6" text-anchor="middle">375 - GN</text>
<text transform="translate(652.60,777.84) scale(1.042,1)" font-size="11.6" text-anchor="middle">375 - GN</text>
<text transform="translate(141.20,792.05) scale(1.042,1)" font-size="11.6" text-anchor="middle">993 - BR</text>
<text transform="translate(652.60,792.05) scale(1.042,1)" font-size="11.6" text-anchor="middle">993 - BR</text>
<text transform="translate(141.20,806.25) scale(1.042,1)" font-size="11.6" text-anchor="middle">997 - OR</text>
<text transform="translate(652.60,806.25) scale(1.042,1)" font-size="11.6" text-anchor="middle">997 - OR</text>
<text transform="translate(141.20,820.45) scale(1.042,1)" font-size="11.6" text-anchor="middle">E798 - PK</text>
<text transform="translate(652.60,820.45) scale(1.042,1)" font-size="11.6" text-anchor="middle">E798 - PK</text>
<text transform="translate(141.20,834.66) scale(1.042,1)" font-size="11.6" text-anchor="middle">F701 - BR</text>
<text transform="translate(652.60,834.66) scale(1.042,1)" font-size="11.6" text-anchor="middle">F701 - BR</text>
<text transform="translate(141.20,877.27) scale(1.042,1)" font-size="11.6" text-anchor="middle">F705 - PK</text>
<text transform="translate(652.60,877.27) scale(1.042,1)" font-size="11.6" text-anchor="middle">F705 - PK</text>
<text transform="translate(141.20,919.89) scale(1.042,1)" font-size="11.6" text-anchor="middle">A708 - BR</text>
<text transform="translate(652.60,919.89) scale(1.042,1)" font-size="11.6" text-anchor="middle">A708 - BR</text>
<text transform="translate(141.20,934.10) scale(1.042,1)" font-size="11.6" text-anchor="middle">A706 - GY</text>
<text transform="translate(652.60,934.10) scale(1.042,1)" font-size="11.6" text-anchor="middle">A706 - GY</text>
<text transform="translate(141.20,962.50) scale(1.042,1)" font-size="11.6" text-anchor="middle">150 - RD</text>
<text transform="translate(652.60,962.50) scale(1.042,1)" font-size="11.6" text-anchor="middle">150 - RD</text>
<text transform="translate(141.20,976.71) scale(1.042,1)" font-size="11.6" text-anchor="middle">150 - RD</text>
<text transform="translate(652.60,976.71) scale(1.042,1)" font-size="11.6" text-anchor="middle">150 - RD</text>
<text transform="translate(141.20,1019.33) scale(1.042,1)" font-size="11.6" text-anchor="middle">F706 - PU</text>
<text transform="translate(652.60,1019.33) scale(1.042,1)" font-size="11.6" text-anchor="middle">F706 - PU</text>
<text transform="translate(141.20,1047.73) scale(1.042,1)" font-size="11.6" text-anchor="middle">A707 - PU</text>
<text transform="translate(652.60,1047.73) scale(1.042,1)" font-size="11.6" text-anchor="middle">A707 - PU</text>
<text transform="translate(141.20,1061.94) scale(1.042,1)" font-size="11.6" text-anchor="middle">A704 - GN</text>
<text transform="translate(652.60,1061.94) scale(1.042,1)" font-size="11.6" text-anchor="middle">A704 - GN</text>
<text transform="translate(141.20,1076.14) scale(1.042,1)" font-size="11.6" text-anchor="middle">A703 - BR</text>
<text transform="translate(652.60,1076.14) scale(1.042,1)" font-size="11.6" text-anchor="middle">A703 - BR</text>
<text transform="translate(141.20,1090.35) scale(1.042,1)" font-size="11.6" text-anchor="middle">A702 - PU</text>
<text transform="translate(652.60,1090.35) scale(1.042,1)" font-size="11.6" text-anchor="middle">A702 - PU</text>
<text transform="translate(141.20,1104.56) scale(1.042,1)" font-size="11.6" text-anchor="middle">A701 - GY</text>
<text transform="translate(652.60,1104.56) scale(1.042,1)" font-size="11.6" text-anchor="middle">A701 - GY</text>
<text transform="translate(141.20,1118.76) scale(1.042,1)" font-size="11.6" text-anchor="middle">A705 - BU</text>
<text transform="translate(652.60,1118.76) scale(1.042,1)" font-size="11.6" text-anchor="middle">A705 - BU</text>
<text transform="translate(141.20,1132.96) scale(1.042,1)" font-size="11.6" text-anchor="middle">229 - BK</text>
<text transform="translate(652.60,1132.96) scale(1.042,1)" font-size="11.6" text-anchor="middle">229 - BK</text>
<text transform="translate(141.20,1147.17) scale(1.042,1)" font-size="11.6" text-anchor="middle">229 - BK</text>
<text transform="translate(652.60,1147.17) scale(1.042,1)" font-size="11.6" text-anchor="middle">229 - BK</text>
<text transform="translate(141.20,1161.38) scale(1.042,1)" font-size="11.6" text-anchor="middle">308 - YL</text>
<text transform="translate(652.60,1161.38) scale(1.042,1)" font-size="11.6" text-anchor="middle">308 - YL</text>
<text transform="translate(141.20,223.85) scale(1.042,1)" font-size="11.6" text-anchor="middle">893 - GN</text>
<text transform="translate(652.60,223.85) scale(1.042,1)" font-size="11.6" text-anchor="middle">893 - GN</text>
<text transform="translate(141.20,238.05) scale(1.042,1)" font-size="11.6" text-anchor="middle">892 - BR</text>
<text transform="translate(652.60,238.05) scale(1.042,1)" font-size="11.6" text-anchor="middle">892 - BR</text>
<text transform="translate(141.20,905.68) scale(1.042,1)" font-size="11.6" text-anchor="middle">YL</text>
<text transform="translate(371.00,905.68) scale(1.042,1)" font-size="11.6" text-anchor="middle">F711 - YL</text>
<text transform="translate(652.60,905.68) scale(1.042,1)" font-size="11.6" text-anchor="middle">F711 - YL</text>
<text transform="translate(141.20,1033.53) scale(1.042,1)" font-size="11.6" text-anchor="middle">GN</text>
<text transform="translate(398.40,1033.53) scale(1.042,1)" font-size="11.6" text-anchor="middle">F712 - GN</text>
<text transform="translate(652.60,1033.53) scale(1.042,1)" font-size="11.6" text-anchor="middle">F712 - GN</text>
<text transform="translate(111.60,39.20) scale(1.03,1)" font-size="11.6" text-anchor="start">994 - GY</text>
<text transform="translate(111.60,54.20) scale(1.03,1)" font-size="11.6" text-anchor="start">995 - BU</text>
<text transform="translate(111.60,68.20) scale(1.03,1)" font-size="11.6" text-anchor="start">C967- BU</text>
<text transform="translate(111.60,82.20) scale(1.03,1)" font-size="11.6" text-anchor="start">L730 - OR</text>
<text transform="translate(111.60,96.20) scale(1.03,1)" font-size="11.6" text-anchor="start">L731 - BR</text>
<text transform="translate(111.60,111.20) scale(1.03,1)" font-size="11.6" text-anchor="start">X731 - BU</text>
<text transform="translate(111.60,125.20) scale(1.03,1)" font-size="11.6" text-anchor="start">E965- BU</text>
<text transform="translate(111.60,139.20) scale(1.03,1)" font-size="11.6" text-anchor="start">E966- YL</text>
<text transform="translate(484.20,178.50) rotate(-90) scale(0.965,1)" font-size="12.5" text-anchor="start">L731 - BR</text>
<text transform="translate(498.20,178.50) rotate(-90) scale(0.965,1)" font-size="12.5" text-anchor="start">C967 - BU</text>
<text transform="translate(513.20,178.50) rotate(-90) scale(0.965,1)" font-size="12.5" text-anchor="start">L730 - OR</text>
<text transform="translate(527.40,178.50) rotate(-90) scale(0.965,1)" font-size="12.5" text-anchor="start">994 - GY</text>
<text transform="translate(541.40,178.50) rotate(-90) scale(0.965,1)" font-size="12.5" text-anchor="start">995 - BU</text>
<text transform="translate(555.40,178.50) rotate(-90) scale(0.965,1)" font-size="12.5" text-anchor="start">X731 - BU</text>
<text transform="translate(540.80,1231.30) rotate(-90) scale(1.11,1)" font-size="9.4" text-anchor="start">323 - WH - 14</text>
<text transform="translate(554.60,1229.00) rotate(-90) scale(1.11,1)" font-size="9.4" text-anchor="start">200 - BK - 14</text>
<text transform="translate(568.70,1198.00) rotate(-90) scale(1.11,1)" font-size="9.4" text-anchor="start">GN</text>
<text transform="translate(583.40,1195.00) rotate(-90) scale(1.11,1)" font-size="9.4" text-anchor="start">YL</text>
<text transform="translate(597.80,1212.00) rotate(-90) scale(1.11,1)" font-size="9.4" text-anchor="start">F770 - BR</text>
<text transform="translate(611.80,1209.40) rotate(-90) scale(1.11,1)" font-size="9.4" text-anchor="start">999 - WH</text>
<text transform="translate(838.20,1226.10)" font-size="10.0" text-anchor="middle">1</text>
<text transform="translate(858.40,1225.15) scale(1.042,1)" font-size="11.6" text-anchor="start">CAN A DATA (-)</text>
<text transform="translate(767.20,1224.75) scale(1.042,1)" font-size="11.6" text-anchor="middle">GN</text>
<text transform="translate(838.20,1240.10)" font-size="10.0" text-anchor="middle">2</text>
<text transform="translate(858.40,1239.33) scale(1.042,1)" font-size="11.6" text-anchor="start">CAN A DATA (+)</text>
<text transform="translate(767.20,1238.93) scale(1.042,1)" font-size="11.6" text-anchor="middle">YL</text>
<text transform="translate(838.20,1254.10)" font-size="10.0" text-anchor="middle">3</text>
<text transform="translate(838.20,1268.10)" font-size="10.0" text-anchor="middle">4</text>
<text transform="translate(838.20,1282.10)" font-size="10.0" text-anchor="middle">5</text>
<text transform="translate(858.40,1281.87) scale(1.042,1)" font-size="11.6" text-anchor="start">FUEL SHUTOFF</text>
<text transform="translate(767.20,1281.47) scale(1.042,1)" font-size="11.6" text-anchor="middle">F770 - BR</text>
<text transform="translate(838.20,1297.10)" font-size="10.0" text-anchor="middle">6</text>
<text transform="translate(858.40,1296.05) scale(1.042,1)" font-size="11.6" text-anchor="start">PUMP SUPPLY (-)</text>
<text transform="translate(767.20,1295.65) scale(1.042,1)" font-size="11.6" text-anchor="middle">A278 - BK - 14</text>
<text transform="translate(838.20,1311.10)" font-size="10.0" text-anchor="middle">7</text>
<text transform="translate(858.40,1310.23) scale(1.042,1)" font-size="11.6" text-anchor="start">PUMP SUPPLY (+)</text>
<text transform="translate(767.20,1309.83) scale(1.042,1)" font-size="11.6" text-anchor="middle">329 - YL - 14</text>
<text transform="translate(838.20,1325.10)" font-size="10.0" text-anchor="middle">8</text>
<text transform="translate(858.40,1324.41) scale(1.042,1)" font-size="11.6" text-anchor="start">ENGINE POSITION</text>
<text transform="translate(767.20,1324.01) scale(1.042,1)" font-size="11.6" text-anchor="middle">999 - WH</text>
<text transform="translate(838.20,1339.10)" font-size="10.0" text-anchor="middle">9</text>
<text transform="translate(821.00,1210.40) scale(1.1497,1)" font-size="13.1" text-anchor="start">P40</text>
<text transform="translate(875.60,1193.60) scale(1.1147,1)" font-size="13" text-anchor="start">FUEL PUMP</text>
<text transform="translate(881.00,1210.40) scale(1.1139,1)" font-size="13" text-anchor="start">CONTROL</text>
<text transform="translate(364.20,1281.07) scale(0.9806,1)" font-size="11.6" text-anchor="start">(-)BATT MACHINE</text>
<text transform="translate(508.40,1282.00)" font-size="11.0" text-anchor="middle">4</text>
<text transform="translate(373.60,1296.25) scale(0.9695,1)" font-size="11.6" text-anchor="start">GROUND PUMP</text>
<text transform="translate(508.40,1297.00)" font-size="11.0" text-anchor="middle">3</text>
<text transform="translate(381.60,1310.43) scale(0.9722,1)" font-size="11.6" text-anchor="start">(+)BATT PUMP</text>
<text transform="translate(508.40,1311.00)" font-size="11.0" text-anchor="middle">2</text>
<text transform="translate(361.60,1324.61) scale(0.978,1)" font-size="11.6" text-anchor="start">(+)BATT MACHINE</text>
<text transform="translate(508.40,1325.00)" font-size="11.0" text-anchor="middle">1</text>
<text transform="translate(376.00,1248.00) scale(1.1026,1)" font-size="13" text-anchor="start">VOLTAGE LOAD</text>
<text transform="translate(350.00,1264.80) scale(1.1076,1)" font-size="13" text-anchor="start">PROTECTION MODULE</text>
<text transform="translate(78.00,1205.50)" font-size="11.0" text-anchor="middle">A</text>
<text transform="translate(78.00,1220.50)" font-size="11.0" text-anchor="middle">B</text>
<text transform="translate(78.00,1234.50)" font-size="11.0" text-anchor="middle">C</text>
<text transform="translate(78.00,1249.50)" font-size="11.0" text-anchor="middle">D</text>
<text transform="translate(78.00,1263.50)" font-size="11.0" text-anchor="middle">E</text>
<text transform="translate(78.00,1277.50)" font-size="11.0" text-anchor="middle">F</text>
<text transform="translate(78.00,1291.50)" font-size="11.0" text-anchor="middle">G</text>
<text transform="translate(78.00,1305.50)" font-size="11.0" text-anchor="middle">H</text>
<text transform="translate(78.00,1320.50)" font-size="11.0" text-anchor="middle">J</text>
<text transform="translate(38.20,1263.20) scale(1.1079,1)" font-size="13.1" text-anchor="start">J60</text>
<text transform="translate(141.20,1204.85) scale(1.042,1)" font-size="11.6" text-anchor="middle">150 - RD</text>
<text transform="translate(141.20,1219.85) scale(1.042,1)" font-size="11.6" text-anchor="middle">229 - BK</text>
<text transform="translate(141.20,1248.85) scale(1.042,1)" font-size="11.6" text-anchor="middle">893 - GN</text>
<text transform="translate(141.20,1262.85) scale(1.042,1)" font-size="11.6" text-anchor="middle">892 - BR</text>
<text transform="translate(141.20,1276.85) scale(1.042,1)" font-size="11.6" text-anchor="middle">GN</text>
<text transform="translate(141.20,1290.85) scale(1.042,1)" font-size="11.6" text-anchor="middle">YL</text>
<text transform="translate(652.60,948.30) scale(1.042,1)" font-size="11.6" text-anchor="middle">229 - BK</text>
<text transform="translate(37.40,169.50) scale(1.0639,1)" font-size="13.1" text-anchor="start">P20</text>
<text transform="translate(71.60,169.50) scale(1.1079,1)" font-size="13.1" text-anchor="start">J20</text>
<text transform="translate(99.40,165.60) scale(1.1088,1)" font-size="12.9" text-anchor="start">MACHINE INTERFACE</text>
<text transform="translate(688.90,167.60) scale(1.0422,1)" font-size="13.1" text-anchor="start">P1</text>
<text transform="translate(714.60,167.60) scale(1.0697,1)" font-size="13.1" text-anchor="start">J1</text>
<text transform="translate(797.80,163.80) scale(1.0814,1)" font-size="12.9" text-anchor="start">ECM</text>
<text transform="translate(735.50,15.80) scale(0.9508,1)" font-size="11.0" text-anchor="start">NOTE A: WITHOUT DIAGNOSTIC CONNECTOR J60, F711 - GN</text>
<text transform="translate(735.50,26.80) scale(0.9497,1)" font-size="11.0" text-anchor="start">IS YELLOW WITH NO WIRE IDENTIFICATION.</text>
<text transform="translate(735.50,50.20) scale(0.9505,1)" font-size="11.0" text-anchor="start">NOTE B: WITHOUT DIAGNOSTIC CONNECTOR J60, F712 - GY</text>
<text transform="translate(735.50,61.10) scale(0.9498,1)" font-size="11.0" text-anchor="start">IS GREEN WITH NO WIRE IDENTIFICATION.</text>
<text transform="translate(735.50,85.20) scale(0.9493,1)" font-size="11.0" text-anchor="start">NOTE C: WIRES ARE A TWISTED PAIR.</text>
<text transform="translate(735.50,107.60) scale(0.945,1)" font-size="11.0" text-anchor="start">ALL DASHED ITEMS ARE OPTIONAL.</text>
<text transform="translate(735.50,130.60) scale(0.952,1)" font-size="11.0" text-anchor="start">ALL WIRES ARE 18 AWG UNLESS OTHERWISE IDENTIFIED.</text>
<text transform="translate(419.30,896.70) scale(1.1842,1)" font-size="10.0" text-anchor="start" font-weight="bold">NOTE A</text>
<text transform="translate(447.70,1027.70) scale(1.1779,1)" font-size="10.0" text-anchor="start" font-weight="bold">NOTE B</text>
<text transform="translate(240.90,1006.50) scale(1.1514,1)" font-size="10.0" text-anchor="start" font-weight="bold">NOTE C</text>
</g>
</svg>
</body></html>
